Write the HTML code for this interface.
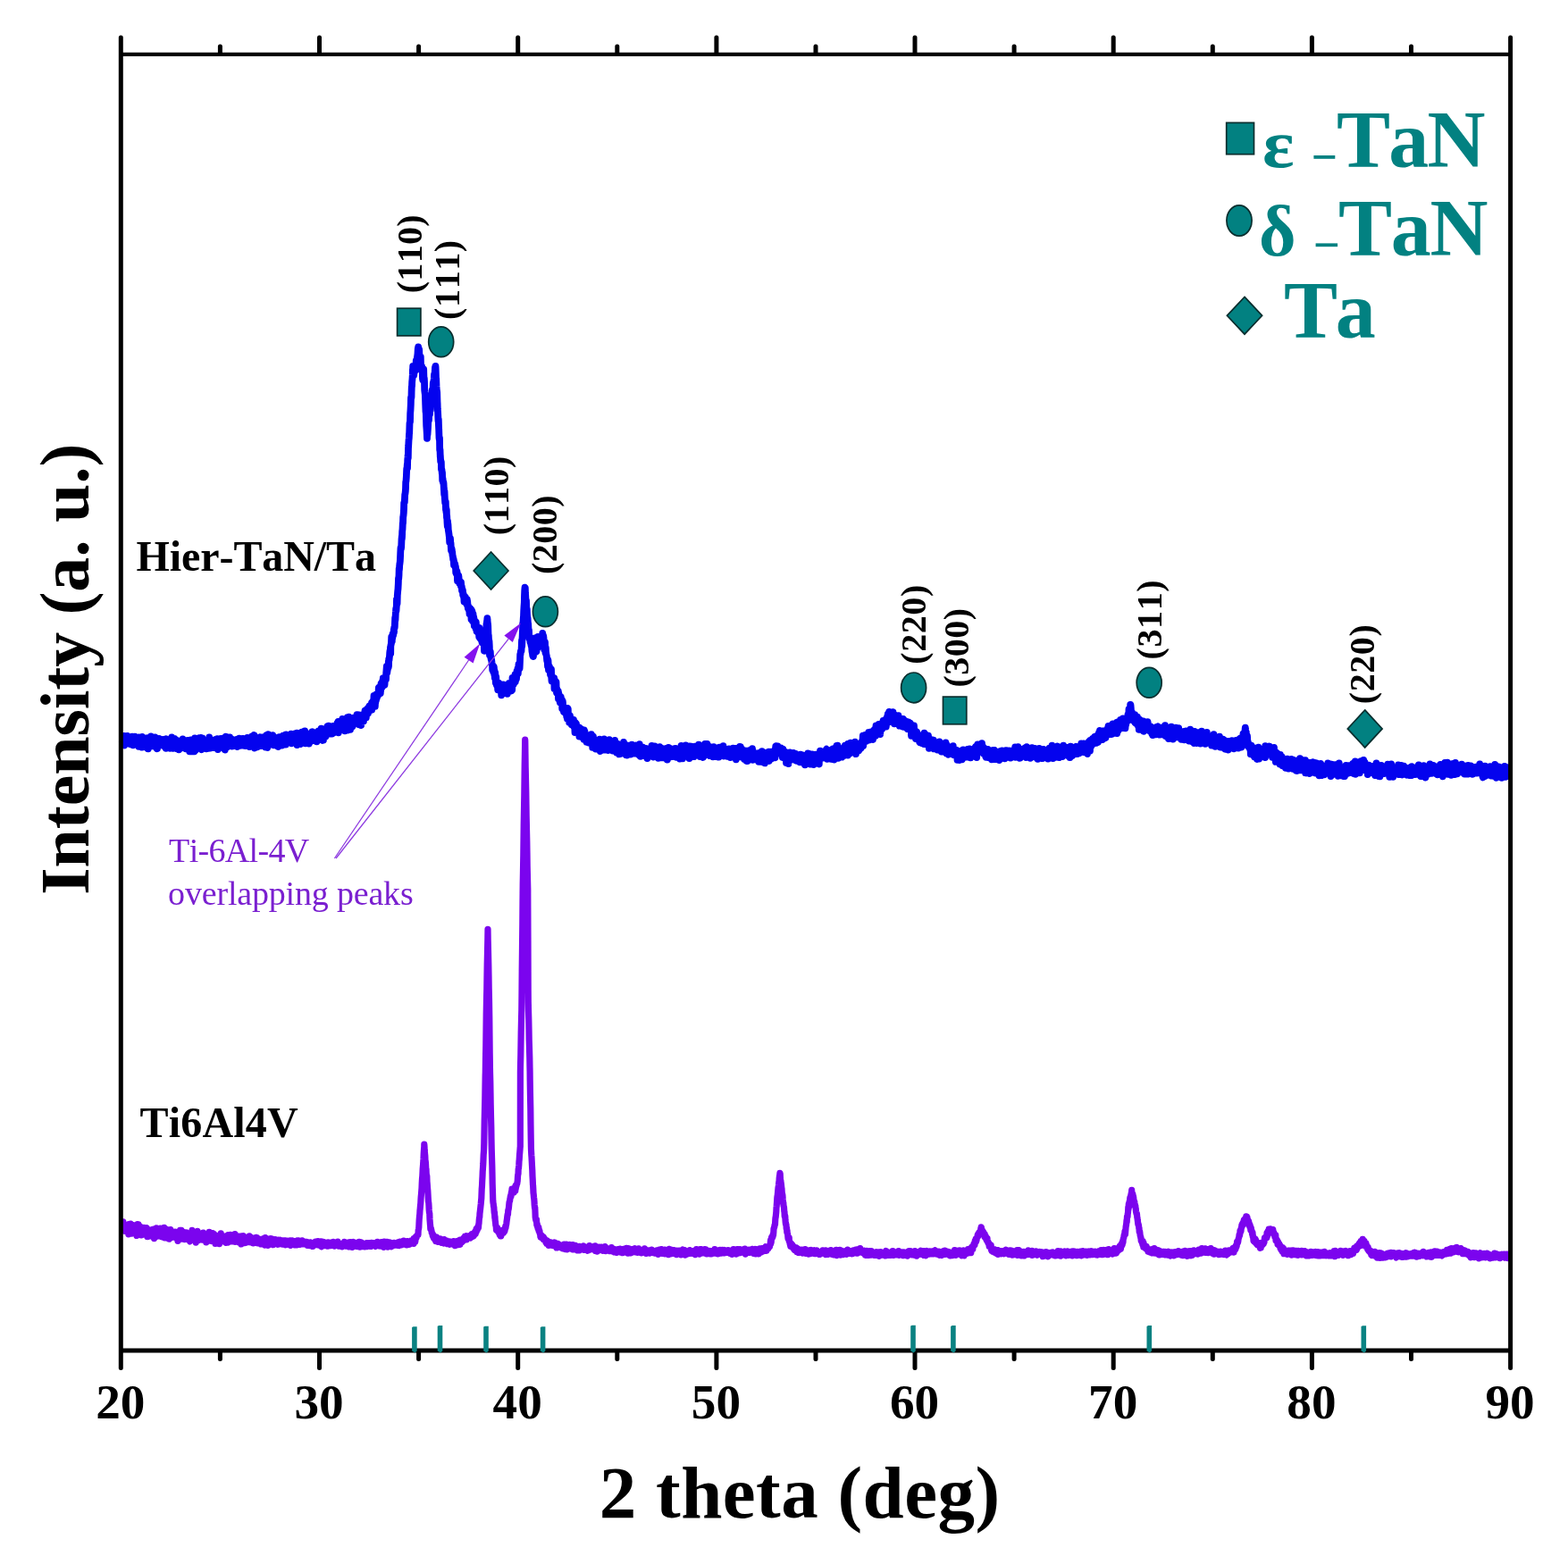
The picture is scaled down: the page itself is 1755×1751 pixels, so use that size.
<!DOCTYPE html>
<html lang="en"><head><meta charset="utf-8"><title>XRD patterns</title>
<style>html,body{margin:0;padding:0;background:#fff;overflow:hidden}svg{display:block}</style>
</head><body>
<svg width="1755" height="1751" viewBox="0 0 1755 1751">
<rect width="1755" height="1751" fill="#fff"/>
<path d="M136.5 1373.5 L136.8 1373.7 L137.0 1373.5 L137.2 1369.8 L137.5 1374.7 L137.8 1367.9 L138.0 1376.4 L138.2 1375.6 L138.5 1376.3 L138.8 1376.3 L139.0 1374.9 L139.2 1372.6 L139.5 1373.3 L139.8 1378.4 L140.0 1372.7 L140.2 1373.7 L140.5 1372.4 L140.8 1373.0 L141.0 1373.6 L141.2 1375.3 L141.5 1373.8 L141.8 1373.7 L142.0 1373.0 L142.2 1375.0 L142.5 1371.1 L142.8 1375.0 L143.0 1378.6 L143.2 1372.9 L143.5 1374.9 L143.8 1381.8 L144.0 1372.4 L144.2 1370.7 L144.5 1374.1 L144.8 1380.4 L145.0 1381.0 L145.2 1372.1 L145.5 1377.1 L145.8 1375.6 L146.0 1374.0 L146.2 1370.2 L146.5 1378.6 L146.8 1373.4 L147.0 1376.7 L147.2 1376.1 L147.5 1381.1 L147.8 1379.3 L148.0 1372.8 L148.2 1375.4 L148.5 1379.0 L148.8 1372.5 L149.0 1375.2 L149.2 1377.0 L149.5 1371.9 L149.8 1373.0 L150.0 1371.7 L150.2 1377.3 L150.5 1375.0 L150.8 1379.2 L151.0 1377.0 L151.2 1378.4 L151.5 1376.6 L151.8 1379.0 L152.0 1376.6 L152.2 1374.3 L152.5 1380.3 L152.8 1379.8 L153.0 1383.5 L153.2 1376.8 L153.5 1375.6 L153.8 1373.3 L154.0 1370.7 L154.2 1373.8 L154.5 1378.8 L154.8 1375.1 L155.0 1370.9 L155.2 1379.3 L155.5 1376.1 L155.8 1376.8 L156.0 1376.6 L156.2 1377.5 L156.5 1379.2 L156.8 1373.2 L157.0 1377.4 L157.2 1376.7 L157.5 1381.3 L157.8 1375.3 L158.0 1382.8 L158.2 1380.0 L158.5 1382.9 L158.8 1376.5 L159.0 1380.7 L159.2 1379.5 L159.5 1374.4 L159.8 1377.9 L160.0 1377.4 L160.2 1376.0 L160.5 1376.6 L160.8 1374.8 L161.0 1377.5 L161.2 1379.8 L161.5 1376.7 L161.8 1374.5 L162.0 1381.8 L162.2 1377.9 L162.5 1379.0 L162.8 1378.3 L163.0 1377.5 L163.2 1380.7 L163.5 1377.6 L163.8 1379.2 L164.0 1375.1 L164.2 1374.6 L164.5 1378.1 L164.8 1384.5 L165.0 1379.7 L165.2 1384.6 L165.5 1380.5 L165.8 1380.5 L166.0 1377.7 L166.2 1379.3 L166.5 1384.3 L166.8 1382.7 L167.0 1377.7 L167.2 1378.1 L167.5 1383.2 L167.8 1378.0 L168.0 1382.1 L168.2 1377.0 L168.5 1381.3 L168.8 1383.8 L169.0 1381.9 L169.2 1380.3 L169.5 1380.0 L169.8 1379.4 L170.0 1379.6 L170.2 1383.0 L170.5 1383.0 L170.8 1380.9 L171.0 1376.3 L171.2 1378.4 L171.5 1380.7 L171.8 1380.0 L172.0 1376.1 L172.2 1381.8 L172.5 1386.6 L172.8 1376.6 L173.0 1380.2 L173.2 1384.5 L173.5 1378.9 L173.8 1378.9 L174.0 1380.6 L174.2 1381.7 L174.5 1379.0 L174.8 1382.9 L175.0 1374.9 L175.2 1382.1 L175.5 1381.3 L175.8 1379.8 L176.0 1381.4 L176.2 1380.5 L176.5 1384.1 L176.8 1379.1 L177.0 1380.3 L177.2 1376.6 L177.5 1377.3 L177.8 1379.8 L178.0 1376.2 L178.2 1378.2 L178.5 1376.9 L178.8 1379.2 L179.0 1380.9 L179.2 1383.3 L179.5 1375.2 L179.8 1380.1 L180.0 1383.1 L180.2 1384.6 L180.5 1384.7 L180.8 1376.8 L181.0 1379.4 L181.2 1382.4 L181.5 1383.5 L181.8 1381.7 L182.0 1381.6 L182.2 1381.6 L182.5 1378.8 L182.8 1381.4 L183.0 1383.3 L183.2 1380.1 L183.5 1384.3 L183.8 1374.4 L184.0 1380.2 L184.2 1385.9 L184.5 1383.6 L184.8 1385.2 L185.0 1381.6 L185.2 1377.9 L185.5 1379.8 L185.8 1385.5 L186.0 1376.2 L186.2 1378.7 L186.5 1376.6 L186.8 1379.9 L187.0 1380.2 L187.2 1383.0 L187.5 1379.2 L187.8 1386.3 L188.0 1383.3 L188.2 1380.2 L188.5 1378.8 L188.8 1377.4 L189.0 1381.9 L189.2 1387.2 L189.5 1381.2 L189.8 1378.8 L190.0 1381.5 L190.2 1380.3 L190.5 1379.2 L190.8 1376.5 L191.0 1381.6 L191.2 1386.0 L191.5 1385.3 L191.8 1384.6 L192.0 1382.5 L192.2 1383.3 L192.5 1384.8 L192.8 1381.8 L193.0 1382.8 L193.2 1380.9 L193.5 1385.2 L193.8 1379.5 L194.0 1384.0 L194.2 1384.5 L194.5 1384.5 L194.8 1384.2 L195.0 1380.9 L195.2 1380.7 L195.5 1381.1 L195.8 1381.2 L196.0 1379.2 L196.2 1381.1 L196.5 1380.6 L196.8 1379.7 L197.0 1383.4 L197.2 1380.3 L197.5 1383.2 L197.8 1386.6 L198.0 1387.2 L198.2 1382.6 L198.5 1385.4 L198.8 1383.3 L199.0 1389.3 L199.2 1387.2 L199.5 1385.8 L199.8 1382.3 L200.0 1382.0 L200.2 1384.3 L200.5 1382.7 L200.8 1382.1 L201.0 1384.8 L201.2 1379.4 L201.5 1377.3 L201.8 1380.0 L202.0 1379.7 L202.2 1382.7 L202.5 1380.5 L202.8 1382.4 L203.0 1377.3 L203.2 1387.1 L203.5 1384.2 L203.8 1380.7 L204.0 1384.0 L204.2 1386.6 L204.5 1385.5 L204.8 1382.9 L205.0 1384.9 L205.2 1385.7 L205.5 1379.9 L205.8 1379.2 L206.0 1381.6 L206.2 1386.1 L206.5 1387.5 L206.8 1383.7 L207.0 1387.6 L207.2 1386.2 L207.5 1383.2 L207.8 1381.4 L208.0 1381.7 L208.2 1383.7 L208.5 1387.5 L208.8 1385.9 L209.0 1379.9 L209.2 1380.2 L209.5 1385.9 L209.8 1384.2 L210.0 1381.0 L210.2 1385.6 L210.5 1387.6 L210.8 1386.0 L211.0 1384.1 L211.2 1387.6 L211.5 1382.8 L211.8 1382.2 L212.0 1381.3 L212.2 1389.2 L212.5 1389.9 L212.8 1383.9 L213.0 1385.7 L213.2 1385.3 L213.5 1386.7 L213.8 1387.4 L214.0 1386.0 L214.2 1383.9 L214.5 1382.7 L214.8 1381.3 L215.0 1377.4 L215.2 1384.0 L215.5 1381.9 L215.8 1384.4 L216.0 1384.0 L216.2 1381.4 L216.5 1382.9 L216.8 1385.5 L217.0 1384.9 L217.2 1381.9 L217.5 1382.3 L217.8 1386.1 L218.0 1385.2 L218.2 1385.4 L218.5 1384.1 L218.8 1386.6 L219.0 1384.8 L219.2 1391.2 L219.5 1383.3 L219.8 1382.7 L220.0 1389.3 L220.2 1384.5 L220.5 1382.5 L220.8 1386.0 L221.0 1378.3 L221.2 1386.0 L221.5 1384.9 L221.8 1385.6 L222.0 1382.6 L222.2 1388.6 L222.5 1385.8 L222.8 1384.9 L223.0 1386.0 L223.2 1382.6 L223.5 1384.6 L223.8 1380.8 L224.0 1382.0 L224.2 1385.9 L224.5 1385.4 L224.8 1387.2 L225.0 1383.3 L225.2 1384.9 L225.5 1383.3 L225.8 1385.9 L226.0 1387.4 L226.2 1388.2 L226.5 1386.9 L226.8 1383.1 L227.0 1385.9 L227.2 1382.4 L227.5 1380.0 L227.8 1385.9 L228.0 1385.6 L228.2 1387.5 L228.5 1387.7 L228.8 1382.0 L229.0 1383.0 L229.2 1385.5 L229.5 1385.7 L229.8 1386.7 L230.0 1381.9 L230.2 1384.9 L230.5 1387.4 L230.8 1390.9 L231.0 1382.1 L231.2 1390.1 L231.5 1384.8 L231.8 1381.6 L232.0 1389.3 L232.2 1382.7 L232.5 1382.5 L232.8 1387.7 L233.0 1388.5 L233.2 1385.9 L233.5 1383.7 L233.8 1381.6 L234.0 1386.0 L234.2 1379.3 L234.5 1381.8 L234.8 1388.6 L235.0 1387.5 L235.2 1389.1 L235.5 1386.9 L235.8 1382.7 L236.0 1387.1 L236.2 1380.9 L236.5 1387.7 L236.8 1389.5 L237.0 1383.1 L237.2 1388.6 L237.5 1386.0 L237.8 1385.4 L238.0 1380.6 L238.2 1385.5 L238.5 1388.2 L238.8 1381.3 L239.0 1384.6 L239.2 1384.1 L239.5 1381.6 L239.8 1388.7 L240.0 1386.0 L240.2 1386.1 L240.5 1388.6 L240.8 1384.0 L241.0 1392.5 L241.2 1384.8 L241.5 1383.0 L241.8 1387.7 L242.0 1387.1 L242.2 1383.6 L242.5 1383.8 L242.8 1388.3 L243.0 1386.9 L243.2 1387.3 L243.5 1388.5 L243.8 1384.7 L244.0 1389.5 L244.2 1386.4 L244.5 1388.2 L244.8 1383.9 L245.0 1388.3 L245.2 1387.1 L245.5 1392.6 L245.8 1386.0 L246.0 1390.3 L246.2 1388.1 L246.5 1390.5 L246.8 1387.1 L247.0 1387.7 L247.2 1380.8 L247.5 1383.3 L247.8 1389.2 L248.0 1387.6 L248.2 1388.5 L248.5 1385.9 L248.8 1388.6 L249.0 1385.7 L249.2 1386.5 L249.5 1389.7 L249.8 1389.4 L250.0 1385.5 L250.2 1386.8 L250.5 1387.3 L250.8 1386.3 L251.0 1386.4 L251.2 1384.4 L251.5 1388.1 L251.8 1384.1 L252.0 1384.3 L252.2 1389.9 L252.5 1391.3 L252.8 1391.4 L253.0 1387.7 L253.2 1385.5 L253.5 1388.6 L253.8 1390.7 L254.0 1387.1 L254.2 1385.9 L254.5 1382.8 L254.8 1382.7 L255.0 1391.1 L255.2 1383.3 L255.5 1385.3 L255.8 1386.2 L256.0 1387.5 L256.2 1383.8 L256.5 1388.3 L256.8 1388.4 L257.0 1387.1 L257.2 1385.5 L257.5 1386.1 L257.8 1382.4 L258.0 1388.5 L258.2 1385.8 L258.5 1383.7 L258.8 1386.9 L259.0 1388.2 L259.2 1387.9 L259.5 1388.5 L259.8 1389.9 L260.0 1385.8 L260.2 1387.5 L260.5 1387.7 L260.8 1383.7 L261.0 1389.7 L261.2 1386.3 L261.5 1387.7 L261.8 1387.8 L262.0 1385.2 L262.2 1389.1 L262.5 1389.5 L262.8 1387.6 L263.0 1381.6 L263.2 1390.4 L263.5 1386.9 L263.8 1385.7 L264.0 1385.9 L264.2 1384.7 L264.5 1386.4 L264.8 1388.7 L265.0 1384.7 L265.2 1387.8 L265.5 1385.9 L265.8 1386.7 L266.0 1386.5 L266.2 1388.1 L266.5 1389.7 L266.8 1387.3 L267.0 1389.4 L267.2 1390.8 L267.5 1384.1 L267.8 1389.2 L268.0 1386.8 L268.2 1387.0 L268.5 1389.7 L268.8 1387.0 L269.0 1386.1 L269.2 1390.4 L269.5 1389.9 L269.8 1388.5 L270.0 1393.0 L270.2 1385.4 L270.5 1384.0 L270.8 1387.2 L271.0 1385.1 L271.2 1388.5 L271.5 1386.4 L271.8 1386.4 L272.0 1387.8 L272.2 1385.9 L272.5 1383.5 L272.8 1386.2 L273.0 1389.4 L273.2 1388.4 L273.5 1389.9 L273.8 1391.6 L274.0 1389.8 L274.2 1387.8 L274.5 1386.3 L274.8 1389.0 L275.0 1391.5 L275.2 1391.1 L275.5 1390.0 L275.8 1386.3 L276.0 1389.3 L276.2 1389.6 L276.5 1390.7 L276.8 1385.4 L277.0 1386.6 L277.2 1388.4 L277.5 1388.4 L277.8 1386.9 L278.0 1389.3 L278.2 1387.6 L278.5 1390.6 L278.8 1387.2 L279.0 1388.7 L279.2 1383.9 L279.5 1388.7 L279.8 1386.9 L280.0 1389.8 L280.2 1388.0 L280.5 1391.0 L280.8 1387.3 L281.0 1385.4 L281.2 1388.9 L281.5 1389.7 L281.8 1386.9 L282.0 1385.8 L282.2 1390.1 L282.5 1390.7 L282.8 1390.1 L283.0 1388.8 L283.2 1388.6 L283.5 1392.0 L283.8 1390.3 L284.0 1386.8 L284.2 1386.5 L284.5 1390.0 L284.8 1390.2 L285.0 1387.5 L285.2 1387.2 L285.5 1390.7 L285.8 1388.2 L286.0 1390.5 L286.2 1386.6 L286.5 1386.9 L286.8 1385.4 L287.0 1388.8 L287.2 1388.1 L287.5 1385.6 L287.8 1389.2 L288.0 1387.9 L288.2 1388.5 L288.5 1391.8 L288.8 1390.9 L289.0 1390.0 L289.2 1388.4 L289.5 1386.7 L289.8 1387.8 L290.0 1388.4 L290.2 1391.6 L290.5 1387.3 L290.8 1388.1 L291.0 1389.2 L291.2 1390.0 L291.5 1391.3 L291.8 1391.8 L292.0 1389.0 L292.2 1393.0 L292.5 1390.6 L292.8 1387.8 L293.0 1387.4 L293.2 1388.5 L293.5 1388.9 L293.8 1390.9 L294.0 1387.8 L294.2 1388.3 L294.5 1387.8 L294.8 1390.0 L295.0 1386.7 L295.2 1390.5 L295.5 1388.0 L295.8 1389.1 L296.0 1390.4 L296.2 1390.1 L296.5 1394.1 L296.8 1387.9 L297.0 1385.7 L297.2 1387.2 L297.5 1391.2 L297.8 1387.7 L298.0 1391.6 L298.2 1389.3 L298.5 1391.1 L298.8 1386.9 L299.0 1391.7 L299.2 1391.9 L299.5 1388.1 L299.8 1392.3 L300.0 1394.3 L300.2 1389.9 L300.5 1388.2 L300.8 1388.8 L301.0 1389.4 L301.2 1391.8 L301.5 1393.3 L301.8 1389.2 L302.0 1389.6 L302.2 1387.5 L302.5 1389.1 L302.8 1390.9 L303.0 1386.5 L303.2 1391.3 L303.5 1391.7 L303.8 1392.3 L304.0 1389.1 L304.2 1387.4 L304.5 1389.7 L304.8 1388.4 L305.0 1387.1 L305.2 1388.9 L305.5 1387.8 L305.8 1393.7 L306.0 1391.6 L306.2 1391.9 L306.5 1388.4 L306.8 1392.8 L307.0 1389.7 L307.2 1391.9 L307.5 1388.6 L307.8 1391.5 L308.0 1387.6 L308.2 1390.2 L308.5 1390.1 L308.8 1388.2 L309.0 1390.6 L309.2 1389.6 L309.5 1389.9 L309.8 1391.8 L310.0 1392.8 L310.2 1390.3 L310.5 1392.8 L310.8 1392.3 L311.0 1391.9 L311.2 1393.3 L311.5 1388.1 L311.8 1392.9 L312.0 1391.3 L312.2 1390.1 L312.5 1390.4 L312.8 1392.4 L313.0 1392.7 L313.2 1392.0 L313.5 1388.9 L313.8 1388.4 L314.0 1390.9 L314.2 1391.9 L314.5 1389.7 L314.8 1392.3 L315.0 1391.9 L315.2 1391.7 L315.5 1389.7 L315.8 1392.9 L316.0 1392.5 L316.2 1393.1 L316.5 1391.6 L316.8 1388.9 L317.0 1391.6 L317.2 1392.4 L317.5 1390.8 L317.8 1389.2 L318.0 1391.9 L318.2 1392.1 L318.5 1389.1 L318.8 1389.9 L319.0 1388.8 L319.2 1391.6 L319.5 1391.4 L319.8 1393.8 L320.0 1389.7 L320.2 1393.2 L320.5 1390.8 L320.8 1391.6 L321.0 1389.2 L321.2 1391.2 L321.5 1390.4 L321.8 1391.0 L322.0 1391.5 L322.2 1392.0 L322.5 1392.5 L322.8 1391.2 L323.0 1389.9 L323.2 1392.8 L323.5 1391.4 L323.8 1390.4 L324.0 1393.4 L324.2 1391.8 L324.5 1392.4 L324.8 1388.8 L325.0 1390.4 L325.2 1394.4 L325.5 1392.1 L325.8 1392.1 L326.0 1390.4 L326.2 1391.2 L326.5 1392.0 L326.8 1391.3 L327.0 1391.3 L327.2 1388.9 L327.5 1390.3 L327.8 1390.8 L328.0 1392.3 L328.2 1392.3 L328.5 1391.5 L328.8 1390.5 L329.0 1390.5 L329.2 1391.9 L329.5 1389.6 L329.8 1391.3 L330.0 1391.1 L330.2 1391.2 L330.5 1394.0 L330.8 1391.4 L331.0 1392.8 L331.2 1393.9 L331.5 1392.4 L331.8 1391.7 L332.0 1389.9 L332.2 1394.0 L332.5 1390.2 L332.8 1388.9 L333.0 1393.2 L333.2 1389.7 L333.5 1390.1 L333.8 1390.8 L334.0 1390.1 L334.2 1388.8 L334.5 1392.0 L334.8 1392.4 L335.0 1392.8 L335.2 1391.8 L335.5 1391.3 L335.8 1391.1 L336.0 1393.5 L336.2 1393.0 L336.5 1391.3 L336.8 1392.3 L337.0 1390.3 L337.2 1392.6 L337.5 1390.5 L337.8 1391.7 L338.0 1391.6 L338.2 1388.8 L338.5 1392.8 L338.8 1391.9 L339.0 1390.9 L339.2 1391.0 L339.5 1391.9 L339.8 1391.8 L340.0 1392.6 L340.2 1392.2 L340.5 1392.8 L340.8 1392.4 L341.0 1390.3 L341.2 1390.3 L341.5 1392.7 L341.8 1392.6 L342.0 1392.1 L342.2 1390.4 L342.5 1391.2 L342.8 1391.1 L343.0 1393.0 L343.2 1391.1 L343.5 1390.4 L343.8 1391.2 L344.0 1392.6 L344.2 1394.3 L344.5 1391.6 L344.8 1393.7 L345.0 1391.7 L345.2 1391.7 L345.5 1391.2 L345.8 1393.3 L346.0 1391.7 L346.2 1393.6 L346.5 1391.8 L346.8 1394.6 L347.0 1392.7 L347.2 1392.5 L347.5 1390.9 L347.8 1394.1 L348.0 1392.9 L348.2 1392.6 L348.5 1392.5 L348.8 1391.9 L349.0 1391.9 L349.2 1393.0 L349.5 1391.5 L349.8 1392.4 L350.0 1395.5 L350.2 1392.4 L350.5 1392.2 L350.8 1393.8 L351.0 1391.4 L351.2 1394.4 L351.5 1392.6 L351.8 1391.1 L352.0 1392.5 L352.2 1391.8 L352.5 1393.6 L352.8 1392.1 L353.0 1393.6 L353.2 1390.2 L353.5 1392.1 L353.8 1393.4 L354.0 1393.3 L354.2 1392.8 L354.5 1393.7 L354.8 1393.7 L355.0 1392.7 L355.2 1393.0 L355.5 1393.9 L355.8 1393.0 L356.0 1389.6 L356.2 1390.7 L356.5 1391.9 L356.8 1393.6 L357.0 1392.9 L357.2 1393.6 L357.5 1394.1 L357.8 1393.5 L358.0 1391.6 L358.2 1393.9 L358.5 1391.1 L358.8 1391.1 L359.0 1392.2 L359.2 1389.9 L359.5 1395.0 L359.8 1395.8 L360.0 1392.6 L360.2 1392.3 L360.5 1390.1 L360.8 1393.5 L361.0 1391.9 L361.2 1391.2 L361.5 1391.0 L361.8 1392.6 L362.0 1392.5 L362.2 1392.6 L362.5 1392.0 L362.8 1390.6 L363.0 1394.7 L363.2 1393.9 L363.5 1392.1 L363.8 1391.1 L364.0 1391.5 L364.2 1393.7 L364.5 1393.5 L364.8 1393.2 L365.0 1394.4 L365.2 1392.2 L365.5 1394.7 L365.8 1393.1 L366.0 1391.9 L366.2 1393.6 L366.5 1393.3 L366.8 1392.0 L367.0 1395.2 L367.2 1390.8 L367.5 1393.3 L367.8 1393.5 L368.0 1392.0 L368.2 1393.0 L368.5 1394.7 L368.8 1391.5 L369.0 1391.6 L369.2 1392.6 L369.5 1393.7 L369.8 1394.5 L370.0 1393.8 L370.2 1391.6 L370.5 1394.5 L370.8 1394.0 L371.0 1394.4 L371.2 1390.9 L371.5 1390.9 L371.8 1392.2 L372.0 1392.5 L372.2 1393.0 L372.5 1391.6 L372.8 1391.7 L373.0 1393.6 L373.2 1390.3 L373.5 1391.5 L373.8 1393.1 L374.0 1394.0 L374.2 1393.4 L374.5 1395.1 L374.8 1393.5 L375.0 1394.0 L375.2 1394.1 L375.5 1393.1 L375.8 1391.4 L376.0 1392.7 L376.2 1392.8 L376.5 1392.0 L376.8 1394.0 L377.0 1392.4 L377.2 1391.2 L377.5 1393.1 L377.8 1391.8 L378.0 1393.8 L378.2 1390.2 L378.5 1390.9 L378.8 1393.1 L379.0 1393.5 L379.2 1393.2 L379.5 1395.1 L379.8 1392.8 L380.0 1392.5 L380.2 1394.2 L380.5 1392.8 L380.8 1393.7 L381.0 1394.8 L381.2 1393.0 L381.5 1393.1 L381.8 1392.4 L382.0 1393.7 L382.2 1394.0 L382.5 1394.6 L382.8 1394.1 L383.0 1395.8 L383.2 1393.5 L383.5 1393.5 L383.8 1392.9 L384.0 1395.0 L384.2 1393.4 L384.5 1393.0 L384.8 1391.7 L385.0 1393.2 L385.2 1394.5 L385.5 1390.4 L385.8 1392.0 L386.0 1392.2 L386.2 1392.4 L386.5 1393.5 L386.8 1392.9 L387.0 1393.6 L387.2 1393.8 L387.5 1395.2 L387.8 1393.1 L388.0 1393.9 L388.2 1393.2 L388.5 1393.7 L388.8 1393.1 L389.0 1392.0 L389.2 1394.0 L389.5 1394.9 L389.8 1392.3 L390.0 1393.5 L390.2 1393.5 L390.5 1390.8 L390.8 1396.0 L391.0 1395.4 L391.2 1395.0 L391.5 1394.8 L391.8 1392.4 L392.0 1390.5 L392.2 1393.4 L392.5 1393.6 L392.8 1393.2 L393.0 1392.9 L393.2 1394.8 L393.5 1394.5 L393.8 1393.5 L394.0 1392.8 L394.2 1396.4 L394.5 1394.5 L394.8 1393.6 L395.0 1391.8 L395.2 1391.5 L395.5 1390.4 L395.8 1393.1 L396.0 1393.8 L396.2 1393.2 L396.5 1393.5 L396.8 1393.8 L397.0 1394.5 L397.2 1391.2 L397.5 1391.9 L397.8 1394.6 L398.0 1393.8 L398.2 1394.1 L398.5 1392.2 L398.8 1395.4 L399.0 1393.6 L399.2 1393.1 L399.5 1392.3 L399.8 1393.7 L400.0 1393.7 L400.2 1393.3 L400.5 1395.5 L400.8 1395.0 L401.0 1393.4 L401.2 1392.7 L401.5 1392.9 L401.8 1393.9 L402.0 1390.4 L402.2 1393.8 L402.5 1393.2 L402.8 1396.2 L403.0 1394.0 L403.2 1393.2 L403.5 1393.5 L403.8 1392.6 L404.0 1392.6 L404.2 1393.4 L404.5 1390.9 L404.8 1393.5 L405.0 1391.3 L405.2 1392.5 L405.5 1392.5 L405.8 1394.3 L406.0 1395.5 L406.2 1395.3 L406.5 1392.8 L406.8 1393.1 L407.0 1393.5 L407.2 1393.6 L407.5 1394.9 L407.8 1394.3 L408.0 1393.4 L408.2 1395.9 L408.5 1394.6 L408.8 1395.8 L409.0 1393.4 L409.2 1394.2 L409.5 1393.9 L409.8 1393.7 L410.0 1392.1 L410.2 1393.8 L410.5 1391.6 L410.8 1393.9 L411.0 1395.7 L411.2 1394.9 L411.5 1393.8 L411.8 1393.1 L412.0 1394.4 L412.2 1392.1 L412.5 1391.9 L412.8 1391.7 L413.0 1393.9 L413.2 1391.7 L413.5 1394.2 L413.8 1394.7 L414.0 1394.3 L414.2 1393.3 L414.5 1393.9 L414.8 1391.8 L415.0 1393.6 L415.2 1395.5 L415.5 1395.3 L415.8 1391.3 L416.0 1393.3 L416.2 1392.9 L416.5 1394.5 L416.8 1393.7 L417.0 1393.2 L417.2 1392.5 L417.5 1393.5 L417.8 1393.2 L418.0 1393.4 L418.2 1393.1 L418.5 1391.7 L418.8 1393.9 L419.0 1393.9 L419.2 1393.6 L419.5 1393.7 L419.8 1394.9 L420.0 1394.7 L420.2 1395.5 L420.5 1394.2 L420.8 1394.4 L421.0 1393.4 L421.2 1392.0 L421.5 1391.8 L421.8 1394.0 L422.0 1393.5 L422.2 1394.0 L422.5 1390.3 L422.8 1393.0 L423.0 1393.4 L423.2 1392.8 L423.5 1392.9 L423.8 1390.9 L424.0 1393.1 L424.2 1394.8 L424.5 1391.7 L424.8 1393.9 L425.0 1392.3 L425.2 1393.4 L425.5 1395.0 L425.8 1393.3 L426.0 1393.7 L426.2 1394.0 L426.5 1393.1 L426.8 1394.8 L427.0 1390.6 L427.2 1392.8 L427.5 1390.7 L427.8 1391.2 L428.0 1393.2 L428.2 1391.6 L428.5 1392.6 L428.8 1394.9 L429.0 1393.9 L429.2 1396.3 L429.5 1393.0 L429.8 1393.2 L430.0 1390.1 L430.2 1393.1 L430.5 1392.5 L430.8 1393.7 L431.0 1393.2 L431.2 1392.3 L431.5 1390.6 L431.8 1394.1 L432.0 1392.1 L432.2 1390.8 L432.5 1393.5 L432.8 1390.4 L433.0 1392.2 L433.2 1390.3 L433.5 1392.6 L433.8 1390.7 L434.0 1396.1 L434.2 1394.4 L434.5 1393.5 L434.8 1393.3 L435.0 1393.7 L435.2 1393.9 L435.5 1393.2 L435.8 1391.4 L436.0 1393.0 L436.2 1390.8 L436.5 1392.3 L436.8 1393.3 L437.0 1391.3 L437.2 1393.3 L437.5 1392.1 L437.8 1395.8 L438.0 1392.2 L438.2 1393.3 L438.5 1393.5 L438.8 1392.9 L439.0 1393.1 L439.2 1392.3 L439.5 1392.8 L439.8 1392.9 L440.0 1393.7 L440.2 1394.3 L440.5 1392.6 L440.8 1394.5 L441.0 1392.6 L441.2 1391.4 L441.5 1392.1 L441.8 1391.8 L442.0 1392.3 L442.2 1392.7 L442.5 1392.9 L442.8 1394.1 L443.0 1393.5 L443.2 1392.0 L443.5 1393.3 L443.8 1392.5 L444.0 1393.5 L444.2 1394.1 L444.5 1392.4 L444.8 1393.5 L445.0 1394.3 L445.2 1393.0 L445.5 1391.0 L445.8 1392.3 L446.0 1391.3 L446.2 1393.7 L446.5 1392.7 L446.8 1392.8 L447.0 1394.7 L447.2 1393.4 L447.5 1392.5 L447.8 1390.0 L448.0 1391.7 L448.2 1391.4 L448.5 1392.1 L448.8 1390.7 L449.0 1393.1 L449.2 1393.9 L449.5 1391.8 L449.8 1390.3 L450.0 1392.4 L450.2 1391.9 L450.5 1393.5 L450.8 1392.1 L451.0 1391.2 L451.2 1390.4 L451.5 1392.2 L451.8 1389.1 L452.0 1390.7 L452.2 1393.1 L452.5 1391.9 L452.8 1392.0 L453.0 1391.8 L453.2 1390.3 L453.5 1391.6 L453.8 1392.6 L454.0 1392.7 L454.2 1390.7 L454.5 1392.1 L454.8 1393.2 L455.0 1392.3 L455.2 1393.9 L455.5 1391.8 L455.8 1389.6 L456.0 1391.6 L456.2 1391.8 L456.5 1392.4 L456.8 1392.1 L457.0 1393.3 L457.2 1392.0 L457.5 1391.4 L457.8 1390.4 L458.0 1390.7 L458.2 1392.6 L458.5 1393.3 L458.8 1391.2 L459.0 1390.9 L459.2 1390.3 L459.5 1390.8 L459.8 1390.5 L460.0 1389.7 L460.2 1391.4 L460.5 1388.8 L460.8 1390.3 L461.0 1390.2 L461.2 1390.8 L461.5 1389.6 L461.8 1388.5 L462.0 1389.5 L462.2 1388.3 L462.5 1389.0 L462.8 1388.4 L463.0 1392.4 L463.2 1386.5 L463.5 1387.6 L463.8 1390.7 L464.0 1388.7 L464.2 1386.8 L464.5 1388.9 L464.8 1390.3 L465.0 1387.3 L465.2 1387.9 L465.5 1384.7 L465.8 1385.2 L466.0 1385.8 L466.2 1385.3 L466.5 1383.8 L466.8 1383.5 L467.0 1383.0 L467.2 1382.3 L467.5 1382.2 L467.8 1381.7 L468.0 1382.5 L468.2 1377.3 L468.5 1376.1 L468.8 1374.2 L469.0 1369.4 L469.2 1365.5 L469.5 1361.8 L469.8 1359.1 L470.0 1355.2 L470.2 1353.5 L470.5 1349.9 L470.8 1347.1 L471.0 1342.9 L471.2 1339.8 L471.5 1336.9 L471.8 1332.7 L472.0 1330.4 L472.2 1325.2 L472.5 1319.6 L472.8 1316.7 L473.0 1312.8 L473.2 1308.2 L473.5 1304.8 L473.8 1300.6 L474.0 1297.4 L474.2 1292.0 L474.5 1287.2 L474.8 1283.7 L474.8 1281.2 L475.0 1283.1 L475.2 1287.6 L475.5 1291.2 L475.8 1294.0 L476.0 1299.0 L476.2 1299.7 L476.5 1302.6 L476.8 1308.9 L477.0 1308.3 L477.2 1313.7 L477.5 1315.9 L477.8 1316.5 L478.0 1323.0 L478.2 1325.2 L478.5 1329.4 L478.8 1332.8 L479.0 1336.4 L479.2 1340.5 L479.5 1345.2 L479.8 1346.8 L480.0 1349.8 L480.2 1354.5 L480.5 1357.7 L480.8 1358.4 L481.0 1364.9 L481.2 1367.6 L481.5 1371.4 L481.6 1371.5 L481.8 1375.9 L482.0 1375.1 L482.2 1374.9 L482.5 1375.9 L482.8 1377.1 L483.0 1378.2 L483.2 1380.2 L483.5 1380.6 L483.8 1380.5 L484.0 1381.7 L484.2 1383.2 L484.5 1381.6 L484.8 1382.8 L485.0 1384.9 L485.2 1384.1 L485.5 1386.3 L485.8 1383.5 L486.0 1384.8 L486.2 1384.8 L486.5 1385.1 L486.8 1387.6 L487.0 1388.4 L487.2 1387.3 L487.5 1387.1 L487.8 1389.6 L488.0 1389.5 L488.2 1384.8 L488.5 1387.5 L488.8 1385.0 L489.0 1385.7 L489.2 1386.9 L489.5 1386.4 L489.8 1388.7 L490.0 1387.5 L490.2 1387.8 L490.5 1388.1 L490.8 1390.5 L491.0 1388.7 L491.2 1389.6 L491.5 1389.2 L491.8 1390.1 L492.0 1388.7 L492.2 1388.6 L492.5 1390.4 L492.8 1389.1 L493.0 1386.9 L493.2 1387.4 L493.5 1388.5 L493.8 1389.8 L494.0 1388.2 L494.2 1391.3 L494.5 1389.9 L494.8 1389.1 L495.0 1388.0 L495.2 1390.5 L495.5 1390.5 L495.8 1388.3 L496.0 1391.6 L496.2 1391.5 L496.5 1391.9 L496.8 1390.0 L497.0 1391.4 L497.2 1387.6 L497.5 1390.8 L497.8 1389.8 L498.0 1390.3 L498.2 1391.1 L498.5 1389.7 L498.8 1390.4 L499.0 1389.5 L499.2 1389.8 L499.4 1389.4 L499.5 1391.3 L499.8 1392.5 L500.0 1389.7 L500.2 1388.9 L500.5 1390.7 L500.8 1391.5 L501.0 1391.4 L501.2 1389.6 L501.5 1391.1 L501.8 1390.1 L502.0 1390.6 L502.2 1391.0 L502.5 1390.7 L502.8 1391.9 L503.0 1390.7 L503.2 1393.3 L503.5 1391.5 L503.8 1390.0 L504.0 1392.7 L504.2 1392.6 L504.5 1391.9 L504.8 1391.6 L505.0 1392.0 L505.2 1392.7 L505.5 1391.5 L505.8 1392.8 L506.0 1391.0 L506.2 1392.4 L506.5 1390.5 L506.8 1392.3 L507.0 1392.6 L507.2 1391.2 L507.5 1392.4 L507.8 1389.6 L508.0 1391.9 L508.2 1391.7 L508.5 1392.9 L508.8 1392.1 L509.0 1393.5 L509.2 1394.6 L509.5 1392.4 L509.8 1393.4 L510.0 1394.5 L510.2 1393.5 L510.5 1393.6 L510.8 1391.9 L511.0 1392.6 L511.2 1390.7 L511.5 1393.1 L511.8 1392.4 L512.0 1392.4 L512.2 1389.4 L512.5 1393.0 L512.8 1393.6 L513.0 1393.4 L513.2 1392.1 L513.5 1393.2 L513.8 1391.5 L514.0 1390.5 L514.2 1391.2 L514.5 1390.3 L514.8 1393.4 L515.0 1388.0 L515.2 1391.2 L515.5 1389.6 L515.8 1389.7 L516.0 1391.1 L516.2 1389.9 L516.5 1391.1 L516.8 1389.3 L517.0 1389.1 L517.2 1389.1 L517.5 1390.3 L517.8 1387.7 L518.0 1387.9 L518.2 1387.4 L518.5 1387.3 L518.8 1386.1 L519.0 1387.0 L519.2 1387.7 L519.5 1388.7 L519.8 1387.2 L520.0 1385.7 L520.2 1388.2 L520.5 1384.1 L520.8 1386.8 L521.0 1384.6 L521.2 1385.8 L521.5 1384.2 L521.8 1383.9 L522.0 1385.1 L522.2 1387.9 L522.5 1386.0 L522.8 1386.6 L523.0 1385.0 L523.2 1385.4 L523.5 1384.3 L523.8 1384.4 L524.0 1384.7 L524.2 1386.2 L524.5 1385.3 L524.8 1383.9 L525.0 1384.5 L525.2 1383.6 L525.5 1385.3 L525.8 1384.8 L526.0 1384.7 L526.2 1385.2 L526.5 1385.0 L526.8 1386.0 L527.0 1383.2 L527.2 1385.0 L527.5 1383.7 L527.8 1385.0 L528.0 1383.2 L528.2 1381.6 L528.5 1383.1 L528.8 1382.8 L529.0 1382.1 L529.2 1382.7 L529.5 1384.3 L529.8 1382.2 L530.0 1383.2 L530.2 1383.8 L530.5 1383.1 L530.8 1382.1 L531.0 1382.4 L531.2 1380.5 L531.5 1379.1 L531.8 1378.6 L532.0 1381.3 L532.2 1381.6 L532.5 1379.2 L532.8 1379.4 L533.0 1376.2 L533.2 1379.3 L533.5 1377.7 L533.8 1375.0 L534.0 1377.3 L534.2 1376.8 L534.5 1376.5 L534.8 1374.7 L535.0 1374.6 L535.2 1372.6 L535.5 1374.6 L535.8 1370.4 L536.0 1369.7 L536.2 1366.6 L536.5 1363.4 L536.8 1362.7 L537.0 1358.3 L537.2 1357.1 L537.5 1354.5 L537.8 1351.9 L538.0 1349.8 L538.2 1348.1 L538.5 1344.6 L538.7 1342.6 L538.8 1341.9 L539.0 1336.7 L539.2 1331.4 L539.5 1327.6 L539.8 1320.8 L540.0 1317.4 L540.2 1312.1 L540.5 1307.8 L540.8 1303.1 L541.0 1298.0 L541.2 1292.9 L541.5 1289.1 L541.7 1283.7 L541.8 1280.6 L542.0 1268.1 L542.2 1255.6 L542.5 1243.1 L542.8 1230.2 L543.0 1216.0 L543.2 1203.4 L543.3 1201.0 L543.5 1186.4 L543.8 1170.8 L544.0 1153.6 L544.2 1136.6 L544.5 1120.4 L544.8 1107.1 L545.0 1092.1 L545.2 1080.1 L545.5 1066.8 L545.8 1052.9 L546.0 1040.3 L546.2 1053.1 L546.5 1066.2 L546.8 1080.0 L547.0 1092.1 L547.2 1106.9 L547.5 1120.3 L547.8 1140.2 L548.0 1160.3 L548.2 1179.8 L548.5 1199.7 L548.8 1211.2 L549.0 1223.6 L549.2 1236.6 L549.5 1250.0 L549.8 1261.8 L550.0 1275.0 L550.2 1284.5 L550.2 1285.3 L550.5 1295.4 L550.8 1304.9 L551.0 1314.4 L551.2 1325.5 L551.5 1335.6 L551.7 1342.1 L551.8 1344.6 L552.0 1346.7 L552.2 1347.4 L552.5 1350.7 L552.8 1351.5 L553.0 1354.9 L553.2 1357.7 L553.5 1357.4 L553.8 1363.2 L554.0 1362.1 L554.2 1366.3 L554.5 1368.0 L554.8 1371.7 L555.0 1372.0 L555.2 1373.0 L555.5 1377.0 L555.8 1376.6 L556.0 1376.1 L556.2 1374.7 L556.5 1376.5 L556.8 1374.5 L557.0 1376.1 L557.2 1378.1 L557.5 1379.0 L557.8 1378.1 L558.0 1380.0 L558.2 1380.3 L558.5 1378.3 L558.8 1380.1 L559.0 1380.0 L559.2 1382.1 L559.5 1379.0 L559.8 1381.4 L560.0 1380.8 L560.2 1383.8 L560.5 1378.7 L560.8 1383.9 L561.0 1381.8 L561.2 1382.5 L561.5 1379.7 L561.8 1379.6 L562.0 1380.7 L562.2 1380.9 L562.5 1377.4 L562.8 1379.4 L563.0 1379.4 L563.2 1379.6 L563.5 1380.4 L563.8 1379.6 L564.0 1378.7 L564.2 1376.8 L564.5 1375.7 L564.8 1377.1 L565.0 1378.1 L565.2 1375.6 L565.5 1376.0 L565.8 1372.9 L566.0 1374.7 L566.2 1372.8 L566.2 1372.8 L566.5 1371.8 L566.8 1370.2 L567.0 1368.0 L567.2 1366.5 L567.5 1364.7 L567.8 1361.9 L568.0 1360.7 L568.2 1359.4 L568.5 1359.5 L568.8 1354.7 L569.0 1354.5 L569.2 1353.8 L569.5 1351.8 L569.8 1348.3 L570.0 1346.3 L570.2 1345.4 L570.5 1344.7 L570.7 1344.0 L570.8 1342.6 L571.0 1341.9 L571.2 1340.2 L571.5 1338.6 L571.8 1339.9 L572.0 1339.4 L572.2 1336.1 L572.5 1334.2 L572.8 1334.9 L573.0 1331.2 L573.2 1331.2 L573.5 1333.0 L573.8 1335.1 L574.0 1332.2 L574.2 1332.7 L574.5 1334.5 L574.8 1330.9 L575.0 1330.4 L575.2 1335.0 L575.5 1333.5 L575.8 1331.6 L576.0 1332.7 L576.2 1332.6 L576.5 1330.5 L576.8 1333.2 L577.0 1327.7 L577.2 1331.1 L577.5 1329.0 L577.8 1328.2 L578.0 1327.7 L578.2 1326.0 L578.5 1326.0 L578.8 1325.0 L579.0 1323.4 L579.2 1322.5 L579.5 1317.4 L579.8 1314.6 L580.0 1314.5 L580.2 1308.9 L580.5 1307.8 L580.8 1304.5 L581.0 1300.2 L581.2 1298.5 L581.5 1293.3 L581.8 1289.9 L582.0 1287.2 L582.2 1284.2 L582.3 1284.1 L582.4 1200.3 L582.5 1194.3 L582.8 1181.6 L583.0 1168.8 L583.2 1156.0 L583.5 1142.6 L583.8 1130.7 L583.9 1121.8 L584.0 1111.4 L584.2 1087.1 L584.5 1061.6 L584.8 1035.6 L585.0 1009.8 L585.1 1000.1 L585.2 990.5 L585.5 974.4 L585.8 957.9 L586.0 940.3 L586.2 924.0 L586.5 907.3 L586.8 890.9 L587.0 874.1 L587.2 857.6 L587.5 841.2 L587.7 828.1 L587.8 829.7 L588.0 844.4 L588.2 859.0 L588.5 872.7 L588.8 886.7 L589.0 900.6 L589.2 914.3 L589.5 928.5 L589.8 941.8 L590.0 954.9 L590.2 970.3 L590.5 983.6 L590.8 996.2 L590.8 1000.4 L591.0 1049.0 L591.2 1109.5 L591.3 1122.1 L591.5 1130.7 L591.8 1141.8 L592.0 1152.0 L592.2 1164.3 L592.5 1173.4 L592.8 1184.1 L593.0 1195.4 L593.1 1200.0 L593.2 1209.4 L593.5 1226.7 L593.8 1241.4 L594.0 1259.5 L594.2 1273.5 L594.4 1284.3 L594.5 1287.6 L594.8 1293.2 L595.0 1295.8 L595.2 1299.6 L595.5 1305.4 L595.8 1310.5 L596.0 1316.6 L596.2 1320.1 L596.5 1326.9 L596.6 1327.1 L596.8 1330.7 L597.0 1335.4 L597.2 1336.9 L597.5 1340.4 L597.8 1342.5 L598.0 1345.0 L598.2 1349.0 L598.5 1352.1 L598.8 1352.0 L599.0 1356.9 L599.2 1362.9 L599.5 1364.5 L599.6 1365.3 L599.8 1365.2 L600.0 1366.0 L600.2 1367.2 L600.5 1365.2 L600.8 1371.2 L601.0 1370.4 L601.2 1369.8 L601.5 1373.3 L601.8 1372.4 L602.0 1375.1 L602.2 1373.5 L602.5 1376.1 L602.8 1374.0 L603.0 1377.9 L603.2 1375.9 L603.5 1378.6 L603.8 1379.9 L604.0 1378.3 L604.2 1381.3 L604.5 1381.5 L604.8 1383.0 L604.8 1384.3 L605.0 1383.3 L605.2 1385.1 L605.5 1382.7 L605.8 1382.8 L606.0 1385.5 L606.2 1383.2 L606.5 1385.2 L606.8 1383.9 L607.0 1385.2 L607.2 1386.0 L607.5 1384.8 L607.8 1385.1 L608.0 1384.4 L608.2 1387.5 L608.5 1385.6 L608.8 1385.7 L609.0 1387.1 L609.2 1387.0 L609.5 1386.6 L609.8 1388.3 L610.0 1388.3 L610.2 1387.5 L610.5 1388.0 L610.8 1390.5 L611.0 1389.2 L611.2 1388.7 L611.5 1389.5 L611.8 1390.5 L612.0 1392.5 L612.2 1388.8 L612.5 1391.1 L612.8 1390.1 L613.0 1391.5 L613.2 1390.6 L613.5 1390.6 L613.7 1390.8 L613.8 1391.1 L614.0 1392.2 L614.2 1394.3 L614.5 1390.7 L614.8 1391.0 L615.0 1391.5 L615.2 1394.1 L615.5 1394.1 L615.8 1394.1 L616.0 1393.0 L616.2 1392.4 L616.5 1390.9 L616.8 1392.6 L617.0 1393.0 L617.2 1392.1 L617.5 1391.9 L617.8 1391.2 L618.0 1393.3 L618.2 1392.7 L618.5 1394.1 L618.8 1392.2 L619.0 1392.3 L619.2 1394.6 L619.5 1393.3 L619.8 1391.2 L620.0 1392.3 L620.2 1392.0 L620.5 1393.1 L620.8 1391.0 L621.0 1394.3 L621.2 1394.4 L621.5 1393.5 L621.8 1393.5 L622.0 1393.6 L622.2 1393.1 L622.5 1395.2 L622.8 1392.6 L623.0 1397.0 L623.2 1392.6 L623.5 1394.4 L623.8 1392.9 L624.0 1393.2 L624.2 1394.0 L624.5 1392.4 L624.8 1395.1 L625.0 1394.7 L625.2 1395.2 L625.5 1395.5 L625.8 1393.6 L626.0 1394.4 L626.2 1394.4 L626.5 1396.2 L626.8 1394.7 L627.0 1393.8 L627.2 1395.4 L627.5 1394.5 L627.8 1396.2 L628.0 1396.9 L628.2 1396.5 L628.5 1394.3 L628.8 1396.5 L629.0 1394.3 L629.2 1395.0 L629.5 1396.7 L629.8 1395.9 L630.0 1398.0 L630.2 1396.7 L630.5 1396.0 L630.8 1397.3 L631.0 1396.0 L631.2 1397.6 L631.5 1393.1 L631.8 1395.9 L632.0 1394.9 L632.2 1395.9 L632.5 1395.5 L632.8 1398.7 L633.0 1397.0 L633.2 1396.2 L633.5 1397.5 L633.8 1393.2 L634.0 1398.1 L634.2 1393.7 L634.5 1396.5 L634.8 1398.9 L635.0 1394.9 L635.2 1395.2 L635.5 1393.5 L635.8 1394.0 L636.0 1396.7 L636.2 1396.6 L636.5 1395.8 L636.8 1396.9 L637.0 1395.8 L637.2 1395.3 L637.5 1395.9 L637.8 1394.9 L638.0 1393.5 L638.2 1396.2 L638.5 1397.0 L638.8 1398.0 L639.0 1397.3 L639.2 1396.2 L639.5 1395.5 L639.8 1396.4 L640.0 1397.0 L640.2 1396.5 L640.5 1395.9 L640.8 1397.1 L641.0 1393.6 L641.2 1397.5 L641.5 1398.9 L641.8 1395.0 L642.0 1397.5 L642.2 1396.2 L642.5 1395.7 L642.8 1397.6 L643.0 1397.5 L643.2 1396.5 L643.5 1399.0 L643.8 1397.4 L644.0 1394.4 L644.2 1398.8 L644.5 1397.0 L644.8 1398.9 L645.0 1395.5 L645.2 1395.7 L645.5 1396.2 L645.8 1397.3 L646.0 1397.8 L646.2 1395.9 L646.5 1400.0 L646.8 1395.7 L647.0 1396.4 L647.2 1399.5 L647.5 1399.4 L647.8 1398.9 L648.0 1397.4 L648.2 1397.1 L648.5 1399.9 L648.8 1395.3 L649.0 1396.2 L649.2 1397.0 L649.5 1397.2 L649.8 1398.4 L650.0 1397.1 L650.2 1397.4 L650.5 1397.6 L650.8 1396.6 L651.0 1397.3 L651.2 1395.5 L651.5 1395.9 L651.8 1397.1 L652.0 1396.6 L652.2 1397.9 L652.5 1397.1 L652.8 1397.4 L653.0 1398.3 L653.2 1394.9 L653.5 1395.7 L653.8 1396.7 L654.0 1399.5 L654.2 1396.6 L654.5 1399.5 L654.8 1398.5 L655.0 1397.3 L655.2 1397.7 L655.5 1398.0 L655.8 1396.7 L656.0 1399.1 L656.2 1397.8 L656.5 1397.3 L656.8 1396.5 L657.0 1398.0 L657.2 1398.0 L657.5 1398.4 L657.8 1400.3 L658.0 1398.2 L658.2 1396.6 L658.5 1396.5 L658.8 1395.8 L659.0 1396.1 L659.2 1395.7 L659.5 1398.6 L659.8 1394.6 L660.0 1399.3 L660.2 1396.6 L660.5 1395.7 L660.8 1396.4 L661.0 1397.4 L661.2 1397.5 L661.5 1396.8 L661.8 1398.8 L662.0 1395.8 L662.2 1396.3 L662.5 1398.4 L662.7 1395.8 L662.8 1396.5 L663.0 1398.2 L663.2 1398.3 L663.5 1398.3 L663.8 1398.5 L664.0 1397.6 L664.2 1397.9 L664.5 1397.9 L664.8 1397.6 L665.0 1398.9 L665.2 1397.8 L665.5 1398.9 L665.8 1397.8 L666.0 1399.0 L666.2 1394.8 L666.5 1400.5 L666.8 1396.8 L667.0 1397.5 L667.2 1397.3 L667.5 1400.4 L667.8 1396.1 L668.0 1397.6 L668.2 1397.7 L668.5 1401.1 L668.8 1399.8 L669.0 1396.9 L669.2 1397.7 L669.5 1398.3 L669.8 1397.1 L670.0 1400.0 L670.2 1398.6 L670.5 1396.0 L670.8 1398.3 L671.0 1398.1 L671.2 1397.6 L671.5 1398.6 L671.8 1399.2 L672.0 1398.0 L672.2 1397.5 L672.5 1398.8 L672.8 1396.1 L673.0 1399.6 L673.2 1396.7 L673.5 1398.6 L673.8 1398.2 L674.0 1399.1 L674.2 1397.7 L674.5 1399.0 L674.8 1396.4 L675.0 1400.3 L675.2 1399.3 L675.5 1399.8 L675.8 1397.9 L676.0 1398.9 L676.2 1398.1 L676.5 1398.6 L676.8 1397.3 L677.0 1398.6 L677.2 1395.6 L677.5 1400.1 L677.8 1397.1 L678.0 1399.9 L678.2 1400.6 L678.5 1399.7 L678.8 1397.3 L679.0 1399.3 L679.2 1399.8 L679.5 1399.9 L679.8 1399.5 L680.0 1399.0 L680.2 1398.5 L680.5 1398.6 L680.8 1399.2 L681.0 1398.9 L681.2 1398.6 L681.5 1398.6 L681.8 1399.1 L682.0 1398.3 L682.2 1400.3 L682.5 1399.2 L682.8 1400.7 L683.0 1398.2 L683.2 1398.0 L683.5 1398.5 L683.8 1399.1 L684.0 1399.2 L684.2 1400.5 L684.5 1396.6 L684.8 1399.6 L685.0 1397.2 L685.2 1398.1 L685.5 1399.1 L685.8 1399.4 L686.0 1401.1 L686.2 1399.1 L686.5 1401.0 L686.8 1400.3 L687.0 1399.2 L687.2 1400.7 L687.5 1399.0 L687.8 1400.3 L688.0 1402.0 L688.2 1400.5 L688.5 1399.6 L688.8 1398.8 L689.0 1399.3 L689.2 1398.9 L689.5 1402.0 L689.8 1400.8 L690.0 1400.0 L690.2 1400.4 L690.5 1402.4 L690.8 1399.6 L691.0 1399.4 L691.2 1401.9 L691.5 1400.9 L691.8 1398.6 L692.0 1400.8 L692.2 1400.0 L692.5 1399.7 L692.8 1399.5 L693.0 1399.4 L693.2 1400.3 L693.5 1401.2 L693.8 1398.9 L694.0 1400.7 L694.2 1398.2 L694.5 1399.8 L694.8 1401.5 L695.0 1400.2 L695.2 1399.8 L695.5 1402.2 L695.8 1401.0 L696.0 1400.7 L696.2 1401.1 L696.5 1398.7 L696.8 1400.0 L697.0 1402.7 L697.2 1401.4 L697.5 1402.6 L697.8 1399.3 L698.0 1400.0 L698.2 1401.6 L698.5 1401.7 L698.8 1398.0 L699.0 1400.7 L699.2 1400.3 L699.5 1399.8 L699.8 1401.1 L700.0 1399.4 L700.2 1401.0 L700.5 1401.3 L700.8 1399.7 L701.0 1400.5 L701.2 1397.4 L701.5 1401.0 L701.8 1400.4 L702.0 1398.2 L702.2 1398.1 L702.5 1400.2 L702.8 1403.1 L703.0 1400.6 L703.2 1398.9 L703.5 1400.0 L703.8 1397.7 L704.0 1399.6 L704.2 1399.3 L704.5 1400.5 L704.8 1401.9 L705.0 1400.0 L705.2 1403.0 L705.5 1400.3 L705.8 1400.8 L706.0 1400.2 L706.2 1399.1 L706.5 1399.6 L706.8 1399.9 L707.0 1402.4 L707.2 1400.3 L707.5 1398.6 L707.8 1400.9 L708.0 1400.9 L708.2 1399.1 L708.5 1401.1 L708.8 1400.8 L709.0 1398.9 L709.2 1401.7 L709.5 1398.8 L709.8 1399.5 L710.0 1401.4 L710.2 1398.6 L710.5 1397.6 L710.8 1399.8 L711.0 1400.8 L711.2 1400.6 L711.5 1400.0 L711.8 1398.9 L712.0 1402.0 L712.2 1401.8 L712.5 1400.9 L712.8 1401.3 L713.0 1398.3 L713.2 1401.6 L713.5 1402.4 L713.8 1401.8 L714.0 1401.9 L714.2 1401.0 L714.5 1401.0 L714.8 1397.9 L715.0 1400.1 L715.2 1401.0 L715.5 1399.5 L715.8 1398.8 L716.0 1400.3 L716.2 1399.6 L716.5 1402.4 L716.8 1400.3 L717.0 1400.6 L717.2 1402.6 L717.5 1399.5 L717.8 1401.2 L718.0 1402.9 L718.2 1399.7 L718.5 1400.3 L718.8 1402.2 L719.0 1402.0 L719.2 1400.2 L719.5 1400.2 L719.8 1400.2 L720.0 1399.9 L720.2 1401.8 L720.5 1400.5 L720.8 1400.0 L721.0 1400.0 L721.2 1402.1 L721.5 1397.8 L721.8 1400.4 L722.0 1401.3 L722.2 1400.1 L722.5 1399.7 L722.8 1401.6 L723.0 1401.3 L723.2 1403.5 L723.5 1400.2 L723.8 1401.6 L724.0 1399.7 L724.2 1402.6 L724.5 1402.3 L724.8 1401.9 L725.0 1402.4 L725.2 1402.0 L725.5 1401.7 L725.8 1401.1 L726.0 1402.3 L726.2 1401.8 L726.5 1400.7 L726.8 1401.1 L727.0 1401.4 L727.2 1403.1 L727.5 1401.2 L727.8 1401.0 L728.0 1399.6 L728.2 1402.2 L728.5 1401.5 L728.8 1401.4 L729.0 1401.4 L729.2 1401.9 L729.5 1399.1 L729.8 1400.1 L730.0 1400.9 L730.2 1402.2 L730.5 1401.8 L730.8 1402.4 L731.0 1401.7 L731.2 1402.0 L731.5 1400.4 L731.8 1400.6 L732.0 1401.0 L732.2 1400.9 L732.5 1402.1 L732.8 1401.3 L733.0 1401.3 L733.2 1401.2 L733.5 1403.1 L733.8 1400.7 L734.0 1402.1 L734.2 1400.6 L734.5 1401.7 L734.8 1401.8 L735.0 1401.1 L735.2 1400.0 L735.5 1401.8 L735.8 1401.6 L736.0 1401.0 L736.2 1401.2 L736.5 1401.0 L736.8 1404.3 L737.0 1400.8 L737.2 1399.4 L737.5 1399.3 L737.8 1402.3 L738.0 1399.1 L738.2 1402.1 L738.5 1400.7 L738.8 1401.6 L739.0 1401.4 L739.2 1402.5 L739.5 1400.8 L739.8 1401.2 L740.0 1400.2 L740.2 1398.6 L740.5 1402.9 L740.8 1399.6 L741.0 1402.0 L741.2 1402.6 L741.5 1401.9 L741.8 1400.2 L742.0 1403.5 L742.2 1399.9 L742.5 1402.7 L742.8 1403.0 L743.0 1399.8 L743.2 1402.3 L743.5 1400.4 L743.8 1402.2 L744.0 1399.0 L744.2 1403.9 L744.5 1402.5 L744.8 1401.7 L745.0 1401.2 L745.2 1403.5 L745.5 1402.3 L745.8 1402.2 L746.0 1401.2 L746.2 1401.3 L746.5 1401.6 L746.8 1400.7 L747.0 1402.0 L747.2 1404.0 L747.5 1402.5 L747.8 1402.9 L748.0 1402.4 L748.2 1404.7 L748.5 1401.2 L748.8 1399.5 L749.0 1398.4 L749.2 1401.2 L749.5 1402.3 L749.8 1403.3 L750.0 1400.0 L750.2 1401.2 L750.5 1403.9 L750.8 1399.9 L751.0 1400.7 L751.2 1401.5 L751.5 1400.6 L751.8 1401.9 L752.0 1399.4 L752.2 1401.0 L752.5 1401.1 L752.8 1403.1 L753.0 1402.5 L753.2 1402.6 L753.5 1400.4 L753.8 1403.5 L754.0 1401.6 L754.2 1403.5 L754.5 1399.7 L754.8 1400.3 L755.0 1400.9 L755.2 1403.6 L755.5 1400.4 L755.8 1401.7 L756.0 1401.2 L756.2 1403.0 L756.5 1401.6 L756.8 1403.9 L757.0 1400.6 L757.2 1404.6 L757.5 1401.8 L757.8 1400.2 L758.0 1402.8 L758.2 1401.7 L758.5 1400.7 L758.8 1403.6 L759.0 1401.2 L759.2 1400.3 L759.5 1402.3 L759.8 1402.9 L760.0 1402.8 L760.2 1400.0 L760.5 1404.0 L760.8 1402.2 L761.0 1402.7 L761.2 1400.4 L761.5 1400.8 L761.8 1401.1 L762.0 1401.9 L762.2 1404.8 L762.5 1402.2 L762.8 1402.1 L763.0 1403.7 L763.2 1404.0 L763.5 1403.1 L763.8 1401.4 L764.0 1399.8 L764.2 1399.0 L764.5 1401.5 L764.8 1401.0 L765.0 1403.0 L765.2 1404.5 L765.5 1401.4 L765.8 1401.7 L766.0 1402.0 L766.2 1399.5 L766.5 1402.1 L766.8 1403.3 L767.0 1405.1 L767.2 1400.3 L767.5 1403.3 L767.8 1404.3 L768.0 1400.7 L768.2 1402.0 L768.5 1404.1 L768.8 1401.4 L769.0 1401.9 L769.2 1402.7 L769.5 1404.0 L769.8 1402.9 L770.0 1401.7 L770.2 1403.2 L770.5 1401.1 L770.8 1400.6 L771.0 1401.9 L771.2 1402.0 L771.5 1402.5 L771.8 1402.6 L772.0 1401.6 L772.2 1399.7 L772.5 1399.9 L772.8 1401.7 L773.0 1403.3 L773.2 1401.0 L773.5 1401.4 L773.8 1403.0 L774.0 1400.5 L774.2 1403.1 L774.5 1401.5 L774.8 1401.5 L775.0 1403.0 L775.2 1401.3 L775.5 1403.4 L775.8 1400.7 L776.0 1401.0 L776.2 1401.5 L776.5 1403.1 L776.8 1400.8 L777.0 1402.5 L777.2 1402.6 L777.5 1403.6 L777.8 1401.3 L778.0 1402.6 L778.2 1403.3 L778.5 1404.7 L778.8 1402.1 L779.0 1402.7 L779.2 1402.3 L779.5 1398.7 L779.8 1402.1 L780.0 1401.8 L780.2 1400.4 L780.5 1400.8 L780.8 1401.7 L781.0 1402.0 L781.2 1401.8 L781.5 1401.2 L781.8 1401.9 L782.0 1403.1 L782.2 1401.7 L782.5 1403.6 L782.8 1404.0 L783.0 1403.3 L783.2 1401.3 L783.5 1401.6 L783.8 1398.7 L784.0 1401.5 L784.2 1401.3 L784.5 1400.6 L784.8 1398.6 L785.0 1402.8 L785.2 1403.1 L785.5 1401.4 L785.8 1402.8 L786.0 1401.2 L786.2 1399.0 L786.5 1401.5 L786.8 1401.0 L787.0 1401.3 L787.2 1401.5 L787.5 1400.1 L787.8 1399.4 L788.0 1403.0 L788.2 1401.8 L788.5 1402.2 L788.8 1400.1 L789.0 1398.6 L789.2 1399.6 L789.5 1403.3 L789.8 1402.3 L790.0 1398.8 L790.2 1400.6 L790.5 1399.9 L790.8 1401.6 L791.0 1404.0 L791.2 1400.8 L791.5 1402.2 L791.8 1401.4 L792.0 1401.0 L792.2 1400.3 L792.5 1400.7 L792.8 1402.4 L793.0 1402.2 L793.2 1402.6 L793.5 1400.6 L793.8 1400.7 L794.0 1401.8 L794.2 1401.4 L794.5 1400.4 L794.8 1400.9 L795.0 1403.8 L795.2 1401.4 L795.5 1402.4 L795.8 1402.9 L796.0 1401.5 L796.2 1404.0 L796.5 1402.0 L796.8 1402.7 L797.0 1401.1 L797.2 1402.6 L797.5 1401.6 L797.8 1402.5 L798.0 1400.9 L798.2 1400.9 L798.5 1401.5 L798.8 1402.6 L799.0 1399.9 L799.2 1401.7 L799.5 1401.5 L799.8 1403.1 L800.0 1398.6 L800.2 1399.7 L800.5 1402.7 L800.8 1402.1 L801.0 1402.3 L801.2 1401.7 L801.5 1402.1 L801.8 1402.2 L802.0 1402.8 L802.2 1399.9 L802.5 1400.5 L802.8 1403.1 L803.0 1403.1 L803.2 1400.3 L803.5 1403.9 L803.8 1402.3 L804.0 1402.8 L804.2 1401.3 L804.5 1400.5 L804.8 1401.6 L805.0 1401.5 L805.2 1400.1 L805.5 1401.7 L805.8 1401.6 L806.0 1399.3 L806.2 1400.4 L806.5 1401.3 L806.8 1400.4 L807.0 1402.4 L807.2 1403.0 L807.5 1400.1 L807.8 1401.7 L808.0 1402.0 L808.2 1402.6 L808.5 1399.4 L808.8 1400.1 L809.0 1401.9 L809.2 1402.9 L809.5 1401.8 L809.8 1400.3 L810.0 1402.0 L810.2 1400.4 L810.5 1399.5 L810.8 1401.6 L811.0 1402.6 L811.2 1402.7 L811.5 1401.7 L811.8 1400.4 L812.0 1399.8 L812.2 1402.2 L812.5 1400.1 L812.8 1401.7 L813.0 1401.8 L813.2 1400.4 L813.5 1401.1 L813.8 1401.2 L814.0 1402.3 L814.2 1400.5 L814.5 1401.2 L814.8 1401.6 L815.0 1399.7 L815.2 1400.7 L815.5 1400.6 L815.8 1401.5 L816.0 1399.8 L816.2 1401.2 L816.5 1401.7 L816.8 1403.1 L817.0 1401.3 L817.2 1403.3 L817.5 1401.9 L817.8 1402.2 L818.0 1400.4 L818.2 1400.5 L818.5 1401.9 L818.8 1400.5 L819.0 1403.3 L819.2 1401.5 L819.5 1404.3 L819.8 1400.5 L820.0 1402.1 L820.2 1401.9 L820.5 1401.5 L820.8 1401.8 L821.0 1398.5 L821.2 1401.3 L821.5 1402.6 L821.8 1401.1 L822.0 1399.5 L822.2 1400.7 L822.5 1401.2 L822.8 1402.3 L823.0 1400.3 L823.2 1402.6 L823.5 1400.2 L823.8 1402.4 L824.0 1401.5 L824.2 1404.1 L824.5 1402.0 L824.8 1402.7 L825.0 1400.7 L825.2 1398.6 L825.5 1401.2 L825.8 1401.2 L826.0 1400.2 L826.2 1401.1 L826.5 1398.7 L826.8 1400.7 L827.0 1400.3 L827.2 1402.9 L827.5 1401.1 L827.8 1401.1 L828.0 1401.0 L828.2 1398.5 L828.5 1399.7 L828.8 1402.6 L829.0 1401.7 L829.2 1399.2 L829.5 1401.3 L829.8 1400.4 L830.0 1401.5 L830.2 1401.0 L830.5 1400.8 L830.8 1399.2 L831.0 1400.5 L831.2 1399.8 L831.5 1400.5 L831.8 1402.0 L832.0 1401.3 L832.2 1401.6 L832.5 1401.8 L832.8 1399.3 L833.0 1400.5 L833.2 1402.1 L833.5 1402.4 L833.8 1398.0 L834.0 1399.5 L834.2 1401.3 L834.5 1404.1 L834.8 1399.9 L835.0 1400.6 L835.2 1401.1 L835.5 1401.9 L835.8 1399.0 L836.0 1399.9 L836.2 1400.1 L836.5 1399.9 L836.8 1400.0 L837.0 1401.4 L837.2 1402.4 L837.5 1401.5 L837.8 1401.1 L838.0 1400.7 L838.2 1399.9 L838.5 1399.1 L838.8 1399.2 L839.0 1402.2 L839.2 1402.3 L839.5 1401.4 L839.8 1401.1 L840.0 1400.8 L840.2 1401.3 L840.5 1400.2 L840.8 1399.5 L841.0 1398.9 L841.2 1400.9 L841.5 1399.5 L841.8 1398.3 L842.0 1400.2 L842.2 1399.6 L842.5 1401.7 L842.8 1402.6 L843.0 1401.5 L843.2 1401.9 L843.5 1403.3 L843.8 1399.1 L844.0 1399.2 L844.2 1400.8 L844.5 1400.3 L844.8 1401.1 L845.0 1402.3 L845.2 1400.7 L845.5 1398.5 L845.8 1403.9 L846.0 1399.4 L846.2 1399.1 L846.5 1402.2 L846.8 1398.5 L847.0 1399.2 L847.2 1400.8 L847.5 1399.7 L847.8 1400.9 L848.0 1402.2 L848.2 1400.8 L848.5 1400.2 L848.8 1401.4 L849.0 1401.1 L849.2 1403.8 L849.5 1399.5 L849.8 1402.4 L850.0 1400.4 L850.2 1401.2 L850.5 1397.9 L850.8 1399.0 L851.0 1398.7 L851.2 1398.0 L851.5 1399.3 L851.8 1402.1 L852.0 1397.8 L852.2 1401.7 L852.5 1399.6 L852.8 1399.7 L853.0 1397.7 L853.2 1399.8 L853.5 1401.3 L853.8 1398.6 L854.0 1399.3 L854.2 1399.1 L854.5 1398.5 L854.8 1397.7 L855.0 1400.4 L855.2 1399.9 L855.5 1397.8 L855.8 1400.2 L856.0 1397.4 L856.2 1398.6 L856.5 1396.3 L856.8 1395.8 L857.0 1397.6 L857.2 1400.4 L857.5 1398.2 L857.8 1399.4 L858.0 1400.2 L858.2 1398.2 L858.5 1396.4 L858.8 1397.4 L859.0 1396.4 L859.2 1397.5 L859.5 1395.8 L859.8 1398.1 L860.0 1397.5 L860.2 1396.2 L860.5 1395.8 L860.8 1396.0 L861.0 1395.1 L861.2 1395.2 L861.5 1395.9 L861.8 1393.0 L862.0 1392.5 L862.2 1391.9 L862.5 1388.6 L862.8 1392.2 L863.0 1389.3 L863.2 1390.7 L863.5 1385.5 L863.8 1384.6 L864.0 1385.9 L864.2 1385.6 L864.5 1385.9 L864.8 1384.8 L865.0 1384.7 L865.2 1381.8 L865.5 1383.2 L865.8 1380.0 L866.0 1375.6 L866.2 1375.4 L866.5 1374.0 L866.8 1373.6 L867.0 1371.5 L867.2 1371.3 L867.5 1371.1 L867.8 1365.1 L868.0 1363.1 L868.2 1362.7 L868.5 1359.7 L868.8 1356.9 L869.0 1352.2 L869.2 1350.3 L869.5 1346.4 L869.8 1341.2 L870.0 1339.3 L870.2 1338.5 L870.5 1335.5 L870.8 1332.1 L871.0 1329.7 L871.2 1329.0 L871.5 1326.6 L871.8 1323.4 L872.0 1323.5 L872.2 1318.9 L872.5 1316.6 L872.8 1314.9 L872.9 1313.4 L873.0 1314.2 L873.2 1314.2 L873.5 1321.3 L873.8 1321.4 L874.0 1323.3 L874.2 1324.4 L874.5 1327.0 L874.8 1329.8 L875.0 1330.7 L875.2 1334.5 L875.5 1336.5 L875.8 1337.5 L876.0 1339.2 L876.2 1343.0 L876.5 1346.9 L876.8 1346.6 L877.0 1349.6 L877.2 1350.5 L877.5 1351.8 L877.8 1356.2 L878.0 1356.6 L878.2 1361.6 L878.5 1360.5 L878.8 1361.6 L879.0 1365.8 L879.2 1368.5 L879.5 1370.7 L879.8 1371.3 L880.0 1371.1 L880.2 1375.3 L880.5 1374.2 L880.8 1379.5 L881.0 1377.6 L881.2 1379.5 L881.5 1380.8 L881.8 1384.2 L882.0 1386.4 L882.2 1385.5 L882.5 1386.4 L882.8 1385.4 L883.0 1388.7 L883.2 1385.5 L883.5 1390.6 L883.8 1390.7 L884.0 1389.9 L884.2 1392.9 L884.5 1393.7 L884.8 1395.5 L885.0 1395.5 L885.2 1393.8 L885.5 1394.5 L885.8 1392.6 L886.0 1395.5 L886.2 1393.2 L886.5 1394.3 L886.8 1393.5 L887.0 1394.9 L887.2 1396.6 L887.5 1395.1 L887.8 1396.6 L888.0 1395.2 L888.2 1397.7 L888.5 1398.6 L888.8 1397.8 L889.0 1397.9 L889.2 1396.9 L889.5 1399.1 L889.8 1399.9 L890.0 1398.1 L890.2 1398.5 L890.5 1398.0 L890.8 1397.1 L891.0 1398.7 L891.2 1396.9 L891.5 1400.6 L891.8 1401.5 L892.0 1400.5 L892.2 1399.8 L892.5 1399.3 L892.8 1399.7 L893.0 1398.1 L893.2 1400.1 L893.5 1400.0 L893.8 1400.9 L894.0 1402.5 L894.2 1400.7 L894.5 1402.5 L894.8 1401.6 L895.0 1399.7 L895.2 1401.7 L895.4 1400.9 L895.5 1401.6 L895.8 1401.6 L896.0 1401.5 L896.2 1400.8 L896.5 1401.8 L896.8 1400.7 L897.0 1400.1 L897.2 1401.1 L897.5 1399.1 L897.8 1401.9 L898.0 1402.2 L898.2 1401.0 L898.5 1403.0 L898.8 1402.3 L899.0 1401.5 L899.2 1402.0 L899.5 1402.4 L899.8 1400.6 L900.0 1401.9 L900.2 1402.2 L900.5 1402.0 L900.8 1400.8 L901.0 1403.0 L901.2 1398.5 L901.5 1400.8 L901.8 1401.3 L902.0 1403.4 L902.2 1399.3 L902.5 1399.8 L902.8 1399.8 L903.0 1401.0 L903.2 1400.3 L903.5 1399.9 L903.8 1402.4 L904.0 1402.0 L904.2 1401.2 L904.5 1400.4 L904.8 1400.9 L905.0 1401.1 L905.2 1404.1 L905.5 1399.9 L905.8 1400.7 L906.0 1400.7 L906.2 1401.2 L906.5 1402.4 L906.8 1399.6 L907.0 1400.1 L907.2 1402.9 L907.5 1401.8 L907.8 1403.5 L908.0 1400.6 L908.2 1399.5 L908.5 1400.7 L908.8 1400.6 L909.0 1402.4 L909.2 1400.5 L909.5 1401.7 L909.8 1402.6 L910.0 1401.8 L910.2 1401.2 L910.5 1401.3 L910.8 1402.0 L911.0 1402.6 L911.2 1400.4 L911.5 1399.9 L911.8 1403.7 L912.0 1399.8 L912.2 1401.3 L912.5 1400.6 L912.8 1403.4 L913.0 1402.1 L913.2 1403.6 L913.5 1403.5 L913.8 1401.0 L914.0 1402.1 L914.2 1399.8 L914.5 1401.2 L914.8 1402.9 L915.0 1402.5 L915.2 1402.5 L915.5 1402.0 L915.8 1401.4 L916.0 1402.9 L916.2 1402.3 L916.5 1402.0 L916.8 1403.4 L917.0 1401.5 L917.2 1404.5 L917.5 1401.9 L917.8 1404.3 L918.0 1402.4 L918.2 1401.6 L918.5 1401.9 L918.8 1403.1 L919.0 1402.9 L919.2 1403.1 L919.5 1402.6 L919.8 1402.0 L920.0 1401.5 L920.2 1401.3 L920.5 1402.0 L920.8 1399.8 L921.0 1402.6 L921.2 1402.4 L921.5 1402.2 L921.8 1401.2 L922.0 1402.3 L922.2 1403.2 L922.5 1401.0 L922.8 1401.0 L923.0 1402.0 L923.2 1402.7 L923.5 1400.9 L923.8 1403.3 L924.0 1399.9 L924.2 1404.6 L924.5 1400.6 L924.8 1401.1 L925.0 1401.7 L925.2 1400.7 L925.5 1402.2 L925.8 1401.6 L926.0 1404.5 L926.2 1402.6 L926.5 1403.7 L926.8 1402.7 L927.0 1404.1 L927.2 1403.2 L927.5 1400.8 L927.8 1402.2 L928.0 1403.2 L928.2 1403.3 L928.5 1400.0 L928.8 1401.5 L929.0 1400.6 L929.2 1400.7 L929.5 1402.8 L929.8 1402.8 L930.0 1399.7 L930.2 1401.0 L930.5 1404.0 L930.8 1404.2 L931.0 1403.7 L931.2 1401.1 L931.5 1402.8 L931.8 1404.0 L932.0 1402.5 L932.2 1402.0 L932.5 1401.7 L932.8 1403.0 L933.0 1403.8 L933.2 1404.9 L933.5 1402.4 L933.8 1402.7 L934.0 1400.6 L934.2 1404.0 L934.5 1401.7 L934.8 1404.4 L935.0 1401.5 L935.2 1402.4 L935.5 1403.4 L935.8 1402.8 L936.0 1399.4 L936.2 1402.2 L936.5 1402.7 L936.8 1405.6 L937.0 1404.3 L937.2 1404.6 L937.5 1403.4 L937.8 1404.5 L938.0 1402.7 L938.2 1400.8 L938.5 1401.6 L938.8 1403.1 L939.0 1401.7 L939.2 1402.4 L939.5 1402.2 L939.8 1404.3 L940.0 1399.3 L940.2 1400.7 L940.5 1402.6 L940.8 1402.1 L941.0 1405.1 L941.2 1403.6 L941.5 1402.7 L941.8 1401.6 L942.0 1402.6 L942.2 1402.2 L942.5 1400.4 L942.8 1401.2 L943.0 1403.1 L943.2 1402.8 L943.5 1402.4 L943.8 1404.6 L944.0 1401.1 L944.2 1401.9 L944.5 1403.4 L944.8 1403.9 L945.0 1401.4 L945.2 1402.7 L945.5 1401.9 L945.8 1401.0 L946.0 1402.4 L946.2 1401.4 L946.5 1403.5 L946.8 1402.8 L947.0 1402.0 L947.2 1403.8 L947.5 1404.1 L947.8 1401.4 L948.0 1400.1 L948.2 1401.3 L948.5 1402.4 L948.8 1399.1 L949.0 1399.4 L949.2 1403.7 L949.5 1402.1 L949.8 1402.8 L950.0 1402.2 L950.2 1401.4 L950.5 1402.5 L950.8 1401.8 L951.0 1403.5 L951.2 1402.1 L951.5 1402.4 L951.8 1401.8 L952.0 1400.6 L952.2 1401.2 L952.5 1402.9 L952.8 1400.9 L953.0 1402.1 L953.2 1401.3 L953.5 1401.6 L953.8 1403.8 L954.0 1400.4 L954.2 1400.7 L954.5 1400.8 L954.8 1403.6 L955.0 1402.6 L955.2 1399.9 L955.5 1400.7 L955.8 1401.4 L956.0 1401.3 L956.2 1400.8 L956.5 1402.8 L956.8 1400.4 L957.0 1402.1 L957.2 1401.5 L957.5 1401.3 L957.8 1399.0 L958.0 1400.1 L958.2 1403.0 L958.5 1401.9 L958.8 1399.3 L959.0 1401.5 L959.2 1398.9 L959.5 1402.1 L959.8 1400.1 L960.0 1403.2 L960.2 1402.6 L960.5 1401.9 L960.8 1399.4 L961.0 1400.9 L961.2 1399.5 L961.5 1400.1 L961.8 1399.6 L962.0 1400.4 L962.2 1401.4 L962.5 1401.5 L962.8 1397.7 L963.0 1399.1 L963.2 1399.0 L963.5 1401.9 L963.8 1399.3 L964.0 1401.5 L964.2 1401.0 L964.5 1401.9 L964.8 1400.5 L965.0 1400.4 L965.2 1402.2 L965.5 1402.6 L965.8 1401.1 L966.0 1400.8 L966.2 1400.7 L966.5 1401.1 L966.8 1402.8 L967.0 1400.6 L967.2 1403.3 L967.5 1400.0 L967.8 1402.0 L968.0 1400.8 L968.2 1402.4 L968.5 1405.1 L968.8 1401.2 L969.0 1403.7 L969.2 1400.5 L969.5 1402.9 L969.8 1405.5 L970.0 1402.9 L970.2 1400.4 L970.5 1402.0 L970.8 1402.9 L971.0 1401.4 L971.2 1404.9 L971.5 1403.9 L971.8 1402.0 L972.0 1404.0 L972.2 1403.5 L972.5 1400.8 L972.8 1405.3 L973.0 1404.5 L973.2 1400.5 L973.5 1404.8 L973.8 1403.0 L974.0 1404.1 L974.2 1403.0 L974.5 1401.5 L974.8 1403.2 L975.0 1405.1 L975.2 1400.7 L975.5 1403.0 L975.8 1402.2 L976.0 1403.9 L976.2 1401.4 L976.5 1403.8 L976.8 1402.7 L977.0 1404.0 L977.2 1403.1 L977.5 1401.9 L977.8 1403.1 L978.0 1403.7 L978.2 1403.5 L978.5 1405.3 L978.8 1402.9 L979.0 1403.8 L979.2 1404.5 L979.5 1405.4 L979.8 1402.7 L980.0 1402.9 L980.2 1403.1 L980.5 1402.2 L980.8 1401.9 L981.0 1404.6 L981.2 1404.2 L981.5 1405.0 L981.8 1405.3 L982.0 1402.6 L982.2 1403.2 L982.5 1402.5 L982.8 1403.2 L983.0 1405.3 L983.2 1401.8 L983.5 1405.2 L983.8 1402.6 L984.0 1404.3 L984.2 1406.3 L984.5 1405.2 L984.8 1401.9 L985.0 1403.8 L985.2 1405.3 L985.5 1401.9 L985.8 1401.9 L986.0 1403.8 L986.2 1401.9 L986.5 1401.9 L986.8 1403.5 L987.0 1405.1 L987.2 1404.0 L987.5 1405.1 L987.8 1404.1 L988.0 1404.1 L988.2 1404.8 L988.5 1403.0 L988.8 1403.5 L989.0 1403.5 L989.2 1403.3 L989.5 1402.4 L989.8 1403.3 L990.0 1403.2 L990.2 1405.0 L990.5 1402.7 L990.8 1404.7 L991.0 1402.9 L991.2 1406.0 L991.5 1402.4 L991.8 1400.5 L992.0 1404.5 L992.2 1404.3 L992.5 1404.2 L992.8 1405.6 L993.0 1405.1 L993.2 1403.0 L993.5 1402.5 L993.8 1403.8 L994.0 1402.7 L994.2 1402.9 L994.5 1402.9 L994.8 1404.9 L995.0 1405.1 L995.2 1403.8 L995.5 1404.9 L995.8 1402.7 L996.0 1403.5 L996.2 1404.6 L996.5 1402.8 L996.8 1405.4 L997.0 1403.4 L997.2 1403.7 L997.5 1404.7 L997.8 1401.7 L998.0 1404.1 L998.2 1403.1 L998.5 1401.3 L998.8 1403.1 L999.0 1404.4 L999.2 1400.7 L999.5 1403.9 L999.8 1400.8 L1000.0 1402.6 L1000.2 1403.2 L1000.5 1405.5 L1000.8 1403.7 L1001.0 1403.7 L1001.2 1404.2 L1001.5 1404.5 L1001.8 1403.4 L1002.0 1403.7 L1002.2 1404.0 L1002.5 1402.9 L1002.8 1404.8 L1003.0 1404.1 L1003.2 1404.6 L1003.5 1404.7 L1003.8 1402.5 L1004.0 1403.0 L1004.2 1403.8 L1004.5 1402.9 L1004.8 1403.0 L1005.0 1403.1 L1005.2 1403.2 L1005.5 1404.5 L1005.8 1400.6 L1006.0 1404.2 L1006.2 1402.0 L1006.5 1405.5 L1006.8 1403.8 L1007.0 1404.6 L1007.2 1404.2 L1007.5 1403.6 L1007.8 1402.6 L1008.0 1403.5 L1008.2 1404.8 L1008.5 1402.6 L1008.8 1402.9 L1009.0 1402.8 L1009.2 1403.6 L1009.5 1403.0 L1009.8 1404.5 L1010.0 1401.8 L1010.2 1402.0 L1010.5 1404.2 L1010.8 1404.5 L1011.0 1404.1 L1011.2 1405.7 L1011.5 1404.7 L1011.8 1402.4 L1012.0 1401.9 L1012.2 1402.8 L1012.5 1402.7 L1012.8 1403.7 L1013.0 1402.7 L1013.2 1402.7 L1013.5 1402.9 L1013.8 1403.5 L1014.0 1404.1 L1014.2 1403.7 L1014.5 1404.8 L1014.8 1403.9 L1015.0 1403.7 L1015.2 1404.9 L1015.5 1406.2 L1015.8 1403.2 L1016.0 1402.1 L1016.2 1401.7 L1016.5 1404.5 L1016.8 1401.1 L1017.0 1403.6 L1017.2 1404.9 L1017.5 1400.6 L1017.8 1403.6 L1018.0 1404.2 L1018.2 1403.7 L1018.5 1403.6 L1018.8 1400.6 L1019.0 1403.2 L1019.2 1401.3 L1019.5 1402.3 L1019.8 1403.3 L1020.0 1404.2 L1020.2 1403.7 L1020.5 1404.8 L1020.8 1401.9 L1021.0 1404.1 L1021.2 1403.3 L1021.5 1402.5 L1021.8 1402.8 L1022.0 1404.2 L1022.2 1404.7 L1022.5 1401.5 L1022.8 1405.2 L1023.0 1402.1 L1023.2 1403.3 L1023.5 1403.6 L1023.8 1402.8 L1024.0 1400.5 L1024.2 1402.7 L1024.5 1403.9 L1024.8 1402.7 L1025.0 1403.9 L1025.2 1403.3 L1025.5 1403.9 L1025.8 1404.3 L1026.0 1406.1 L1026.2 1404.0 L1026.5 1404.9 L1026.8 1403.0 L1027.0 1404.1 L1027.2 1401.7 L1027.5 1404.2 L1027.8 1404.4 L1028.0 1401.8 L1028.2 1404.1 L1028.5 1403.7 L1028.8 1404.4 L1029.0 1403.6 L1029.2 1403.0 L1029.5 1401.8 L1029.8 1403.0 L1030.0 1403.6 L1030.2 1401.7 L1030.5 1402.1 L1030.8 1400.2 L1031.0 1402.9 L1031.2 1403.8 L1031.5 1404.2 L1031.8 1400.7 L1032.0 1403.2 L1032.2 1401.5 L1032.5 1404.7 L1032.8 1401.6 L1033.0 1401.1 L1033.2 1404.3 L1033.5 1401.8 L1033.8 1402.7 L1034.0 1400.7 L1034.2 1405.5 L1034.5 1401.0 L1034.8 1401.7 L1035.0 1401.6 L1035.2 1402.8 L1035.5 1401.1 L1035.8 1402.6 L1036.0 1403.4 L1036.2 1405.8 L1036.5 1405.4 L1036.8 1402.1 L1037.0 1403.3 L1037.2 1402.4 L1037.5 1400.5 L1037.8 1401.6 L1038.0 1402.6 L1038.2 1402.2 L1038.5 1402.7 L1038.8 1404.1 L1039.0 1403.7 L1039.2 1403.2 L1039.5 1401.9 L1039.8 1402.6 L1040.0 1404.1 L1040.2 1403.5 L1040.5 1400.8 L1040.8 1403.4 L1041.0 1402.6 L1041.2 1402.2 L1041.5 1403.9 L1041.8 1402.7 L1042.0 1402.1 L1042.2 1403.1 L1042.5 1401.8 L1042.8 1402.9 L1043.0 1401.2 L1043.2 1403.8 L1043.5 1400.9 L1043.8 1403.0 L1044.0 1401.2 L1044.2 1403.9 L1044.5 1403.5 L1044.8 1401.9 L1045.0 1403.0 L1045.2 1403.8 L1045.5 1401.6 L1045.8 1402.1 L1046.0 1403.5 L1046.2 1400.2 L1046.5 1399.9 L1046.8 1402.9 L1047.0 1402.1 L1047.2 1400.3 L1047.5 1401.6 L1047.8 1403.4 L1048.0 1403.0 L1048.2 1400.9 L1048.5 1404.1 L1048.8 1403.2 L1049.0 1402.2 L1049.2 1403.9 L1049.5 1403.8 L1049.8 1402.4 L1050.0 1401.5 L1050.2 1404.0 L1050.5 1404.5 L1050.8 1403.1 L1051.0 1401.1 L1051.2 1401.8 L1051.5 1405.3 L1051.8 1401.6 L1052.0 1402.4 L1052.2 1402.8 L1052.5 1402.0 L1052.8 1403.6 L1053.0 1403.5 L1053.2 1402.0 L1053.5 1403.4 L1053.8 1403.5 L1054.0 1405.0 L1054.2 1405.5 L1054.5 1401.4 L1054.8 1402.5 L1055.0 1403.3 L1055.2 1404.1 L1055.5 1401.7 L1055.8 1400.6 L1056.0 1404.0 L1056.2 1402.0 L1056.5 1402.2 L1056.8 1402.4 L1057.0 1402.2 L1057.2 1404.2 L1057.5 1400.1 L1057.8 1404.1 L1058.0 1404.3 L1058.2 1403.0 L1058.5 1403.4 L1058.8 1401.3 L1059.0 1403.2 L1059.2 1402.7 L1059.5 1401.3 L1059.8 1402.4 L1060.0 1402.6 L1060.2 1403.3 L1060.5 1402.3 L1060.8 1401.5 L1061.0 1402.4 L1061.2 1401.4 L1061.5 1403.6 L1061.8 1403.3 L1062.0 1403.6 L1062.2 1405.0 L1062.5 1404.2 L1062.8 1402.8 L1063.0 1401.8 L1063.2 1403.0 L1063.5 1405.8 L1063.8 1402.8 L1064.0 1403.3 L1064.2 1402.3 L1064.5 1404.1 L1064.8 1403.2 L1065.0 1404.2 L1065.2 1403.0 L1065.5 1402.3 L1065.8 1405.6 L1066.0 1403.4 L1066.2 1403.3 L1066.5 1403.1 L1066.8 1401.9 L1067.0 1401.6 L1067.2 1403.5 L1067.5 1401.6 L1067.8 1401.3 L1068.0 1401.5 L1068.2 1402.5 L1068.5 1399.6 L1068.8 1402.9 L1069.0 1402.1 L1069.2 1405.0 L1069.5 1403.3 L1069.8 1400.5 L1070.0 1405.3 L1070.2 1402.8 L1070.5 1401.3 L1070.8 1403.6 L1071.0 1401.4 L1071.2 1404.5 L1071.5 1400.4 L1071.8 1401.2 L1072.0 1402.2 L1072.2 1403.2 L1072.5 1403.9 L1072.8 1401.7 L1073.0 1401.0 L1073.2 1401.3 L1073.5 1403.1 L1073.8 1403.8 L1074.0 1399.8 L1074.2 1402.9 L1074.5 1404.1 L1074.8 1402.7 L1075.0 1402.0 L1075.2 1403.4 L1075.5 1403.9 L1075.8 1402.8 L1076.0 1401.2 L1076.2 1403.6 L1076.5 1405.8 L1076.8 1404.0 L1077.0 1403.7 L1077.2 1401.2 L1077.5 1401.9 L1077.8 1403.3 L1078.0 1403.1 L1078.2 1402.4 L1078.5 1399.8 L1078.8 1402.1 L1079.0 1403.4 L1079.2 1405.8 L1079.5 1403.1 L1079.8 1402.9 L1080.0 1404.5 L1080.2 1402.3 L1080.5 1402.4 L1080.8 1403.2 L1081.0 1403.2 L1081.2 1403.4 L1081.5 1403.5 L1081.8 1402.8 L1082.0 1401.6 L1082.2 1401.9 L1082.5 1402.8 L1082.8 1401.5 L1083.0 1400.8 L1083.2 1402.2 L1083.5 1398.6 L1083.8 1402.8 L1084.0 1401.7 L1084.2 1400.7 L1084.5 1400.7 L1084.8 1400.7 L1085.0 1402.3 L1085.2 1400.3 L1085.5 1402.0 L1085.8 1401.3 L1086.0 1400.9 L1086.2 1401.4 L1086.5 1399.3 L1086.8 1402.7 L1087.0 1399.9 L1087.2 1398.5 L1087.5 1396.4 L1087.8 1397.4 L1088.0 1396.6 L1088.2 1396.2 L1088.5 1396.2 L1088.8 1398.6 L1089.0 1396.7 L1089.2 1396.7 L1089.5 1395.2 L1089.8 1393.1 L1090.0 1393.7 L1090.2 1392.3 L1090.5 1393.0 L1090.8 1392.5 L1091.0 1393.8 L1091.2 1389.4 L1091.5 1391.4 L1091.8 1389.2 L1092.0 1389.4 L1092.2 1387.1 L1092.5 1390.0 L1092.8 1387.3 L1092.8 1387.8 L1093.0 1388.9 L1093.2 1386.1 L1093.5 1385.4 L1093.8 1385.6 L1094.0 1384.0 L1094.2 1382.7 L1094.5 1384.7 L1094.8 1383.7 L1095.0 1381.3 L1095.2 1383.3 L1095.5 1380.8 L1095.8 1379.8 L1096.0 1380.6 L1096.2 1380.6 L1096.5 1379.6 L1096.8 1379.2 L1097.0 1380.3 L1097.2 1379.9 L1097.5 1378.3 L1097.8 1375.3 L1098.0 1376.7 L1098.2 1373.8 L1098.4 1374.2 L1098.5 1376.4 L1098.8 1377.9 L1099.0 1379.2 L1099.2 1378.5 L1099.5 1380.3 L1099.8 1380.8 L1100.0 1378.2 L1100.2 1379.3 L1100.5 1380.6 L1100.8 1379.4 L1101.0 1381.3 L1101.2 1380.8 L1101.5 1380.9 L1101.8 1382.5 L1102.0 1384.7 L1102.2 1381.6 L1102.5 1383.3 L1102.8 1384.2 L1103.0 1385.9 L1103.2 1385.4 L1103.5 1384.3 L1103.8 1387.5 L1104.0 1387.7 L1104.2 1388.5 L1104.5 1389.2 L1104.8 1389.2 L1105.0 1386.3 L1105.2 1388.0 L1105.5 1389.8 L1105.8 1390.9 L1105.8 1391.3 L1106.0 1391.9 L1106.2 1390.4 L1106.5 1392.3 L1106.8 1392.1 L1107.0 1393.4 L1107.2 1395.5 L1107.5 1392.7 L1107.8 1395.0 L1108.0 1393.9 L1108.2 1394.8 L1108.5 1394.6 L1108.8 1395.9 L1109.0 1396.9 L1109.2 1394.2 L1109.5 1399.4 L1109.8 1399.3 L1110.0 1400.5 L1110.2 1399.1 L1110.5 1399.7 L1110.8 1398.3 L1111.0 1399.7 L1111.2 1398.4 L1111.5 1401.5 L1111.8 1399.6 L1112.0 1401.2 L1112.2 1400.4 L1112.5 1401.9 L1112.8 1401.4 L1113.0 1399.2 L1113.2 1398.6 L1113.5 1400.7 L1113.8 1401.3 L1114.0 1400.1 L1114.2 1402.9 L1114.5 1403.0 L1114.8 1402.7 L1115.0 1402.6 L1115.2 1402.2 L1115.5 1400.8 L1115.8 1402.5 L1116.0 1399.5 L1116.2 1402.0 L1116.5 1402.9 L1116.8 1399.5 L1117.0 1404.4 L1117.2 1400.6 L1117.5 1403.3 L1117.8 1401.4 L1118.0 1402.0 L1118.2 1400.9 L1118.5 1401.9 L1118.8 1401.8 L1119.0 1401.1 L1119.2 1403.3 L1119.5 1402.7 L1119.8 1402.3 L1120.0 1400.5 L1120.2 1402.7 L1120.5 1403.7 L1120.8 1403.4 L1121.0 1403.5 L1121.2 1402.7 L1121.5 1402.8 L1121.8 1400.8 L1122.0 1402.9 L1122.2 1401.6 L1122.5 1400.7 L1122.8 1402.5 L1123.0 1402.5 L1123.2 1402.8 L1123.5 1400.9 L1123.8 1402.4 L1124.0 1403.8 L1124.2 1402.9 L1124.5 1402.6 L1124.8 1402.6 L1125.0 1401.6 L1125.2 1403.0 L1125.5 1399.6 L1125.8 1400.8 L1126.0 1400.3 L1126.2 1399.2 L1126.5 1402.9 L1126.8 1401.6 L1127.0 1402.1 L1127.2 1402.2 L1127.5 1401.4 L1127.8 1403.0 L1128.0 1401.3 L1128.2 1402.6 L1128.5 1401.8 L1128.8 1400.9 L1129.0 1402.7 L1129.2 1404.3 L1129.5 1403.7 L1129.8 1404.2 L1130.0 1401.4 L1130.2 1404.4 L1130.5 1399.9 L1130.8 1402.7 L1131.0 1402.9 L1131.2 1403.2 L1131.5 1403.0 L1131.8 1402.1 L1132.0 1401.7 L1132.2 1402.8 L1132.5 1402.0 L1132.8 1400.2 L1133.0 1405.2 L1133.2 1401.9 L1133.5 1404.0 L1133.8 1402.5 L1134.0 1401.8 L1134.2 1402.3 L1134.5 1402.1 L1134.8 1401.7 L1135.0 1402.1 L1135.2 1401.5 L1135.5 1402.9 L1135.8 1402.7 L1136.0 1402.8 L1136.2 1400.6 L1136.5 1402.9 L1136.8 1404.7 L1137.0 1401.1 L1137.2 1402.7 L1137.5 1404.2 L1137.8 1402.5 L1138.0 1404.2 L1138.2 1402.1 L1138.5 1399.6 L1138.8 1405.4 L1139.0 1403.7 L1139.2 1400.8 L1139.5 1402.5 L1139.8 1402.6 L1140.0 1401.2 L1140.2 1399.6 L1140.5 1403.0 L1140.8 1403.1 L1141.0 1400.8 L1141.2 1400.3 L1141.5 1404.1 L1141.8 1403.0 L1142.0 1402.1 L1142.2 1403.8 L1142.5 1402.7 L1142.8 1401.0 L1143.0 1402.8 L1143.2 1405.8 L1143.5 1401.8 L1143.8 1403.8 L1144.0 1402.6 L1144.2 1403.4 L1144.5 1403.3 L1144.8 1404.0 L1145.0 1404.3 L1145.2 1402.6 L1145.5 1404.8 L1145.8 1403.4 L1146.0 1401.3 L1146.2 1406.0 L1146.5 1403.3 L1146.8 1401.9 L1147.0 1403.8 L1147.2 1403.6 L1147.5 1405.1 L1147.8 1405.0 L1148.0 1403.8 L1148.2 1403.7 L1148.5 1404.2 L1148.8 1404.2 L1149.0 1404.1 L1149.2 1404.1 L1149.5 1402.2 L1149.8 1404.5 L1150.0 1404.6 L1150.2 1404.4 L1150.5 1402.3 L1150.8 1403.1 L1151.0 1399.9 L1151.2 1400.2 L1151.5 1403.2 L1151.8 1403.8 L1152.0 1403.0 L1152.2 1403.5 L1152.5 1404.1 L1152.8 1402.2 L1153.0 1404.1 L1153.2 1404.4 L1153.5 1402.3 L1153.8 1404.4 L1154.0 1402.5 L1154.2 1403.4 L1154.5 1403.3 L1154.8 1403.1 L1155.0 1400.3 L1155.2 1405.4 L1155.5 1401.5 L1155.8 1403.6 L1156.0 1403.0 L1156.2 1403.3 L1156.5 1402.1 L1156.8 1403.1 L1157.0 1403.4 L1157.2 1404.1 L1157.5 1404.8 L1157.8 1403.6 L1158.0 1402.7 L1158.2 1403.9 L1158.5 1403.8 L1158.8 1404.4 L1159.0 1402.4 L1159.2 1404.1 L1159.5 1400.8 L1159.8 1404.5 L1160.0 1403.3 L1160.2 1404.9 L1160.5 1403.7 L1160.8 1404.7 L1161.0 1405.2 L1161.2 1401.9 L1161.5 1401.7 L1161.8 1404.5 L1162.0 1404.0 L1162.2 1402.3 L1162.5 1402.6 L1162.8 1402.6 L1163.0 1404.2 L1163.2 1401.9 L1163.5 1401.6 L1163.8 1402.9 L1164.0 1402.3 L1164.2 1404.2 L1164.5 1404.0 L1164.8 1402.1 L1165.0 1404.3 L1165.2 1404.5 L1165.5 1403.2 L1165.8 1402.5 L1166.0 1401.7 L1166.2 1403.9 L1166.5 1405.3 L1166.8 1405.0 L1167.0 1404.1 L1167.2 1406.7 L1167.5 1402.0 L1167.8 1404.6 L1168.0 1402.7 L1168.2 1404.2 L1168.5 1402.8 L1168.8 1403.2 L1169.0 1404.6 L1169.2 1402.0 L1169.5 1402.9 L1169.8 1402.3 L1170.0 1404.0 L1170.2 1404.3 L1170.5 1404.5 L1170.8 1401.6 L1171.0 1401.8 L1171.2 1404.0 L1171.5 1403.9 L1171.8 1402.4 L1172.0 1403.9 L1172.2 1404.0 L1172.5 1403.1 L1172.8 1406.8 L1173.0 1402.6 L1173.2 1405.1 L1173.5 1403.7 L1173.8 1403.8 L1174.0 1402.5 L1174.2 1403.1 L1174.5 1403.3 L1174.8 1403.0 L1175.0 1404.3 L1175.2 1404.6 L1175.5 1403.8 L1175.8 1404.5 L1176.0 1403.3 L1176.2 1402.6 L1176.5 1402.7 L1176.8 1402.4 L1177.0 1403.0 L1177.2 1403.1 L1177.5 1404.1 L1177.8 1403.1 L1178.0 1405.0 L1178.2 1404.7 L1178.5 1403.4 L1178.8 1402.0 L1179.0 1403.6 L1179.2 1403.9 L1179.5 1404.5 L1179.8 1404.6 L1180.0 1404.3 L1180.2 1404.2 L1180.5 1404.6 L1180.8 1405.9 L1181.0 1403.7 L1181.2 1403.1 L1181.5 1406.0 L1181.8 1404.5 L1182.0 1402.5 L1182.2 1403.6 L1182.5 1403.0 L1182.8 1405.4 L1183.0 1402.5 L1183.2 1402.8 L1183.5 1402.3 L1183.8 1401.5 L1184.0 1404.6 L1184.2 1400.6 L1184.5 1404.3 L1184.8 1403.0 L1185.0 1405.0 L1185.2 1403.3 L1185.5 1405.3 L1185.8 1405.5 L1186.0 1405.7 L1186.2 1404.4 L1186.5 1404.4 L1186.8 1404.5 L1187.0 1400.9 L1187.2 1406.2 L1187.5 1403.4 L1187.8 1403.3 L1188.0 1404.0 L1188.2 1404.4 L1188.5 1403.6 L1188.8 1402.5 L1189.0 1402.9 L1189.2 1405.2 L1189.5 1403.7 L1189.8 1403.0 L1190.0 1402.4 L1190.2 1402.2 L1190.5 1402.9 L1190.8 1403.9 L1191.0 1403.5 L1191.2 1401.6 L1191.5 1402.2 L1191.8 1400.9 L1192.0 1403.4 L1192.2 1404.3 L1192.5 1404.0 L1192.8 1405.6 L1193.0 1402.9 L1193.2 1405.8 L1193.5 1402.0 L1193.8 1403.7 L1194.0 1402.9 L1194.2 1403.6 L1194.5 1404.2 L1194.8 1402.4 L1195.0 1400.9 L1195.2 1402.2 L1195.5 1402.7 L1195.8 1402.3 L1196.0 1405.5 L1196.2 1402.8 L1196.5 1402.4 L1196.8 1404.3 L1197.0 1403.8 L1197.2 1402.9 L1197.5 1402.7 L1197.8 1404.0 L1198.0 1403.8 L1198.2 1404.3 L1198.5 1404.0 L1198.8 1401.9 L1199.0 1404.4 L1199.2 1401.1 L1199.5 1401.3 L1199.8 1401.1 L1200.0 1402.7 L1200.2 1405.9 L1200.5 1403.2 L1200.8 1403.4 L1201.0 1402.9 L1201.2 1405.0 L1201.5 1400.8 L1201.8 1403.8 L1202.0 1404.2 L1202.2 1405.3 L1202.5 1403.4 L1202.8 1403.0 L1203.0 1402.8 L1203.2 1401.1 L1203.5 1402.9 L1203.8 1403.4 L1204.0 1403.9 L1204.2 1404.3 L1204.5 1401.5 L1204.8 1401.9 L1205.0 1403.8 L1205.2 1401.6 L1205.5 1405.7 L1205.8 1401.3 L1206.0 1403.1 L1206.2 1402.2 L1206.5 1404.2 L1206.8 1402.3 L1207.0 1403.6 L1207.2 1402.9 L1207.5 1402.7 L1207.8 1403.6 L1208.0 1404.8 L1208.2 1403.9 L1208.5 1403.0 L1208.8 1401.5 L1209.0 1402.2 L1209.2 1401.1 L1209.5 1404.6 L1209.8 1401.9 L1210.0 1404.0 L1210.2 1404.8 L1210.5 1405.9 L1210.8 1404.7 L1211.0 1402.2 L1211.2 1403.4 L1211.5 1402.9 L1211.8 1401.6 L1212.0 1400.6 L1212.2 1404.7 L1212.5 1402.8 L1212.8 1404.0 L1213.0 1403.8 L1213.2 1402.8 L1213.5 1403.0 L1213.8 1404.7 L1214.0 1404.9 L1214.2 1404.8 L1214.5 1403.5 L1214.8 1404.0 L1215.0 1403.0 L1215.2 1401.1 L1215.5 1404.6 L1215.8 1401.7 L1216.0 1402.6 L1216.2 1401.7 L1216.5 1403.6 L1216.8 1405.4 L1217.0 1405.0 L1217.2 1402.7 L1217.5 1404.9 L1217.8 1401.1 L1218.0 1402.9 L1218.2 1401.9 L1218.5 1402.6 L1218.8 1403.8 L1219.0 1401.1 L1219.2 1405.0 L1219.5 1404.6 L1219.8 1404.1 L1220.0 1403.3 L1220.2 1404.3 L1220.5 1404.7 L1220.8 1402.9 L1221.0 1401.0 L1221.2 1402.5 L1221.5 1403.1 L1221.8 1400.7 L1222.0 1403.8 L1222.2 1402.6 L1222.5 1402.7 L1222.8 1404.7 L1223.0 1402.3 L1223.2 1401.9 L1223.5 1403.7 L1223.8 1402.0 L1224.0 1404.3 L1224.2 1402.2 L1224.5 1402.7 L1224.8 1404.1 L1225.0 1402.5 L1225.2 1401.9 L1225.5 1404.4 L1225.8 1401.0 L1226.0 1401.9 L1226.2 1404.0 L1226.5 1403.0 L1226.8 1404.2 L1227.0 1402.1 L1227.2 1403.6 L1227.5 1402.6 L1227.8 1405.0 L1228.0 1404.6 L1228.2 1405.0 L1228.5 1404.3 L1228.8 1403.5 L1229.0 1403.4 L1229.2 1402.6 L1229.5 1403.5 L1229.8 1402.1 L1230.0 1402.8 L1230.2 1400.7 L1230.5 1403.6 L1230.8 1403.0 L1231.0 1402.6 L1231.2 1402.3 L1231.5 1402.9 L1231.8 1401.7 L1232.0 1401.7 L1232.2 1404.4 L1232.5 1399.6 L1232.8 1403.5 L1233.0 1401.3 L1233.2 1403.0 L1233.5 1400.9 L1233.8 1401.9 L1234.0 1404.7 L1234.2 1401.0 L1234.5 1401.4 L1234.8 1402.7 L1235.0 1402.0 L1235.2 1401.3 L1235.5 1399.5 L1235.8 1401.2 L1236.0 1401.2 L1236.2 1402.8 L1236.5 1402.4 L1236.8 1399.7 L1237.0 1402.2 L1237.2 1403.1 L1237.5 1403.1 L1237.8 1402.3 L1238.0 1404.2 L1238.2 1399.9 L1238.5 1399.6 L1238.8 1404.0 L1239.0 1401.6 L1239.2 1402.3 L1239.5 1401.2 L1239.8 1401.5 L1240.0 1404.7 L1240.2 1403.8 L1240.5 1403.4 L1240.8 1401.3 L1241.0 1401.6 L1241.2 1398.7 L1241.5 1399.6 L1241.8 1401.3 L1242.0 1401.6 L1242.2 1401.1 L1242.5 1401.9 L1242.8 1403.2 L1243.0 1401.8 L1243.2 1400.0 L1243.5 1401.7 L1243.8 1401.1 L1244.0 1402.3 L1244.2 1401.5 L1244.5 1400.2 L1244.8 1401.3 L1245.0 1403.3 L1245.2 1404.1 L1245.5 1402.9 L1245.8 1400.2 L1246.0 1401.0 L1246.2 1401.3 L1246.5 1399.7 L1246.8 1400.9 L1247.0 1399.5 L1247.2 1397.7 L1247.5 1400.5 L1247.8 1399.9 L1248.0 1403.1 L1248.2 1401.5 L1248.5 1399.6 L1248.8 1399.3 L1249.0 1399.3 L1249.2 1403.2 L1249.5 1401.7 L1249.8 1399.7 L1250.0 1398.3 L1250.2 1401.7 L1250.5 1399.3 L1250.8 1398.0 L1251.0 1400.4 L1251.2 1400.0 L1251.4 1400.1 L1251.5 1399.9 L1251.8 1399.1 L1252.0 1399.1 L1252.2 1397.8 L1252.5 1399.6 L1252.8 1396.1 L1253.0 1398.7 L1253.2 1397.1 L1253.5 1395.0 L1253.8 1397.5 L1254.0 1396.0 L1254.2 1396.9 L1254.5 1398.2 L1254.8 1394.6 L1255.0 1393.9 L1255.2 1392.5 L1255.5 1391.9 L1255.8 1392.2 L1256.0 1394.2 L1256.2 1393.4 L1256.5 1389.8 L1256.8 1391.6 L1257.0 1390.5 L1257.2 1387.4 L1257.5 1386.3 L1257.8 1385.9 L1258.0 1384.0 L1258.2 1382.5 L1258.5 1383.4 L1258.8 1381.7 L1259.0 1378.5 L1259.2 1378.9 L1259.4 1379.2 L1259.5 1381.6 L1259.8 1377.8 L1260.0 1375.3 L1260.2 1372.9 L1260.5 1371.9 L1260.8 1368.9 L1261.0 1366.4 L1261.2 1368.1 L1261.5 1361.8 L1261.8 1361.6 L1262.0 1362.5 L1262.2 1359.1 L1262.5 1357.8 L1262.8 1351.6 L1263.0 1354.1 L1263.2 1351.2 L1263.3 1348.1 L1263.5 1351.7 L1263.8 1349.9 L1264.0 1345.5 L1264.2 1345.1 L1264.5 1344.5 L1264.8 1341.1 L1265.0 1341.1 L1265.2 1341.6 L1265.5 1339.3 L1265.8 1337.9 L1266.0 1337.1 L1266.2 1336.0 L1266.5 1334.9 L1266.7 1332.3 L1266.8 1336.5 L1267.0 1335.5 L1267.2 1336.2 L1267.5 1336.1 L1267.8 1336.6 L1268.0 1339.7 L1268.2 1338.4 L1268.5 1339.5 L1268.8 1341.4 L1269.0 1344.7 L1269.2 1343.8 L1269.5 1345.9 L1269.8 1345.3 L1270.0 1347.0 L1270.2 1347.9 L1270.5 1350.4 L1270.8 1349.9 L1271.0 1352.5 L1271.2 1352.6 L1271.5 1356.4 L1271.8 1357.8 L1272.0 1358.8 L1272.2 1358.3 L1272.3 1358.4 L1272.5 1359.5 L1272.8 1363.2 L1273.0 1363.4 L1273.2 1365.5 L1273.5 1367.8 L1273.8 1370.6 L1274.0 1369.8 L1274.2 1371.0 L1274.5 1371.8 L1274.8 1375.3 L1275.0 1374.5 L1275.2 1379.1 L1275.5 1377.9 L1275.8 1379.4 L1276.0 1381.5 L1276.2 1383.5 L1276.5 1384.0 L1276.8 1385.9 L1277.0 1385.4 L1277.2 1389.1 L1277.3 1387.9 L1277.5 1388.9 L1277.8 1389.1 L1278.0 1390.6 L1278.2 1391.1 L1278.5 1390.5 L1278.8 1393.1 L1279.0 1390.3 L1279.2 1389.5 L1279.5 1393.3 L1279.8 1396.2 L1280.0 1391.4 L1280.2 1393.8 L1280.5 1394.9 L1280.8 1395.1 L1281.0 1395.9 L1281.2 1396.2 L1281.5 1396.5 L1281.8 1396.2 L1282.0 1397.5 L1282.2 1396.1 L1282.5 1396.1 L1282.8 1395.7 L1283.0 1396.4 L1283.2 1395.2 L1283.5 1397.9 L1283.8 1398.2 L1284.0 1399.3 L1284.2 1397.7 L1284.5 1399.7 L1284.8 1398.9 L1285.0 1401.1 L1285.2 1400.0 L1285.3 1400.0 L1285.5 1398.8 L1285.8 1400.9 L1286.0 1399.2 L1286.2 1401.7 L1286.5 1400.9 L1286.8 1398.8 L1287.0 1399.9 L1287.2 1400.5 L1287.5 1402.0 L1287.8 1400.6 L1288.0 1400.3 L1288.2 1401.8 L1288.5 1399.2 L1288.8 1398.9 L1289.0 1398.8 L1289.2 1400.8 L1289.5 1398.6 L1289.8 1402.9 L1290.0 1400.7 L1290.2 1401.5 L1290.5 1401.0 L1290.8 1399.6 L1291.0 1399.8 L1291.2 1399.7 L1291.5 1401.7 L1291.8 1400.6 L1292.0 1397.7 L1292.2 1401.2 L1292.5 1402.4 L1292.8 1401.8 L1293.0 1401.2 L1293.2 1403.1 L1293.5 1401.3 L1293.8 1402.2 L1294.0 1401.3 L1294.2 1401.8 L1294.5 1401.5 L1294.8 1399.3 L1295.0 1401.5 L1295.2 1401.9 L1295.5 1401.6 L1295.8 1402.6 L1296.0 1402.7 L1296.2 1399.7 L1296.5 1402.5 L1296.8 1404.5 L1297.0 1402.1 L1297.2 1402.2 L1297.5 1400.0 L1297.8 1402.4 L1298.0 1403.1 L1298.2 1405.0 L1298.5 1403.8 L1298.8 1403.6 L1299.0 1401.9 L1299.2 1401.7 L1299.5 1402.6 L1299.8 1401.3 L1300.0 1403.0 L1300.2 1403.9 L1300.5 1401.9 L1300.8 1404.5 L1301.0 1402.3 L1301.2 1403.2 L1301.5 1401.8 L1301.8 1401.5 L1302.0 1403.3 L1302.2 1401.9 L1302.5 1403.4 L1302.8 1403.3 L1303.0 1401.3 L1303.2 1402.7 L1303.5 1403.8 L1303.8 1404.9 L1304.0 1403.8 L1304.2 1403.1 L1304.5 1402.2 L1304.8 1401.5 L1305.0 1403.5 L1305.2 1403.8 L1305.5 1403.9 L1305.8 1403.9 L1306.0 1404.8 L1306.2 1403.1 L1306.5 1403.7 L1306.8 1405.0 L1307.0 1402.3 L1307.2 1403.7 L1307.5 1403.8 L1307.8 1401.8 L1308.0 1401.3 L1308.2 1401.7 L1308.5 1404.5 L1308.8 1403.4 L1309.0 1402.3 L1309.2 1402.3 L1309.5 1403.3 L1309.8 1405.4 L1310.0 1406.1 L1310.2 1404.1 L1310.5 1403.3 L1310.8 1404.1 L1311.0 1403.1 L1311.2 1402.8 L1311.5 1401.9 L1311.8 1402.1 L1312.0 1403.8 L1312.2 1403.1 L1312.5 1403.5 L1312.8 1405.2 L1313.0 1402.2 L1313.2 1404.4 L1313.5 1402.6 L1313.8 1401.9 L1314.0 1405.9 L1314.2 1402.4 L1314.5 1403.0 L1314.8 1403.4 L1315.0 1404.7 L1315.2 1403.4 L1315.5 1404.9 L1315.8 1401.6 L1316.0 1403.7 L1316.2 1402.3 L1316.5 1403.6 L1316.8 1403.5 L1317.0 1402.2 L1317.2 1404.2 L1317.5 1403.4 L1317.8 1404.6 L1318.0 1403.2 L1318.2 1402.7 L1318.5 1402.0 L1318.8 1401.8 L1319.0 1400.6 L1319.2 1403.5 L1319.5 1403.3 L1319.8 1402.2 L1320.0 1403.8 L1320.2 1403.3 L1320.5 1402.0 L1320.8 1404.1 L1321.0 1404.0 L1321.2 1404.1 L1321.5 1403.8 L1321.8 1405.0 L1322.0 1403.4 L1322.2 1405.2 L1322.5 1405.2 L1322.8 1404.6 L1323.0 1404.0 L1323.2 1401.4 L1323.5 1404.2 L1323.8 1403.2 L1324.0 1405.7 L1324.2 1404.0 L1324.5 1403.0 L1324.8 1401.0 L1325.0 1401.5 L1325.2 1402.3 L1325.5 1402.8 L1325.8 1404.0 L1326.0 1404.0 L1326.2 1402.4 L1326.5 1400.3 L1326.8 1402.1 L1327.0 1404.2 L1327.2 1403.8 L1327.5 1404.2 L1327.8 1402.8 L1328.0 1403.5 L1328.2 1405.1 L1328.5 1406.2 L1328.8 1402.1 L1329.0 1403.2 L1329.2 1406.1 L1329.5 1402.4 L1329.8 1404.8 L1330.0 1403.5 L1330.2 1400.9 L1330.5 1401.6 L1330.8 1403.5 L1331.0 1403.8 L1331.2 1403.6 L1331.5 1402.8 L1331.8 1402.9 L1332.0 1402.6 L1332.2 1400.7 L1332.5 1405.6 L1332.8 1405.8 L1333.0 1405.3 L1333.2 1401.4 L1333.5 1403.4 L1333.8 1400.9 L1334.0 1402.0 L1334.2 1405.5 L1334.5 1401.3 L1334.8 1401.3 L1335.0 1403.9 L1335.2 1404.3 L1335.5 1402.3 L1335.8 1402.6 L1336.0 1402.3 L1336.2 1399.8 L1336.5 1402.8 L1336.8 1402.0 L1337.0 1403.5 L1337.2 1403.2 L1337.5 1400.3 L1337.8 1402.3 L1338.0 1402.0 L1338.2 1403.6 L1338.5 1403.3 L1338.8 1402.9 L1339.0 1402.5 L1339.2 1403.0 L1339.5 1403.1 L1339.8 1401.5 L1340.0 1401.8 L1340.2 1400.6 L1340.5 1400.9 L1340.8 1404.1 L1341.0 1402.4 L1341.2 1402.5 L1341.5 1402.0 L1341.8 1399.0 L1342.0 1401.1 L1342.2 1403.3 L1342.5 1402.4 L1342.8 1400.9 L1343.0 1402.5 L1343.2 1400.6 L1343.5 1403.1 L1343.8 1400.8 L1344.0 1403.2 L1344.2 1400.2 L1344.5 1399.4 L1344.8 1400.8 L1345.0 1401.1 L1345.2 1397.7 L1345.5 1399.9 L1345.8 1399.6 L1346.0 1399.4 L1346.2 1400.0 L1346.5 1399.1 L1346.8 1399.5 L1347.0 1400.4 L1347.2 1399.3 L1347.5 1402.1 L1347.8 1398.3 L1348.0 1398.3 L1348.2 1398.5 L1348.5 1400.2 L1348.8 1397.8 L1349.0 1402.4 L1349.2 1400.7 L1349.5 1399.4 L1349.8 1398.3 L1350.0 1399.5 L1350.2 1398.3 L1350.5 1398.8 L1350.8 1401.1 L1351.0 1399.0 L1351.2 1400.0 L1351.5 1399.8 L1351.8 1401.0 L1352.0 1398.6 L1352.2 1401.4 L1352.5 1402.5 L1352.8 1398.7 L1353.0 1400.7 L1353.2 1399.4 L1353.5 1400.1 L1353.8 1399.2 L1354.0 1399.2 L1354.2 1399.9 L1354.5 1399.4 L1354.8 1399.9 L1355.0 1399.1 L1355.2 1397.6 L1355.5 1402.3 L1355.8 1400.3 L1356.0 1399.6 L1356.2 1398.6 L1356.5 1402.0 L1356.8 1399.6 L1357.0 1401.9 L1357.2 1400.4 L1357.5 1403.5 L1357.8 1400.5 L1358.0 1402.1 L1358.2 1400.2 L1358.5 1401.2 L1358.8 1404.2 L1359.0 1400.9 L1359.2 1401.8 L1359.5 1399.7 L1359.8 1400.0 L1360.0 1401.8 L1360.2 1402.6 L1360.5 1402.4 L1360.8 1401.2 L1361.0 1401.8 L1361.2 1403.3 L1361.5 1401.4 L1361.8 1402.3 L1362.0 1402.4 L1362.2 1401.4 L1362.5 1401.2 L1362.8 1402.9 L1363.0 1403.4 L1363.2 1404.1 L1363.5 1402.1 L1363.8 1403.2 L1364.0 1404.6 L1364.2 1404.6 L1364.5 1401.4 L1364.8 1402.5 L1365.0 1402.2 L1365.2 1404.1 L1365.5 1402.1 L1365.8 1404.5 L1366.0 1403.7 L1366.2 1401.2 L1366.5 1401.7 L1366.8 1403.9 L1367.0 1403.1 L1367.2 1403.1 L1367.5 1402.0 L1367.8 1402.4 L1368.0 1402.6 L1368.2 1403.2 L1368.5 1404.1 L1368.8 1401.5 L1369.0 1404.3 L1369.2 1403.2 L1369.5 1401.5 L1369.8 1404.3 L1370.0 1402.1 L1370.2 1404.6 L1370.5 1403.0 L1370.8 1403.6 L1371.0 1403.1 L1371.2 1403.4 L1371.5 1400.2 L1371.8 1402.9 L1372.0 1403.2 L1372.2 1402.6 L1372.5 1401.0 L1372.8 1404.9 L1373.0 1405.0 L1373.2 1401.4 L1373.5 1401.4 L1373.8 1400.9 L1374.0 1403.9 L1374.2 1401.3 L1374.5 1400.9 L1374.8 1400.3 L1375.0 1402.0 L1375.2 1401.6 L1375.5 1399.8 L1375.8 1401.5 L1376.0 1402.5 L1376.2 1400.5 L1376.5 1401.4 L1376.8 1402.3 L1377.0 1402.3 L1377.2 1402.1 L1377.5 1399.9 L1377.8 1401.8 L1378.0 1400.3 L1378.2 1400.7 L1378.5 1401.5 L1378.8 1400.8 L1379.0 1400.6 L1379.2 1400.8 L1379.5 1399.2 L1379.8 1397.7 L1380.0 1401.3 L1380.2 1398.8 L1380.5 1399.8 L1380.8 1397.1 L1381.0 1402.1 L1381.2 1399.4 L1381.5 1398.5 L1381.8 1399.9 L1382.0 1399.1 L1382.2 1397.5 L1382.5 1397.4 L1382.8 1398.9 L1383.0 1398.1 L1383.2 1394.8 L1383.5 1396.6 L1383.8 1396.2 L1384.0 1393.5 L1384.2 1395.0 L1384.5 1390.4 L1384.8 1391.8 L1385.0 1391.1 L1385.2 1390.2 L1385.5 1391.1 L1385.8 1389.8 L1386.0 1388.1 L1386.2 1386.8 L1386.5 1385.9 L1386.8 1385.2 L1387.0 1382.7 L1387.2 1383.2 L1387.5 1383.3 L1387.8 1381.7 L1388.0 1377.8 L1388.2 1377.3 L1388.5 1377.7 L1388.8 1377.6 L1389.0 1378.6 L1389.2 1374.8 L1389.5 1375.0 L1389.8 1371.8 L1390.0 1372.8 L1390.2 1370.8 L1390.5 1371.3 L1390.8 1372.1 L1391.0 1369.3 L1391.2 1371.5 L1391.5 1369.0 L1391.8 1368.3 L1392.0 1368.8 L1392.2 1366.1 L1392.5 1367.8 L1392.8 1365.3 L1393.0 1366.1 L1393.2 1366.2 L1393.5 1364.6 L1393.8 1366.5 L1394.0 1364.9 L1394.2 1366.2 L1394.5 1365.1 L1394.8 1361.9 L1395.0 1363.4 L1395.2 1363.2 L1395.5 1361.9 L1395.8 1364.9 L1396.0 1363.2 L1396.2 1366.2 L1396.5 1367.0 L1396.8 1366.2 L1397.0 1366.4 L1397.2 1366.9 L1397.5 1366.8 L1397.8 1369.2 L1398.0 1368.4 L1398.2 1372.0 L1398.5 1371.4 L1398.8 1373.5 L1399.0 1371.1 L1399.2 1372.2 L1399.5 1374.4 L1399.8 1377.1 L1400.0 1375.7 L1400.2 1374.3 L1400.5 1376.8 L1400.8 1377.5 L1401.0 1377.6 L1401.2 1378.8 L1401.5 1381.6 L1401.8 1382.4 L1402.0 1380.1 L1402.2 1384.4 L1402.5 1383.3 L1402.8 1386.0 L1403.0 1389.1 L1403.2 1385.4 L1403.5 1386.9 L1403.8 1389.9 L1404.0 1388.6 L1404.2 1389.4 L1404.5 1388.4 L1404.8 1390.7 L1405.0 1387.2 L1405.2 1390.4 L1405.5 1388.0 L1405.8 1391.2 L1406.0 1391.4 L1406.2 1392.3 L1406.5 1391.3 L1406.8 1393.1 L1407.0 1393.4 L1407.2 1393.7 L1407.5 1392.3 L1407.8 1392.4 L1408.0 1392.9 L1408.2 1392.5 L1408.5 1394.1 L1408.8 1393.5 L1409.0 1394.4 L1409.2 1394.9 L1409.5 1393.9 L1409.8 1395.3 L1410.0 1394.7 L1410.2 1391.5 L1410.5 1397.4 L1410.8 1395.9 L1411.0 1393.6 L1411.2 1397.1 L1411.5 1392.8 L1411.8 1393.8 L1412.0 1394.4 L1412.2 1393.1 L1412.5 1392.6 L1412.8 1393.7 L1413.0 1393.0 L1413.2 1393.8 L1413.5 1392.3 L1413.8 1390.8 L1414.0 1391.4 L1414.2 1392.8 L1414.5 1390.1 L1414.8 1391.4 L1415.0 1390.6 L1415.2 1388.3 L1415.5 1385.8 L1415.8 1386.5 L1416.0 1385.5 L1416.2 1386.6 L1416.5 1385.3 L1416.8 1384.9 L1417.0 1385.7 L1417.2 1385.9 L1417.5 1383.8 L1417.8 1385.8 L1418.0 1380.3 L1418.2 1382.4 L1418.5 1384.3 L1418.8 1380.7 L1419.0 1379.4 L1419.2 1378.5 L1419.5 1379.3 L1419.8 1379.1 L1420.0 1379.5 L1420.2 1376.2 L1420.5 1376.8 L1420.8 1377.3 L1421.0 1377.6 L1421.2 1376.6 L1421.5 1378.8 L1421.8 1377.3 L1422.0 1375.8 L1422.2 1376.5 L1422.5 1377.7 L1422.8 1377.6 L1423.0 1377.6 L1423.2 1377.2 L1423.5 1378.0 L1423.8 1376.5 L1424.0 1378.2 L1424.2 1378.5 L1424.5 1380.4 L1424.8 1376.7 L1425.0 1379.4 L1425.2 1380.8 L1425.5 1379.5 L1425.8 1379.8 L1426.0 1382.3 L1426.2 1382.9 L1426.5 1381.8 L1426.8 1384.6 L1427.0 1384.6 L1427.2 1384.6 L1427.5 1385.0 L1427.8 1382.8 L1428.0 1389.0 L1428.2 1388.1 L1428.5 1388.2 L1428.8 1387.8 L1429.0 1389.6 L1429.2 1387.9 L1429.5 1388.3 L1429.8 1389.8 L1430.0 1392.9 L1430.2 1390.6 L1430.5 1391.9 L1430.8 1390.6 L1431.0 1393.9 L1431.2 1391.8 L1431.5 1392.7 L1431.8 1393.7 L1432.0 1392.5 L1432.2 1393.7 L1432.5 1395.4 L1432.8 1395.4 L1433.0 1397.5 L1433.2 1394.8 L1433.5 1396.3 L1433.8 1398.4 L1434.0 1399.5 L1434.2 1399.7 L1434.5 1399.1 L1434.8 1399.2 L1435.0 1400.0 L1435.2 1401.2 L1435.5 1396.7 L1435.8 1399.6 L1436.0 1397.7 L1436.2 1398.0 L1436.5 1397.3 L1436.8 1399.9 L1437.0 1403.7 L1437.2 1400.9 L1437.5 1400.8 L1437.8 1400.2 L1438.0 1401.6 L1438.2 1403.3 L1438.5 1399.9 L1438.8 1401.6 L1439.0 1402.4 L1439.2 1402.6 L1439.5 1400.5 L1439.8 1401.0 L1440.0 1402.0 L1440.2 1400.6 L1440.5 1402.7 L1440.8 1402.3 L1441.0 1404.4 L1441.2 1401.2 L1441.5 1403.1 L1441.8 1400.2 L1442.0 1401.5 L1442.2 1400.1 L1442.5 1402.1 L1442.8 1403.2 L1443.0 1403.9 L1443.2 1401.8 L1443.5 1402.3 L1443.8 1400.0 L1444.0 1401.7 L1444.2 1402.9 L1444.5 1401.9 L1444.8 1402.9 L1445.0 1400.8 L1445.2 1400.1 L1445.5 1402.0 L1445.8 1405.1 L1446.0 1402.3 L1446.2 1403.3 L1446.5 1401.4 L1446.8 1401.2 L1447.0 1399.8 L1447.2 1402.1 L1447.5 1403.6 L1447.8 1401.5 L1448.0 1402.3 L1448.2 1404.3 L1448.5 1404.1 L1448.8 1402.9 L1449.0 1403.4 L1449.2 1404.7 L1449.5 1402.0 L1449.8 1400.5 L1450.0 1402.6 L1450.2 1403.1 L1450.5 1403.7 L1450.8 1400.4 L1451.0 1401.8 L1451.2 1402.1 L1451.5 1402.6 L1451.8 1405.2 L1452.0 1403.0 L1452.2 1402.5 L1452.5 1401.8 L1452.8 1405.3 L1453.0 1402.4 L1453.2 1400.4 L1453.5 1401.4 L1453.8 1403.0 L1454.0 1401.9 L1454.2 1403.1 L1454.5 1402.7 L1454.8 1403.4 L1455.0 1402.8 L1455.2 1402.5 L1455.5 1404.6 L1455.8 1402.1 L1456.0 1401.8 L1456.2 1404.4 L1456.5 1404.7 L1456.8 1400.4 L1457.0 1404.0 L1457.2 1404.7 L1457.5 1402.9 L1457.8 1402.6 L1458.0 1403.0 L1458.2 1404.0 L1458.5 1402.9 L1458.8 1403.0 L1459.0 1403.2 L1459.2 1403.7 L1459.5 1403.7 L1459.8 1404.9 L1460.0 1403.6 L1460.2 1402.4 L1460.5 1400.6 L1460.8 1401.2 L1461.0 1404.4 L1461.2 1402.2 L1461.5 1403.2 L1461.8 1403.6 L1462.0 1404.9 L1462.2 1401.6 L1462.5 1405.9 L1462.8 1402.3 L1463.0 1402.0 L1463.2 1405.7 L1463.5 1403.6 L1463.8 1404.8 L1464.0 1403.0 L1464.2 1404.9 L1464.5 1403.1 L1464.8 1404.5 L1465.0 1404.4 L1465.2 1403.2 L1465.5 1405.9 L1465.8 1404.5 L1466.0 1404.6 L1466.2 1405.0 L1466.5 1403.1 L1466.8 1403.9 L1467.0 1405.2 L1467.2 1401.4 L1467.5 1405.2 L1467.8 1405.2 L1468.0 1404.1 L1468.2 1404.1 L1468.5 1402.6 L1468.8 1405.3 L1469.0 1402.2 L1469.2 1405.1 L1469.5 1402.2 L1469.8 1404.1 L1470.0 1401.9 L1470.2 1405.2 L1470.5 1404.1 L1470.8 1403.8 L1471.0 1403.3 L1471.2 1402.4 L1471.5 1402.7 L1471.8 1404.0 L1472.0 1404.6 L1472.2 1405.4 L1472.5 1403.6 L1472.8 1401.5 L1473.0 1403.7 L1473.2 1402.1 L1473.5 1405.7 L1473.8 1403.8 L1474.0 1403.3 L1474.2 1403.2 L1474.5 1404.8 L1474.8 1404.9 L1475.0 1401.6 L1475.2 1405.8 L1475.5 1402.9 L1475.8 1403.1 L1476.0 1404.3 L1476.2 1403.9 L1476.5 1405.7 L1476.8 1405.2 L1477.0 1405.0 L1477.2 1403.4 L1477.5 1406.0 L1477.8 1402.1 L1478.0 1403.2 L1478.2 1402.4 L1478.5 1405.2 L1478.8 1403.8 L1479.0 1404.6 L1479.2 1402.1 L1479.5 1405.7 L1479.8 1403.2 L1480.0 1405.3 L1480.2 1405.1 L1480.5 1403.3 L1480.8 1403.4 L1481.0 1403.8 L1481.2 1405.1 L1481.5 1402.8 L1481.8 1401.7 L1482.0 1405.7 L1482.2 1405.2 L1482.5 1401.4 L1482.8 1403.5 L1483.0 1403.8 L1483.2 1404.2 L1483.5 1403.2 L1483.8 1404.6 L1484.0 1404.6 L1484.2 1404.5 L1484.5 1405.8 L1484.8 1405.0 L1485.0 1404.4 L1485.2 1403.3 L1485.5 1403.3 L1485.8 1403.9 L1486.0 1404.1 L1486.2 1405.6 L1486.5 1405.6 L1486.8 1403.4 L1487.0 1403.7 L1487.2 1404.9 L1487.5 1404.6 L1487.8 1402.8 L1488.0 1406.0 L1488.2 1404.4 L1488.5 1403.5 L1488.8 1402.6 L1489.0 1404.6 L1489.2 1403.9 L1489.5 1403.8 L1489.8 1405.6 L1490.0 1404.4 L1490.2 1405.0 L1490.5 1405.8 L1490.8 1403.1 L1491.0 1403.5 L1491.2 1404.1 L1491.5 1403.9 L1491.8 1403.8 L1492.0 1405.2 L1492.2 1402.4 L1492.5 1403.0 L1492.8 1403.4 L1493.0 1403.3 L1493.2 1400.5 L1493.5 1402.6 L1493.8 1406.2 L1494.0 1403.1 L1494.2 1406.7 L1494.5 1400.4 L1494.8 1403.8 L1495.0 1402.9 L1495.2 1404.3 L1495.5 1405.1 L1495.8 1405.6 L1496.0 1403.8 L1496.2 1402.8 L1496.5 1404.6 L1496.8 1403.0 L1497.0 1403.9 L1497.2 1402.7 L1497.5 1401.9 L1497.8 1401.9 L1498.0 1405.4 L1498.2 1403.8 L1498.5 1404.2 L1498.8 1403.4 L1499.0 1403.9 L1499.2 1404.1 L1499.5 1403.8 L1499.8 1402.5 L1500.0 1403.0 L1500.2 1404.3 L1500.5 1400.3 L1500.8 1402.2 L1501.0 1404.1 L1501.2 1403.1 L1501.5 1401.9 L1501.8 1403.2 L1502.0 1402.2 L1502.2 1403.1 L1502.5 1403.7 L1502.8 1401.5 L1503.0 1404.4 L1503.2 1405.4 L1503.5 1402.3 L1503.8 1401.2 L1504.0 1403.3 L1504.2 1402.8 L1504.5 1402.8 L1504.8 1402.9 L1505.0 1403.7 L1505.2 1400.6 L1505.5 1404.0 L1505.8 1404.5 L1506.0 1403.1 L1506.2 1402.2 L1506.5 1400.5 L1506.8 1403.7 L1507.0 1402.8 L1507.2 1404.2 L1507.5 1404.4 L1507.8 1403.7 L1508.0 1401.8 L1508.2 1403.7 L1508.5 1403.7 L1508.8 1404.3 L1509.0 1405.6 L1509.2 1404.2 L1509.5 1405.7 L1509.8 1402.7 L1510.0 1402.7 L1510.2 1402.9 L1510.5 1403.5 L1510.8 1402.8 L1511.0 1400.6 L1511.2 1400.7 L1511.5 1402.0 L1511.8 1401.3 L1512.0 1402.9 L1512.2 1404.6 L1512.5 1401.9 L1512.8 1400.3 L1513.0 1401.4 L1513.2 1403.2 L1513.5 1401.2 L1513.8 1402.2 L1514.0 1402.9 L1514.2 1401.0 L1514.5 1403.3 L1514.8 1400.0 L1515.0 1399.8 L1515.2 1400.8 L1515.5 1401.2 L1515.8 1397.4 L1516.0 1399.8 L1516.2 1399.6 L1516.5 1400.2 L1516.8 1398.3 L1517.0 1399.5 L1517.2 1396.7 L1517.5 1396.9 L1517.8 1397.5 L1518.0 1397.7 L1518.2 1399.5 L1518.5 1396.6 L1518.6 1398.5 L1518.8 1395.2 L1519.0 1395.3 L1519.2 1395.2 L1519.5 1396.3 L1519.8 1395.4 L1520.0 1396.1 L1520.2 1394.0 L1520.5 1394.1 L1520.8 1393.0 L1521.0 1392.5 L1521.2 1392.2 L1521.5 1394.6 L1521.8 1391.5 L1522.0 1392.2 L1522.2 1391.6 L1522.5 1391.5 L1522.8 1392.6 L1523.0 1394.6 L1523.2 1389.6 L1523.5 1390.7 L1523.8 1389.9 L1524.0 1392.0 L1524.2 1391.2 L1524.5 1391.6 L1524.8 1390.9 L1525.0 1390.1 L1525.2 1387.4 L1525.2 1390.3 L1525.5 1389.5 L1525.8 1391.6 L1526.0 1392.6 L1526.2 1389.7 L1526.5 1392.1 L1526.8 1390.6 L1527.0 1389.4 L1527.2 1392.3 L1527.5 1394.2 L1527.8 1394.1 L1528.0 1393.4 L1528.2 1392.0 L1528.5 1395.3 L1528.8 1393.1 L1529.0 1391.9 L1529.2 1393.9 L1529.5 1395.4 L1529.8 1394.4 L1530.0 1396.1 L1530.2 1396.0 L1530.5 1398.2 L1530.8 1397.3 L1531.0 1397.7 L1531.2 1396.3 L1531.5 1400.0 L1531.8 1400.5 L1532.0 1400.2 L1532.2 1400.5 L1532.5 1400.1 L1532.8 1400.2 L1533.0 1401.6 L1533.2 1401.4 L1533.5 1400.5 L1533.8 1400.1 L1534.0 1400.9 L1534.2 1402.9 L1534.5 1401.0 L1534.8 1404.8 L1535.0 1402.2 L1535.2 1400.9 L1535.5 1402.8 L1535.8 1405.7 L1536.0 1404.6 L1536.2 1402.7 L1536.5 1401.7 L1536.8 1404.8 L1537.0 1402.2 L1537.2 1403.8 L1537.5 1404.4 L1537.8 1402.6 L1538.0 1403.6 L1538.2 1403.0 L1538.5 1403.0 L1538.8 1401.4 L1539.0 1406.1 L1539.2 1404.1 L1539.5 1402.7 L1539.8 1404.8 L1540.0 1404.7 L1540.2 1405.2 L1540.5 1404.1 L1540.8 1406.2 L1541.0 1402.6 L1541.2 1405.4 L1541.5 1408.1 L1541.8 1405.9 L1542.0 1403.8 L1542.2 1404.7 L1542.5 1405.8 L1542.8 1404.1 L1543.0 1403.0 L1543.2 1404.8 L1543.5 1403.6 L1543.8 1405.9 L1544.0 1402.6 L1544.2 1404.6 L1544.5 1408.4 L1544.8 1405.7 L1545.0 1407.2 L1545.2 1406.2 L1545.5 1402.9 L1545.8 1405.0 L1546.0 1404.6 L1546.2 1406.4 L1546.5 1403.4 L1546.8 1406.1 L1547.0 1404.0 L1547.2 1406.9 L1547.5 1406.2 L1547.8 1406.4 L1548.0 1408.1 L1548.2 1405.3 L1548.5 1405.8 L1548.8 1404.2 L1549.0 1405.1 L1549.2 1404.3 L1549.5 1406.0 L1549.8 1404.4 L1550.0 1405.6 L1550.2 1407.9 L1550.5 1404.9 L1550.8 1405.6 L1551.0 1404.2 L1551.2 1406.9 L1551.5 1406.9 L1551.8 1406.4 L1552.0 1406.5 L1552.2 1407.2 L1552.5 1405.6 L1552.8 1404.5 L1553.0 1405.8 L1553.2 1403.0 L1553.5 1404.1 L1553.8 1403.9 L1554.0 1404.4 L1554.2 1406.3 L1554.5 1402.8 L1554.8 1406.7 L1555.0 1403.4 L1555.2 1406.4 L1555.5 1403.6 L1555.8 1405.4 L1556.0 1403.7 L1556.2 1406.3 L1556.5 1405.3 L1556.8 1402.4 L1557.0 1406.8 L1557.2 1404.8 L1557.5 1405.1 L1557.8 1403.3 L1558.0 1406.2 L1558.2 1405.0 L1558.5 1403.4 L1558.8 1405.4 L1559.0 1405.0 L1559.2 1404.2 L1559.5 1405.6 L1559.8 1402.7 L1560.0 1405.3 L1560.2 1405.0 L1560.5 1405.8 L1560.8 1404.4 L1561.0 1404.7 L1561.2 1405.8 L1561.5 1406.1 L1561.8 1406.4 L1562.0 1405.4 L1562.2 1406.6 L1562.5 1403.6 L1562.8 1407.0 L1563.0 1408.0 L1563.2 1404.3 L1563.5 1403.7 L1563.8 1404.1 L1564.0 1406.8 L1564.2 1405.7 L1564.5 1402.8 L1564.8 1403.1 L1565.0 1406.0 L1565.2 1404.6 L1565.5 1403.8 L1565.8 1404.0 L1566.0 1404.2 L1566.2 1402.5 L1566.5 1403.7 L1566.8 1404.8 L1567.0 1405.9 L1567.2 1406.0 L1567.5 1403.2 L1567.8 1406.0 L1568.0 1403.5 L1568.2 1407.1 L1568.5 1406.0 L1568.8 1407.3 L1569.0 1405.3 L1569.2 1403.6 L1569.5 1406.1 L1569.8 1405.1 L1570.0 1404.9 L1570.2 1403.6 L1570.5 1407.3 L1570.8 1405.5 L1571.0 1406.4 L1571.2 1406.4 L1571.5 1404.6 L1571.8 1406.8 L1572.0 1405.3 L1572.2 1405.9 L1572.5 1404.2 L1572.8 1406.1 L1573.0 1404.1 L1573.2 1407.2 L1573.5 1404.8 L1573.8 1402.7 L1574.0 1407.1 L1574.2 1403.6 L1574.5 1404.6 L1574.8 1405.1 L1575.0 1405.3 L1575.2 1405.3 L1575.5 1405.6 L1575.8 1406.7 L1576.0 1403.6 L1576.2 1405.2 L1576.5 1405.7 L1576.8 1405.2 L1577.0 1404.1 L1577.2 1406.3 L1577.5 1404.1 L1577.8 1405.2 L1578.0 1405.2 L1578.2 1406.0 L1578.5 1404.2 L1578.8 1404.7 L1579.0 1405.7 L1579.2 1404.2 L1579.5 1406.1 L1579.8 1405.4 L1580.0 1404.6 L1580.2 1403.5 L1580.5 1404.9 L1580.8 1405.4 L1581.0 1403.9 L1581.2 1405.9 L1581.5 1404.8 L1581.8 1406.2 L1582.0 1404.7 L1582.2 1402.7 L1582.5 1404.7 L1582.8 1403.1 L1583.0 1405.3 L1583.2 1405.2 L1583.5 1402.0 L1583.8 1404.0 L1584.0 1406.1 L1584.2 1405.7 L1584.5 1405.6 L1584.8 1405.3 L1585.0 1403.0 L1585.2 1402.9 L1585.5 1407.1 L1585.8 1403.2 L1586.0 1405.9 L1586.2 1405.8 L1586.5 1403.8 L1586.8 1404.7 L1587.0 1404.8 L1587.2 1405.1 L1587.5 1403.7 L1587.8 1404.2 L1588.0 1403.3 L1588.2 1405.0 L1588.5 1405.5 L1588.8 1404.5 L1589.0 1406.3 L1589.2 1405.5 L1589.5 1403.7 L1589.8 1403.2 L1590.0 1404.4 L1590.2 1405.0 L1590.5 1403.9 L1590.8 1404.8 L1591.0 1405.2 L1591.2 1403.5 L1591.5 1404.2 L1591.8 1405.7 L1592.0 1403.4 L1592.2 1404.4 L1592.5 1405.2 L1592.8 1405.6 L1593.0 1403.7 L1593.2 1401.4 L1593.5 1401.5 L1593.8 1404.6 L1594.0 1404.9 L1594.2 1402.6 L1594.5 1405.1 L1594.8 1404.4 L1595.0 1402.8 L1595.2 1403.3 L1595.5 1405.9 L1595.8 1404.5 L1596.0 1405.5 L1596.2 1404.0 L1596.5 1404.8 L1596.8 1405.1 L1597.0 1407.0 L1597.2 1406.2 L1597.5 1403.3 L1597.8 1405.1 L1598.0 1403.8 L1598.2 1404.4 L1598.5 1404.1 L1598.8 1405.0 L1599.0 1404.5 L1599.2 1402.3 L1599.5 1404.2 L1599.8 1405.5 L1600.0 1403.4 L1600.2 1404.0 L1600.5 1404.7 L1600.8 1403.6 L1601.0 1407.1 L1601.2 1403.8 L1601.5 1403.2 L1601.8 1401.8 L1602.0 1406.2 L1602.2 1405.8 L1602.5 1407.3 L1602.8 1403.3 L1603.0 1404.0 L1603.2 1404.0 L1603.5 1405.9 L1603.8 1402.1 L1604.0 1403.9 L1604.2 1402.1 L1604.5 1402.7 L1604.8 1401.9 L1605.0 1404.6 L1605.2 1402.8 L1605.5 1403.7 L1605.8 1400.9 L1606.0 1405.5 L1606.2 1403.7 L1606.5 1404.5 L1606.8 1404.0 L1607.0 1403.4 L1607.2 1403.9 L1607.5 1405.4 L1607.8 1404.3 L1608.0 1402.6 L1608.2 1405.0 L1608.5 1401.0 L1608.8 1405.0 L1609.0 1401.7 L1609.2 1404.7 L1609.5 1404.9 L1609.8 1402.0 L1610.0 1401.8 L1610.2 1405.3 L1610.5 1402.6 L1610.8 1402.5 L1611.0 1403.3 L1611.2 1402.8 L1611.5 1403.0 L1611.8 1402.9 L1612.0 1402.1 L1612.2 1404.0 L1612.5 1403.8 L1612.8 1404.2 L1613.0 1405.0 L1613.2 1404.5 L1613.5 1404.8 L1613.8 1403.8 L1614.0 1404.8 L1614.2 1406.0 L1614.5 1403.0 L1614.8 1403.8 L1615.0 1403.8 L1615.2 1404.1 L1615.5 1404.9 L1615.8 1401.5 L1616.0 1404.4 L1616.2 1402.6 L1616.5 1403.2 L1616.8 1402.9 L1617.0 1401.7 L1617.2 1402.4 L1617.5 1403.4 L1617.8 1402.3 L1618.0 1403.0 L1618.2 1402.4 L1618.5 1403.4 L1618.8 1402.9 L1619.0 1403.9 L1619.2 1401.7 L1619.5 1399.3 L1619.8 1400.6 L1620.0 1401.4 L1620.2 1402.2 L1620.5 1401.2 L1620.8 1403.4 L1621.0 1400.9 L1621.2 1401.0 L1621.5 1401.1 L1621.8 1401.1 L1622.0 1401.6 L1622.2 1399.2 L1622.5 1398.6 L1622.8 1400.5 L1623.0 1400.1 L1623.2 1400.3 L1623.5 1398.0 L1623.8 1401.7 L1624.0 1403.1 L1624.2 1400.4 L1624.5 1397.6 L1624.8 1402.0 L1625.0 1400.6 L1625.2 1400.1 L1625.5 1400.3 L1625.8 1400.1 L1626.0 1400.2 L1626.2 1399.5 L1626.5 1401.7 L1626.8 1399.2 L1627.0 1398.6 L1627.2 1400.3 L1627.5 1401.8 L1627.8 1400.2 L1628.0 1397.5 L1628.2 1400.5 L1628.5 1397.4 L1628.8 1397.7 L1629.0 1398.3 L1629.2 1399.2 L1629.5 1397.9 L1629.8 1400.2 L1630.0 1396.6 L1630.2 1397.9 L1630.5 1398.3 L1630.8 1397.0 L1631.0 1396.6 L1631.2 1398.8 L1631.5 1397.9 L1631.8 1401.7 L1632.0 1399.0 L1632.2 1397.6 L1632.5 1399.6 L1632.8 1401.8 L1633.0 1399.2 L1633.2 1399.2 L1633.5 1400.1 L1633.8 1400.8 L1634.0 1399.9 L1634.2 1400.6 L1634.5 1401.4 L1634.8 1399.7 L1635.0 1397.6 L1635.2 1401.8 L1635.5 1400.0 L1635.8 1401.2 L1636.0 1400.5 L1636.2 1401.1 L1636.5 1402.2 L1636.8 1399.3 L1637.0 1403.6 L1637.2 1401.6 L1637.5 1399.5 L1637.8 1401.0 L1638.0 1401.4 L1638.2 1403.1 L1638.5 1400.5 L1638.8 1402.4 L1639.0 1402.7 L1639.2 1402.0 L1639.5 1399.8 L1639.8 1402.4 L1640.0 1403.5 L1640.2 1401.8 L1640.5 1402.6 L1640.8 1402.6 L1641.0 1401.8 L1641.2 1401.9 L1641.5 1403.9 L1641.8 1404.1 L1642.0 1404.1 L1642.2 1402.8 L1642.5 1403.5 L1642.8 1404.4 L1643.0 1401.3 L1643.2 1403.3 L1643.5 1403.7 L1643.8 1402.6 L1644.0 1403.7 L1644.2 1403.0 L1644.5 1405.6 L1644.8 1402.8 L1645.0 1404.6 L1645.2 1405.1 L1645.5 1406.7 L1645.8 1406.2 L1646.0 1404.0 L1646.2 1407.9 L1646.5 1406.8 L1646.8 1406.5 L1647.0 1403.0 L1647.2 1405.2 L1647.5 1404.5 L1647.8 1406.9 L1648.0 1405.6 L1648.2 1406.3 L1648.5 1405.9 L1648.8 1405.0 L1649.0 1402.6 L1649.2 1407.0 L1649.5 1404.7 L1649.8 1405.8 L1650.0 1407.6 L1650.2 1405.5 L1650.5 1406.0 L1650.8 1403.9 L1651.0 1406.0 L1651.2 1406.3 L1651.5 1406.6 L1651.8 1402.9 L1652.0 1405.6 L1652.2 1405.3 L1652.5 1403.4 L1652.8 1404.9 L1653.0 1404.6 L1653.2 1406.5 L1653.5 1405.6 L1653.8 1406.1 L1654.0 1407.1 L1654.2 1406.1 L1654.5 1406.5 L1654.8 1407.1 L1655.0 1405.6 L1655.2 1408.9 L1655.5 1405.7 L1655.8 1405.8 L1656.0 1407.3 L1656.2 1405.0 L1656.5 1405.9 L1656.8 1403.7 L1657.0 1402.7 L1657.2 1406.0 L1657.5 1405.5 L1657.8 1406.1 L1658.0 1403.9 L1658.2 1407.0 L1658.5 1407.8 L1658.8 1407.1 L1659.0 1404.6 L1659.2 1407.2 L1659.5 1404.7 L1659.8 1407.7 L1660.0 1405.0 L1660.2 1407.1 L1660.5 1406.6 L1660.8 1406.4 L1661.0 1406.2 L1661.2 1404.8 L1661.5 1403.5 L1661.8 1406.0 L1662.0 1406.6 L1662.2 1405.3 L1662.5 1406.2 L1662.8 1407.9 L1663.0 1405.5 L1663.2 1406.9 L1663.5 1405.7 L1663.8 1405.9 L1664.0 1404.2 L1664.2 1406.4 L1664.5 1403.1 L1664.8 1404.3 L1665.0 1406.8 L1665.2 1404.5 L1665.5 1404.2 L1665.8 1406.1 L1666.0 1406.8 L1666.2 1404.7 L1666.5 1407.2 L1666.8 1405.9 L1667.0 1404.4 L1667.2 1404.9 L1667.5 1408.8 L1667.8 1406.2 L1668.0 1407.1 L1668.2 1406.8 L1668.5 1406.1 L1668.8 1406.4 L1669.0 1407.2 L1669.2 1405.5 L1669.5 1408.3 L1669.8 1407.3 L1670.0 1406.2 L1670.2 1405.7 L1670.5 1406.5 L1670.8 1405.5 L1671.0 1407.8 L1671.2 1407.9 L1671.5 1405.0 L1671.8 1404.4 L1672.0 1406.8 L1672.2 1405.5 L1672.5 1406.6 L1672.8 1403.1 L1673.0 1406.4 L1673.2 1405.0 L1673.5 1408.0 L1673.8 1405.6 L1674.0 1405.0 L1674.2 1405.7 L1674.5 1407.1 L1674.8 1406.8 L1675.0 1406.8 L1675.2 1406.2 L1675.5 1403.9 L1675.8 1406.1 L1676.0 1405.5 L1676.2 1406.7 L1676.5 1405.3 L1676.8 1406.2 L1677.0 1405.1 L1677.2 1404.8 L1677.5 1406.7 L1677.8 1407.9 L1678.0 1404.5 L1678.2 1405.2 L1678.5 1405.5 L1678.8 1408.7 L1679.0 1405.8 L1679.2 1406.9 L1679.5 1406.2 L1679.8 1407.1 L1680.0 1406.2 L1680.2 1407.8 L1680.5 1406.6 L1680.8 1406.9 L1681.0 1404.6 L1681.2 1404.2 L1681.5 1406.7 L1681.8 1404.3 L1682.0 1405.0 L1682.2 1406.3 L1682.5 1407.4 L1682.8 1404.7 L1683.0 1406.0 L1683.2 1406.8 L1683.5 1404.2 L1683.8 1407.5 L1684.0 1408.0 L1684.2 1406.6 L1684.5 1406.0 L1684.8 1408.2 L1685.0 1405.3 L1685.2 1406.1 L1685.5 1405.6 L1685.8 1406.9 L1686.0 1406.4 L1686.2 1406.1 L1686.5 1406.1 L1686.8 1404.1 L1687.0 1407.4 L1687.2 1404.6 L1687.5 1405.0 L1687.8 1408.6 L1688.0 1407.6 L1688.2 1406.3 L1688.5 1405.3 L1688.8 1406.2 L1689.0 1406.9 L1689.2 1406.6 L1689.5 1406.2" fill="none" stroke="#7b04ee" stroke-width="7.2" stroke-linejoin="round" stroke-linecap="butt"/>
<path d="M136.5 829.5 L136.8 830.4 L137.0 831.0 L137.2 828.6 L137.5 828.8 L137.8 827.9 L138.0 831.3 L138.2 829.4 L138.5 831.9 L138.8 823.9 L139.0 834.5 L139.2 829.3 L139.5 831.7 L139.8 829.2 L140.0 828.5 L140.2 831.1 L140.5 832.2 L140.8 829.1 L141.0 829.2 L141.2 831.8 L141.5 827.0 L141.8 825.0 L142.0 831.0 L142.2 827.7 L142.5 823.8 L142.8 827.2 L143.0 828.3 L143.2 826.1 L143.5 825.2 L143.8 829.9 L144.0 832.6 L144.2 829.1 L144.5 827.5 L144.8 831.0 L145.0 832.1 L145.2 828.9 L145.5 831.6 L145.8 833.1 L146.0 829.3 L146.2 827.4 L146.5 831.0 L146.8 830.7 L147.0 833.4 L147.2 826.0 L147.5 827.9 L147.8 827.4 L148.0 824.6 L148.2 830.4 L148.5 831.6 L148.8 827.7 L149.0 834.3 L149.2 832.6 L149.5 832.0 L149.8 831.3 L150.0 833.0 L150.2 826.0 L150.5 832.0 L150.8 832.0 L151.0 824.6 L151.2 831.2 L151.5 829.4 L151.8 832.6 L152.0 828.8 L152.2 830.1 L152.5 831.2 L152.8 827.5 L153.0 832.1 L153.2 829.9 L153.5 831.7 L153.8 828.6 L154.0 833.6 L154.2 832.1 L154.5 829.7 L154.8 832.2 L155.0 834.2 L155.2 835.8 L155.5 825.4 L155.8 833.1 L156.0 831.8 L156.2 830.0 L156.5 827.2 L156.8 834.3 L157.0 826.5 L157.2 832.1 L157.5 834.4 L157.8 825.4 L158.0 829.5 L158.2 826.4 L158.5 831.2 L158.8 835.1 L159.0 836.7 L159.2 825.0 L159.5 828.7 L159.8 832.7 L160.0 835.4 L160.2 831.8 L160.5 828.2 L160.8 831.5 L161.0 830.5 L161.2 830.0 L161.5 828.3 L161.8 831.8 L162.0 831.6 L162.2 830.4 L162.5 830.0 L162.8 826.7 L163.0 829.2 L163.2 834.5 L163.5 830.1 L163.8 826.3 L164.0 834.9 L164.2 832.4 L164.5 837.3 L164.8 831.0 L165.0 829.4 L165.2 826.4 L165.5 835.0 L165.8 838.3 L166.0 828.4 L166.2 828.9 L166.5 832.8 L166.8 828.4 L167.0 830.1 L167.2 829.9 L167.5 831.6 L167.8 834.4 L168.0 831.1 L168.2 833.9 L168.5 829.8 L168.8 832.1 L169.0 824.5 L169.2 826.6 L169.5 833.6 L169.8 829.3 L170.0 833.0 L170.2 832.9 L170.5 835.3 L170.8 833.7 L171.0 834.4 L171.2 830.9 L171.5 829.1 L171.8 829.0 L172.0 829.8 L172.2 827.8 L172.5 829.6 L172.8 831.1 L173.0 832.1 L173.2 830.3 L173.5 825.4 L173.8 831.2 L174.0 832.1 L174.2 834.8 L174.5 833.3 L174.8 829.5 L175.0 829.3 L175.2 837.7 L175.5 833.9 L175.8 837.2 L176.0 838.2 L176.2 829.1 L176.5 832.8 L176.8 833.0 L177.0 833.4 L177.2 833.3 L177.5 832.3 L177.8 832.2 L178.0 827.0 L178.2 831.2 L178.5 829.4 L178.8 832.1 L179.0 830.3 L179.2 833.7 L179.5 834.3 L179.8 832.8 L180.0 832.8 L180.2 832.1 L180.5 830.5 L180.8 831.4 L181.0 830.4 L181.2 833.1 L181.5 832.0 L181.8 833.7 L182.0 827.9 L182.2 834.7 L182.5 829.6 L182.8 829.7 L183.0 831.4 L183.2 830.3 L183.5 833.0 L183.8 830.3 L184.0 828.8 L184.2 829.5 L184.5 836.2 L184.8 832.3 L185.0 828.6 L185.2 832.2 L185.5 827.4 L185.8 837.8 L186.0 827.5 L186.2 833.7 L186.5 833.9 L186.8 827.8 L187.0 833.2 L187.2 835.4 L187.5 833.8 L187.8 833.2 L188.0 835.3 L188.2 832.9 L188.5 833.4 L188.8 832.0 L189.0 834.4 L189.2 829.5 L189.5 834.9 L189.8 830.9 L190.0 829.1 L190.2 833.6 L190.5 837.8 L190.8 835.5 L191.0 831.0 L191.2 834.7 L191.5 831.2 L191.8 832.2 L192.0 832.9 L192.2 825.5 L192.5 833.2 L192.8 829.5 L193.0 830.5 L193.2 828.1 L193.5 828.0 L193.8 829.8 L194.0 835.3 L194.2 837.9 L194.5 832.7 L194.8 836.2 L195.0 832.0 L195.2 826.9 L195.5 833.3 L195.8 834.2 L196.0 831.5 L196.2 833.8 L196.5 834.7 L196.8 830.2 L197.0 828.3 L197.2 832.2 L197.5 832.3 L197.8 831.9 L198.0 836.0 L198.2 838.3 L198.5 831.7 L198.8 835.2 L199.0 836.0 L199.2 835.3 L199.5 836.3 L199.8 831.9 L200.0 835.4 L200.2 839.4 L200.5 835.6 L200.8 831.2 L201.0 835.0 L201.2 837.1 L201.5 834.3 L201.8 831.5 L202.0 838.0 L202.2 829.4 L202.5 834.8 L202.8 833.2 L203.0 829.6 L203.2 837.1 L203.5 834.4 L203.8 829.7 L204.0 835.2 L204.2 832.0 L204.5 827.5 L204.8 831.3 L205.0 834.2 L205.2 835.4 L205.5 833.9 L205.8 833.6 L206.0 834.9 L206.2 832.8 L206.5 837.1 L206.8 834.0 L207.0 834.4 L207.2 835.2 L207.5 830.3 L207.8 831.4 L208.0 838.3 L208.2 834.6 L208.5 832.7 L208.8 834.7 L209.0 832.1 L209.2 834.5 L209.5 831.6 L209.8 834.5 L210.0 828.8 L210.2 837.8 L210.5 832.1 L210.8 828.8 L211.0 833.1 L211.2 832.6 L211.5 834.3 L211.8 830.3 L212.0 835.1 L212.2 841.3 L212.5 829.9 L212.8 834.9 L213.0 832.9 L213.2 834.5 L213.5 828.3 L213.8 830.4 L214.0 835.4 L214.2 833.8 L214.5 839.0 L214.8 831.8 L215.0 834.5 L215.2 841.4 L215.5 831.6 L215.8 831.2 L216.0 833.8 L216.2 833.8 L216.5 836.5 L216.8 834.3 L217.0 831.5 L217.2 834.5 L217.5 841.3 L217.8 837.8 L218.0 826.4 L218.2 833.4 L218.5 831.1 L218.8 835.7 L219.0 833.2 L219.2 839.7 L219.5 836.6 L219.8 836.5 L220.0 834.3 L220.2 833.6 L220.5 834.7 L220.8 837.7 L221.0 835.3 L221.2 832.5 L221.5 837.6 L221.8 834.2 L222.0 833.3 L222.2 831.1 L222.5 831.8 L222.8 831.6 L223.0 826.1 L223.2 836.7 L223.5 835.2 L223.8 832.8 L224.0 836.7 L224.2 834.8 L224.5 834.6 L224.8 826.0 L225.0 832.7 L225.2 835.0 L225.5 838.4 L225.8 839.1 L226.0 837.8 L226.2 829.7 L226.5 826.5 L226.8 835.1 L227.0 833.4 L227.2 836.2 L227.5 832.9 L227.8 833.9 L228.0 828.6 L228.2 834.6 L228.5 831.8 L228.8 834.3 L229.0 834.6 L229.2 832.8 L229.5 834.1 L229.8 833.1 L230.0 835.5 L230.2 834.6 L230.5 831.4 L230.8 831.2 L231.0 838.4 L231.2 832.7 L231.5 836.1 L231.8 834.2 L232.0 831.2 L232.2 830.6 L232.5 833.3 L232.8 833.7 L233.0 834.8 L233.2 829.0 L233.5 831.0 L233.8 832.6 L234.0 837.8 L234.2 825.5 L234.5 834.2 L234.8 831.1 L235.0 834.1 L235.2 831.3 L235.5 833.9 L235.8 837.6 L236.0 833.8 L236.2 834.1 L236.5 833.9 L236.8 830.4 L237.0 834.4 L237.2 832.0 L237.5 830.1 L237.8 832.5 L238.0 831.9 L238.2 834.9 L238.5 832.5 L238.8 830.9 L239.0 837.1 L239.2 835.6 L239.5 836.5 L239.8 834.4 L240.0 832.2 L240.2 831.2 L240.5 831.6 L240.8 835.4 L241.0 832.8 L241.2 827.9 L241.5 832.3 L241.8 828.0 L242.0 832.9 L242.2 828.7 L242.5 828.5 L242.8 832.8 L243.0 832.1 L243.2 827.2 L243.5 834.7 L243.8 839.1 L244.0 827.8 L244.2 838.0 L244.5 830.2 L244.8 830.8 L245.0 831.8 L245.2 827.8 L245.5 836.3 L245.8 833.8 L246.0 829.9 L246.2 831.4 L246.5 827.6 L246.8 831.2 L247.0 835.1 L247.2 826.9 L247.5 830.9 L247.8 832.7 L248.0 835.5 L248.2 836.4 L248.5 830.8 L248.8 829.9 L249.0 833.6 L249.2 831.0 L249.5 831.2 L249.8 835.5 L250.0 837.4 L250.2 832.9 L250.5 831.5 L250.8 833.9 L251.0 826.2 L251.2 832.0 L251.5 828.8 L251.8 839.5 L252.0 834.3 L252.2 832.5 L252.5 831.4 L252.8 824.6 L253.0 834.2 L253.2 837.1 L253.5 829.7 L253.8 834.1 L254.0 834.2 L254.2 827.2 L254.5 834.9 L254.8 836.2 L255.0 832.7 L255.2 831.7 L255.5 834.4 L255.8 827.1 L256.0 832.2 L256.2 835.2 L256.5 828.0 L256.8 835.0 L257.0 830.6 L257.2 825.4 L257.5 831.5 L257.8 828.8 L258.0 832.8 L258.2 828.2 L258.5 835.1 L258.8 829.5 L259.0 832.9 L259.2 829.9 L259.5 830.8 L259.8 835.5 L260.0 832.4 L260.2 830.5 L260.5 827.9 L260.8 835.3 L261.0 834.0 L261.2 830.7 L261.5 832.5 L261.8 828.5 L262.0 828.5 L262.2 829.1 L262.5 832.8 L262.8 832.6 L263.0 829.3 L263.2 833.9 L263.5 834.1 L263.8 832.2 L264.0 834.8 L264.2 830.7 L264.5 831.2 L264.8 833.0 L265.0 831.5 L265.2 834.0 L265.5 827.7 L265.8 836.0 L266.0 829.1 L266.2 831.0 L266.5 827.3 L266.8 833.4 L267.0 835.4 L267.2 834.8 L267.5 834.1 L267.8 826.6 L268.0 829.0 L268.2 830.0 L268.5 828.5 L268.8 834.9 L269.0 831.9 L269.2 831.3 L269.5 832.9 L269.8 828.4 L270.0 828.5 L270.2 828.6 L270.5 832.8 L270.8 832.3 L271.0 833.0 L271.2 834.6 L271.5 827.0 L271.8 829.5 L272.0 831.7 L272.2 827.0 L272.5 829.5 L272.8 834.3 L273.0 834.6 L273.2 834.5 L273.5 831.2 L273.8 830.4 L274.0 834.4 L274.2 829.9 L274.5 832.1 L274.8 835.1 L275.0 829.9 L275.2 829.1 L275.5 831.0 L275.8 832.8 L276.0 832.4 L276.2 831.4 L276.5 832.6 L276.8 826.0 L277.0 828.2 L277.2 831.4 L277.5 828.0 L277.8 826.7 L278.0 827.1 L278.2 828.0 L278.5 830.3 L278.8 827.6 L279.0 831.5 L279.2 836.0 L279.5 830.3 L279.8 834.7 L280.0 831.6 L280.2 827.2 L280.5 829.9 L280.8 827.6 L281.0 833.0 L281.2 827.1 L281.5 834.7 L281.8 832.4 L282.0 824.3 L282.2 833.0 L282.5 835.4 L282.8 828.1 L283.0 833.6 L283.2 824.9 L283.5 831.3 L283.8 825.3 L284.0 832.0 L284.2 824.9 L284.5 823.0 L284.8 831.7 L285.0 837.5 L285.2 828.5 L285.5 832.9 L285.8 830.7 L286.0 829.3 L286.2 832.2 L286.5 835.4 L286.8 826.5 L287.0 832.0 L287.2 831.3 L287.5 825.8 L287.8 835.2 L288.0 836.3 L288.2 827.3 L288.5 835.6 L288.8 830.4 L289.0 829.7 L289.2 834.8 L289.5 830.8 L289.8 831.1 L290.0 834.8 L290.2 834.1 L290.5 832.8 L290.8 825.7 L291.0 825.2 L291.2 833.5 L291.5 827.1 L291.8 830.5 L292.0 826.7 L292.2 829.4 L292.5 826.0 L292.8 835.0 L293.0 826.8 L293.2 829.5 L293.5 829.3 L293.8 833.6 L294.0 825.5 L294.2 829.7 L294.5 829.2 L294.8 831.5 L295.0 831.3 L295.2 828.4 L295.5 830.5 L295.8 828.6 L296.0 831.2 L296.2 829.4 L296.5 827.7 L296.8 829.6 L297.0 830.8 L297.2 836.7 L297.5 828.1 L297.8 830.6 L298.0 834.2 L298.2 823.2 L298.5 824.2 L298.8 825.9 L299.0 829.2 L299.2 837.0 L299.5 830.7 L299.8 833.3 L300.0 828.8 L300.2 822.1 L300.5 822.3 L300.8 832.6 L301.0 830.0 L301.2 825.4 L301.5 832.8 L301.8 824.6 L302.0 832.8 L302.2 833.8 L302.5 826.9 L302.8 825.8 L303.0 831.9 L303.2 825.8 L303.5 831.9 L303.8 825.5 L304.0 831.7 L304.2 829.4 L304.5 827.8 L304.8 826.3 L305.0 829.8 L305.2 823.2 L305.5 828.2 L305.8 827.8 L306.0 831.1 L306.2 825.1 L306.5 834.3 L306.8 828.0 L307.0 825.4 L307.2 833.2 L307.5 834.0 L307.8 828.3 L308.0 826.1 L308.2 828.9 L308.5 826.7 L308.8 827.8 L309.0 833.6 L309.2 829.9 L309.5 829.2 L309.8 829.8 L310.0 828.5 L310.2 831.3 L310.5 831.3 L310.8 827.5 L311.0 828.9 L311.2 836.0 L311.5 829.8 L311.8 827.9 L312.0 834.8 L312.2 828.5 L312.5 825.1 L312.8 830.5 L313.0 825.6 L313.2 826.9 L313.5 829.4 L313.8 828.0 L314.0 826.0 L314.2 826.6 L314.5 826.5 L314.8 831.9 L315.0 826.0 L315.2 826.5 L315.5 834.5 L315.8 826.5 L316.0 832.8 L316.2 832.2 L316.5 827.7 L316.8 823.7 L317.0 829.5 L317.2 830.1 L317.5 831.0 L317.8 828.2 L318.0 831.7 L318.2 832.3 L318.5 824.7 L318.8 832.4 L319.0 828.5 L319.2 826.1 L319.5 826.9 L319.8 833.7 L320.0 830.9 L320.2 822.3 L320.5 828.0 L320.8 827.3 L321.0 827.2 L321.2 826.1 L321.5 823.2 L321.8 830.4 L322.0 824.8 L322.2 826.5 L322.5 825.8 L322.8 825.4 L323.0 829.9 L323.2 828.8 L323.5 825.5 L323.8 824.6 L324.0 826.0 L324.2 830.5 L324.5 827.8 L324.8 828.2 L325.0 826.4 L325.2 826.6 L325.5 828.0 L325.8 821.6 L326.0 832.3 L326.2 824.9 L326.5 825.5 L326.8 831.4 L327.0 827.9 L327.2 827.4 L327.5 825.4 L327.8 822.4 L328.0 827.7 L328.2 830.8 L328.5 824.3 L328.8 831.3 L329.0 823.6 L329.2 824.8 L329.5 828.6 L329.8 827.0 L330.0 829.1 L330.2 824.7 L330.5 823.8 L330.8 821.1 L331.0 823.2 L331.2 823.5 L331.5 822.4 L331.8 827.8 L332.0 824.7 L332.2 820.6 L332.5 834.1 L332.8 824.1 L333.0 822.8 L333.2 830.5 L333.5 830.2 L333.8 823.0 L334.0 822.0 L334.2 823.4 L334.5 830.0 L334.8 825.5 L335.0 823.9 L335.2 826.3 L335.5 830.1 L335.8 822.0 L336.0 825.1 L336.2 822.0 L336.5 833.0 L336.8 831.9 L337.0 829.1 L337.2 825.8 L337.5 828.2 L337.8 819.6 L338.0 826.9 L338.2 821.9 L338.5 821.9 L338.8 823.8 L339.0 824.9 L339.2 827.7 L339.5 828.1 L339.8 826.7 L340.0 822.9 L340.2 827.9 L340.5 825.4 L340.8 829.4 L341.0 822.9 L341.2 818.3 L341.5 824.2 L341.8 832.3 L342.0 827.1 L342.2 825.0 L342.5 828.3 L342.8 827.1 L343.0 826.9 L343.2 823.9 L343.5 825.7 L343.8 826.1 L344.0 823.4 L344.2 821.9 L344.5 825.8 L344.8 828.3 L345.0 827.3 L345.2 826.8 L345.5 826.8 L345.8 832.6 L346.0 826.0 L346.2 828.4 L346.5 831.2 L346.8 825.3 L347.0 825.9 L347.2 828.3 L347.5 830.2 L347.8 826.0 L348.0 826.1 L348.2 825.2 L348.5 821.2 L348.8 828.3 L349.0 824.1 L349.2 819.5 L349.5 824.3 L349.8 819.4 L350.0 821.6 L350.2 824.8 L350.5 821.8 L350.8 828.0 L351.0 820.1 L351.2 825.4 L351.5 826.3 L351.8 829.1 L352.0 827.4 L352.2 825.2 L352.5 824.6 L352.8 824.1 L353.0 827.7 L353.2 822.1 L353.5 825.7 L353.8 823.7 L354.0 824.6 L354.2 823.0 L354.5 830.3 L354.8 821.6 L355.0 824.3 L355.2 824.3 L355.5 825.3 L355.8 824.7 L356.0 824.6 L356.2 826.2 L356.5 818.5 L356.8 823.0 L357.0 819.1 L357.2 823.6 L357.5 819.1 L357.8 819.7 L358.0 822.4 L358.2 826.8 L358.5 824.2 L358.8 823.3 L359.0 826.6 L359.2 819.3 L359.5 815.7 L359.8 820.7 L360.0 821.1 L360.2 825.7 L360.5 828.4 L360.8 817.6 L361.0 829.0 L361.2 826.4 L361.5 824.1 L361.8 822.5 L362.0 828.7 L362.2 821.5 L362.5 819.7 L362.8 821.5 L363.0 816.8 L363.2 822.4 L363.5 820.5 L363.8 821.8 L364.0 821.8 L364.2 817.3 L364.5 824.6 L364.8 817.3 L365.0 823.1 L365.2 815.4 L365.5 821.3 L365.8 817.6 L366.0 820.2 L366.2 817.9 L366.5 813.1 L366.8 816.2 L367.0 819.8 L367.2 821.3 L367.5 814.8 L367.8 812.6 L368.0 816.4 L368.2 818.3 L368.5 816.9 L368.8 816.2 L369.0 821.2 L369.2 821.4 L369.5 820.6 L369.8 815.3 L370.0 818.3 L370.2 817.3 L370.5 813.4 L370.8 820.4 L371.0 817.8 L371.2 815.9 L371.5 821.6 L371.8 819.5 L372.0 819.7 L372.2 820.6 L372.5 819.0 L372.8 812.8 L373.0 815.4 L373.2 819.5 L373.5 813.9 L373.8 816.3 L374.0 817.3 L374.2 820.3 L374.5 819.8 L374.8 818.4 L375.0 815.0 L375.2 818.2 L375.5 816.9 L375.8 814.7 L376.0 819.2 L376.2 816.4 L376.5 812.5 L376.8 818.6 L377.0 813.8 L377.2 816.2 L377.5 809.6 L377.8 814.1 L378.0 811.1 L378.2 811.0 L378.5 808.0 L378.8 820.4 L379.0 813.3 L379.2 814.4 L379.5 817.0 L379.8 813.1 L380.0 815.0 L380.2 809.1 L380.5 813.8 L380.8 811.9 L381.0 814.6 L381.2 813.5 L381.5 808.6 L381.8 807.1 L382.0 809.6 L382.2 814.9 L382.5 813.9 L382.8 813.7 L383.0 806.2 L383.2 804.9 L383.5 810.3 L383.8 811.1 L384.0 810.2 L384.2 813.1 L384.5 811.4 L384.8 808.2 L385.0 809.1 L385.2 812.1 L385.5 811.8 L385.8 811.3 L386.0 818.4 L386.2 810.6 L386.5 811.6 L386.8 808.1 L387.0 810.0 L387.2 812.6 L387.5 812.7 L387.8 810.4 L388.0 812.0 L388.2 810.9 L388.5 804.8 L388.8 803.2 L389.0 817.6 L389.2 812.9 L389.5 810.1 L389.8 804.9 L390.0 806.2 L390.2 814.2 L390.5 802.6 L390.8 808.9 L391.0 812.5 L391.2 810.2 L391.5 812.0 L391.8 809.2 L392.0 816.9 L392.2 806.2 L392.5 805.1 L392.8 810.1 L393.0 813.5 L393.2 808.9 L393.5 812.2 L393.8 807.2 L394.0 805.1 L394.2 813.0 L394.5 813.4 L394.8 813.2 L395.0 807.0 L395.2 804.7 L395.5 804.6 L395.8 807.4 L396.0 809.8 L396.2 809.5 L396.5 803.4 L396.8 808.3 L397.0 807.7 L397.2 807.8 L397.5 807.4 L397.8 806.7 L398.0 809.1 L398.2 807.5 L398.5 807.8 L398.8 804.8 L399.0 808.1 L399.2 806.4 L399.5 800.2 L399.8 808.1 L400.0 805.7 L400.2 809.3 L400.5 805.8 L400.8 805.9 L401.0 806.8 L401.2 806.0 L401.5 804.6 L401.8 800.3 L402.0 811.4 L402.2 800.8 L402.5 804.5 L402.8 807.5 L403.0 806.5 L403.2 807.0 L403.5 807.6 L403.8 809.0 L404.0 805.9 L404.2 812.0 L404.5 801.3 L404.8 804.8 L405.0 802.7 L405.2 801.9 L405.5 804.1 L405.8 807.4 L406.0 800.5 L406.2 800.2 L406.5 804.3 L406.8 803.4 L407.0 807.4 L407.2 804.3 L407.5 801.6 L407.8 799.6 L408.0 801.0 L408.2 799.5 L408.5 795.6 L408.8 799.5 L409.0 798.6 L409.2 798.2 L409.5 797.3 L409.8 803.4 L410.0 800.1 L410.2 800.5 L410.5 795.6 L410.8 794.0 L411.0 796.0 L411.2 797.3 L411.5 795.2 L411.8 795.4 L412.0 798.6 L412.2 796.3 L412.5 792.1 L412.8 793.5 L413.0 792.5 L413.2 794.8 L413.5 790.4 L413.8 793.1 L414.0 795.4 L414.2 793.1 L414.5 790.0 L414.8 790.6 L415.0 792.5 L415.2 793.3 L415.5 794.1 L415.8 790.9 L416.0 787.0 L416.2 794.8 L416.5 790.9 L416.8 790.8 L417.0 790.0 L417.2 785.5 L417.5 787.2 L417.8 788.4 L418.0 790.2 L418.2 786.8 L418.5 779.0 L418.8 785.0 L419.0 786.3 L419.2 788.6 L419.5 786.4 L419.8 790.9 L420.0 787.5 L420.2 786.8 L420.5 785.1 L420.8 777.7 L421.0 783.9 L421.2 782.7 L421.5 778.8 L421.8 781.7 L422.0 780.7 L422.2 777.6 L422.5 778.1 L422.8 777.2 L423.0 778.2 L423.2 775.7 L423.5 778.0 L423.8 770.2 L424.0 774.5 L424.2 769.7 L424.5 772.8 L424.8 775.2 L425.0 773.2 L425.2 772.2 L425.5 772.2 L425.8 776.1 L426.0 767.6 L426.2 773.0 L426.5 765.3 L426.8 767.9 L427.0 769.2 L427.2 765.6 L427.5 768.2 L427.8 769.2 L428.0 763.0 L428.2 765.7 L428.5 764.3 L428.8 759.1 L429.0 763.7 L429.2 761.4 L429.5 767.2 L429.8 760.1 L430.0 767.1 L430.2 760.0 L430.5 766.7 L430.8 761.7 L431.0 760.5 L431.2 760.6 L431.5 760.0 L431.8 760.6 L432.0 760.6 L432.2 753.7 L432.5 750.2 L432.8 746.0 L433.0 750.9 L433.2 753.4 L433.5 751.4 L433.8 749.7 L434.0 747.5 L434.2 745.7 L434.5 745.9 L434.8 746.9 L434.8 740.6 L435.0 745.9 L435.2 738.0 L435.5 739.4 L435.8 736.1 L436.0 734.7 L436.2 730.9 L436.5 728.5 L436.8 728.9 L437.0 724.6 L437.2 731.8 L437.3 723.9 L437.5 722.1 L437.8 721.1 L438.0 718.3 L438.2 713.2 L438.5 717.9 L438.8 718.2 L439.0 711.8 L439.2 714.7 L439.5 710.0 L439.8 711.9 L440.0 711.7 L440.2 710.7 L440.5 709.3 L440.8 704.8 L441.0 707.9 L441.2 702.8 L441.5 703.7 L441.8 701.9 L442.0 696.7 L442.2 691.6 L442.5 693.8 L442.8 686.7 L443.0 684.6 L443.2 681.4 L443.5 683.8 L443.8 678.6 L444.0 670.6 L444.2 675.6 L444.5 676.3 L444.6 674.5 L444.8 666.5 L445.0 664.4 L445.2 661.9 L445.5 659.3 L445.8 653.6 L446.0 647.3 L446.2 648.2 L446.5 644.3 L446.7 636.7 L446.8 638.4 L447.0 636.8 L447.2 632.9 L447.5 630.9 L447.8 628.4 L448.0 624.5 L448.2 619.7 L448.5 613.4 L448.8 615.0 L449.0 613.7 L449.2 611.9 L449.5 603.8 L449.8 600.5 L449.8 603.5 L450.0 600.9 L450.2 594.9 L450.5 592.6 L450.8 585.7 L451.0 585.7 L451.2 579.0 L451.5 577.4 L451.8 574.1 L452.0 570.0 L452.2 562.7 L452.5 562.6 L452.8 562.2 L453.0 557.9 L453.2 553.8 L453.5 552.6 L453.8 550.0 L454.0 547.1 L454.2 539.7 L454.5 538.5 L454.8 534.4 L455.0 529.7 L455.2 525.0 L455.5 525.1 L455.8 519.9 L456.0 524.1 L456.2 515.3 L456.5 511.7 L456.6 510.0 L456.8 512.6 L457.0 501.7 L457.2 499.1 L457.5 493.2 L457.8 490.3 L458.0 486.0 L458.2 484.2 L458.5 474.0 L458.8 472.8 L459.0 472.1 L459.2 462.8 L459.5 459.1 L459.8 453.0 L460.0 445.2 L460.2 445.9 L460.5 444.4 L460.6 438.9 L460.8 432.9 L461.0 432.7 L461.2 427.4 L461.5 424.5 L461.8 419.4 L461.9 413.7 L462.0 415.8 L462.2 409.8 L462.5 419.0 L462.8 416.8 L463.0 419.9 L463.2 420.4 L463.5 416.9 L463.6 417.5 L463.8 414.9 L464.0 410.5 L464.2 415.1 L464.5 415.0 L464.8 410.5 L465.0 414.8 L465.2 412.2 L465.2 412.9 L465.5 407.9 L465.8 403.6 L466.0 409.0 L466.2 407.0 L466.5 403.4 L466.8 400.9 L467.0 399.7 L467.2 398.5 L467.5 395.9 L467.8 390.2 L468.0 396.3 L468.2 388.4 L468.5 389.9 L468.8 391.8 L469.0 395.0 L469.2 391.5 L469.5 400.9 L469.8 401.1 L470.0 403.1 L470.2 406.1 L470.5 402.1 L470.8 399.4 L471.0 408.5 L471.2 412.9 L471.5 414.1 L471.8 411.2 L471.8 412.7 L472.0 414.9 L472.2 410.5 L472.5 415.1 L472.8 416.6 L473.0 424.2 L473.2 419.1 L473.2 425.2 L473.5 419.7 L473.8 413.7 L474.0 423.7 L474.2 413.5 L474.3 417.9 L474.5 423.7 L474.8 423.5 L475.0 426.8 L475.2 436.7 L475.5 439.3 L475.8 441.3 L476.0 446.4 L476.2 452.8 L476.5 460.7 L476.8 462.7 L477.0 469.6 L477.2 476.7 L477.5 480.7 L477.8 485.9 L478.0 490.9 L478.2 481.1 L478.5 486.5 L478.8 482.0 L479.0 478.7 L479.2 474.0 L479.5 470.6 L479.8 469.7 L480.0 470.5 L480.2 465.3 L480.5 464.1 L480.8 462.5 L481.0 463.8 L481.2 459.2 L481.5 457.4 L481.8 459.2 L482.0 452.7 L482.2 453.0 L482.5 446.5 L482.8 448.1 L483.0 445.4 L483.2 443.4 L483.5 439.6 L483.6 437.2 L483.8 438.2 L484.0 436.0 L484.2 438.3 L484.5 436.3 L484.8 428.8 L485.0 432.1 L485.2 427.3 L485.5 428.2 L485.8 423.9 L486.0 419.5 L486.2 424.6 L486.5 421.3 L486.8 415.0 L487.0 411.5 L487.2 413.5 L487.5 410.0 L487.6 411.4 L487.8 416.7 L488.0 423.3 L488.2 423.9 L488.5 432.5 L488.8 436.7 L489.0 437.8 L489.2 439.7 L489.5 450.0 L489.6 451.4 L489.8 458.1 L490.0 460.8 L490.2 464.2 L490.5 471.0 L490.8 469.6 L491.0 477.1 L491.2 480.8 L491.5 490.1 L491.8 492.3 L492.0 490.4 L492.2 503.6 L492.5 503.3 L492.8 511.8 L492.8 509.9 L493.0 513.4 L493.2 516.7 L493.5 517.7 L493.8 516.9 L494.0 525.4 L494.2 524.9 L494.5 526.1 L494.8 530.2 L495.0 529.1 L495.2 537.7 L495.5 535.6 L495.8 538.2 L496.0 540.3 L496.2 539.2 L496.5 540.7 L496.8 546.6 L497.0 549.2 L497.2 553.6 L497.2 551.7 L497.5 550.1 L497.8 556.8 L498.0 560.0 L498.2 562.9 L498.5 563.6 L498.8 561.9 L499.0 570.6 L499.2 568.1 L499.5 573.9 L499.8 570.8 L500.0 579.3 L500.2 577.7 L500.5 584.9 L500.8 589.1 L500.8 588.1 L501.0 583.3 L501.2 585.7 L501.5 587.7 L501.8 593.6 L502.0 594.6 L502.2 595.8 L502.5 598.0 L502.8 600.5 L503.0 602.5 L503.2 607.1 L503.5 604.2 L503.8 606.7 L504.0 602.9 L504.2 606.1 L504.3 608.1 L504.5 607.6 L504.8 612.8 L505.0 616.3 L505.2 613.4 L505.5 614.4 L505.8 615.5 L506.0 618.6 L506.2 617.8 L506.5 621.8 L506.8 622.6 L507.0 624.0 L507.2 626.3 L507.5 625.5 L507.8 627.0 L508.0 632.7 L508.2 628.8 L508.5 632.4 L508.8 631.5 L509.0 631.3 L509.2 632.5 L509.3 631.7 L509.5 634.7 L509.8 633.8 L510.0 635.2 L510.2 640.8 L510.5 637.7 L510.8 642.3 L511.0 640.6 L511.2 643.2 L511.5 639.8 L511.8 642.9 L512.0 650.3 L512.2 646.6 L512.5 647.9 L512.8 646.6 L513.0 649.2 L513.2 644.2 L513.5 646.0 L513.8 650.6 L514.0 652.6 L514.2 649.9 L514.5 651.4 L514.8 651.7 L515.0 653.1 L515.2 651.0 L515.5 651.2 L515.8 656.0 L516.0 652.0 L516.2 655.1 L516.5 656.9 L516.8 656.6 L517.0 661.2 L517.2 660.1 L517.5 662.0 L517.8 660.2 L518.0 661.8 L518.2 666.3 L518.5 666.7 L518.8 665.2 L519.0 668.5 L519.2 668.8 L519.3 668.9 L519.5 673.6 L519.8 668.3 L520.0 671.3 L520.2 671.9 L520.5 670.5 L520.8 668.4 L521.0 674.5 L521.2 673.8 L521.5 673.7 L521.8 674.2 L522.0 674.8 L522.2 672.7 L522.5 676.8 L522.8 671.2 L523.0 677.0 L523.2 673.2 L523.5 677.2 L523.8 680.9 L524.0 678.6 L524.2 678.6 L524.5 682.1 L524.8 680.4 L525.0 680.5 L525.2 681.2 L525.5 687.4 L525.8 685.5 L526.0 685.5 L526.2 681.2 L526.5 687.1 L526.8 682.0 L527.0 687.9 L527.2 683.7 L527.5 693.4 L527.8 683.2 L528.0 692.4 L528.2 691.7 L528.5 684.7 L528.8 689.8 L529.0 695.4 L529.2 695.1 L529.5 687.4 L529.8 691.3 L530.0 690.0 L530.2 691.0 L530.5 692.7 L530.8 700.7 L531.0 696.2 L531.2 695.7 L531.5 696.0 L531.8 699.6 L532.0 700.2 L532.2 696.0 L532.5 703.7 L532.8 696.7 L533.0 699.7 L533.2 702.4 L533.5 706.8 L533.8 701.3 L534.0 703.7 L534.2 707.3 L534.5 705.9 L534.8 708.0 L535.0 708.3 L535.2 706.6 L535.5 708.3 L535.8 709.7 L536.0 707.5 L536.2 712.9 L536.5 702.9 L536.8 706.6 L537.0 714.2 L537.2 711.8 L537.5 709.2 L537.8 712.8 L538.0 715.5 L538.2 711.2 L538.5 715.8 L538.8 713.7 L539.0 714.3 L539.2 715.0 L539.5 719.1 L539.7 713.0 L539.8 715.3 L540.0 718.9 L540.2 713.9 L540.5 713.4 L540.8 720.4 L541.0 719.2 L541.2 719.3 L541.5 720.8 L541.8 718.0 L542.0 728.8 L542.2 719.1 L542.5 721.3 L542.6 718.7 L542.8 720.1 L543.0 722.3 L543.2 715.7 L543.5 714.4 L543.8 708.9 L544.0 711.9 L544.2 705.0 L544.5 698.6 L544.8 701.0 L545.0 695.3 L545.2 695.0 L545.4 692.2 L545.5 693.9 L545.8 697.3 L546.0 698.4 L546.2 700.7 L546.5 710.3 L546.8 711.3 L547.0 715.9 L547.2 717.8 L547.5 717.7 L547.8 723.1 L548.0 733.4 L548.2 729.0 L548.5 731.4 L548.8 729.7 L549.0 733.7 L549.2 735.4 L549.5 737.2 L549.8 738.6 L550.0 738.0 L550.2 739.2 L550.5 741.8 L550.8 743.8 L551.0 743.5 L551.2 749.9 L551.5 746.5 L551.8 747.4 L552.0 746.1 L552.2 752.0 L552.5 747.1 L552.8 746.4 L553.0 749.3 L553.2 754.9 L553.5 750.8 L553.8 758.8 L554.0 756.1 L554.2 752.8 L554.5 757.5 L554.8 764.3 L555.0 757.8 L555.2 757.5 L555.5 763.7 L555.8 767.0 L556.0 767.3 L556.2 763.6 L556.5 765.5 L556.8 766.2 L557.0 769.1 L557.2 772.3 L557.5 765.8 L557.8 770.4 L558.0 765.7 L558.2 768.9 L558.5 764.6 L558.8 765.4 L559.0 769.3 L559.2 765.6 L559.5 771.3 L559.8 767.3 L560.0 769.5 L560.2 769.3 L560.5 768.9 L560.8 770.6 L561.0 773.8 L561.2 778.3 L561.5 767.6 L561.8 772.4 L562.0 771.3 L562.2 769.3 L562.5 773.3 L562.8 770.1 L562.8 772.5 L563.0 776.6 L563.2 766.5 L563.5 773.4 L563.8 774.0 L564.0 769.6 L564.2 774.2 L564.5 773.6 L564.8 771.4 L565.0 776.2 L565.2 768.3 L565.5 774.3 L565.8 771.6 L566.0 769.0 L566.2 771.7 L566.5 771.1 L566.8 774.7 L567.0 767.5 L567.2 771.5 L567.5 770.6 L567.8 776.8 L568.0 768.5 L568.2 775.2 L568.5 766.4 L568.8 772.9 L569.0 771.4 L569.2 772.6 L569.5 769.0 L569.8 764.9 L570.0 765.8 L570.2 774.1 L570.5 770.4 L570.8 766.8 L571.0 771.8 L571.2 766.5 L571.5 766.2 L571.8 764.5 L572.0 771.4 L572.2 773.4 L572.5 764.2 L572.8 767.7 L573.0 769.4 L573.2 772.5 L573.5 758.8 L573.8 765.9 L574.0 767.1 L574.2 760.3 L574.5 765.7 L574.7 764.8 L574.8 766.2 L575.0 761.7 L575.2 763.9 L575.5 760.3 L575.8 763.1 L576.0 761.1 L576.2 758.9 L576.5 755.1 L576.8 763.4 L577.0 761.2 L577.2 759.8 L577.5 754.6 L577.8 754.8 L578.0 760.1 L578.2 756.7 L578.5 751.3 L578.8 753.3 L579.0 752.9 L579.2 751.2 L579.5 748.3 L579.8 754.1 L580.0 751.4 L580.2 748.4 L580.5 743.7 L580.8 745.9 L581.0 747.0 L581.2 748.8 L581.5 744.5 L581.6 748.4 L581.8 744.2 L582.0 739.3 L582.2 732.6 L582.5 732.9 L582.8 729.4 L583.0 730.2 L583.2 728.8 L583.5 728.9 L583.8 722.7 L584.0 717.1 L584.2 723.5 L584.5 715.6 L584.8 709.5 L585.0 704.7 L585.2 697.5 L585.5 697.3 L585.8 691.9 L586.0 689.9 L586.2 684.1 L586.5 678.8 L586.8 674.9 L587.0 666.7 L587.2 661.6 L587.5 657.7 L587.8 658.0 L588.0 663.9 L588.2 666.6 L588.5 672.3 L588.8 673.8 L589.0 672.3 L589.2 680.3 L589.5 686.9 L589.8 682.1 L590.0 687.9 L590.2 692.3 L590.5 691.2 L590.8 695.6 L591.0 699.6 L591.2 698.4 L591.5 705.0 L591.8 707.7 L592.0 705.7 L592.2 711.5 L592.3 714.7 L592.5 712.1 L592.8 714.8 L593.0 716.3 L593.2 714.6 L593.5 719.1 L593.8 718.3 L594.0 715.2 L594.2 720.5 L594.5 722.3 L594.8 723.6 L595.0 721.0 L595.2 725.6 L595.5 729.6 L595.8 727.9 L596.0 732.0 L596.2 733.8 L596.5 731.5 L596.8 735.0 L596.8 732.6 L597.0 734.5 L597.2 729.3 L597.5 725.9 L597.8 725.2 L598.0 722.9 L598.2 722.0 L598.5 720.0 L598.6 714.5 L598.8 716.7 L599.0 720.7 L599.2 722.2 L599.5 722.2 L599.8 729.9 L600.0 727.4 L600.2 725.1 L600.4 728.2 L600.5 729.2 L600.8 725.2 L601.0 718.0 L601.2 722.0 L601.5 720.6 L601.8 725.2 L602.0 712.8 L602.2 721.1 L602.4 715.5 L602.5 719.0 L602.8 716.0 L603.0 717.9 L603.2 721.4 L603.5 718.9 L603.8 722.3 L604.0 719.6 L604.2 719.2 L604.3 719.9 L604.5 718.6 L604.8 719.3 L605.0 723.2 L605.2 715.1 L605.5 713.2 L605.8 717.6 L606.0 722.2 L606.2 719.8 L606.5 720.1 L606.8 719.4 L606.8 713.3 L607.0 716.2 L607.2 709.0 L607.5 714.8 L607.8 718.9 L608.0 712.8 L608.2 711.7 L608.5 714.4 L608.8 719.3 L609.0 722.4 L609.2 727.1 L609.5 726.0 L609.8 719.4 L610.0 718.7 L610.2 727.0 L610.5 731.0 L610.8 725.1 L611.0 729.6 L611.2 731.0 L611.5 733.5 L611.8 734.0 L612.0 737.2 L612.2 739.8 L612.5 738.2 L612.8 741.3 L613.0 745.9 L613.2 738.5 L613.5 739.6 L613.8 745.2 L614.0 750.1 L614.2 746.3 L614.2 749.1 L614.5 745.8 L614.8 750.1 L615.0 746.4 L615.2 751.0 L615.5 750.9 L615.8 751.7 L616.0 755.3 L616.2 755.2 L616.5 751.0 L616.8 756.1 L617.0 749.4 L617.2 758.0 L617.5 762.6 L617.8 758.2 L618.0 758.9 L618.2 758.3 L618.5 761.3 L618.8 758.3 L619.0 762.4 L619.2 760.4 L619.5 760.7 L619.8 763.1 L620.0 763.3 L620.2 759.2 L620.5 771.1 L620.8 766.2 L621.0 761.6 L621.2 770.4 L621.5 768.0 L621.8 769.4 L622.0 771.6 L622.2 767.7 L622.5 763.7 L622.7 771.4 L622.8 772.5 L623.0 775.4 L623.2 770.9 L623.5 773.0 L623.8 775.6 L624.0 774.1 L624.2 775.0 L624.5 777.1 L624.8 774.0 L625.0 782.3 L625.2 775.6 L625.5 779.0 L625.8 778.6 L626.0 778.1 L626.2 782.4 L626.5 784.5 L626.8 786.5 L627.0 784.5 L627.2 782.1 L627.5 786.6 L627.8 780.5 L628.0 785.5 L628.2 787.6 L628.5 788.4 L628.8 783.9 L629.0 783.6 L629.2 793.5 L629.5 787.8 L629.8 785.1 L630.0 786.9 L630.2 791.2 L630.5 795.3 L630.8 792.5 L631.0 796.7 L631.2 794.4 L631.3 795.3 L631.5 797.2 L631.8 793.5 L632.0 795.9 L632.2 794.3 L632.5 794.0 L632.8 798.2 L633.0 794.2 L633.2 797.3 L633.5 795.1 L633.8 797.6 L634.0 796.7 L634.2 802.0 L634.5 799.4 L634.8 799.8 L635.0 804.9 L635.2 792.9 L635.5 797.4 L635.8 793.8 L636.0 801.5 L636.2 803.3 L636.5 804.3 L636.8 803.6 L637.0 800.6 L637.2 808.9 L637.5 804.9 L637.8 803.6 L638.0 801.5 L638.2 806.5 L638.5 804.2 L638.8 804.7 L639.0 807.1 L639.2 807.5 L639.5 804.8 L639.8 811.4 L640.0 805.1 L640.2 805.1 L640.5 809.7 L640.8 809.5 L641.0 809.6 L641.2 808.5 L641.5 810.2 L641.8 808.7 L642.0 805.8 L642.2 813.3 L642.5 808.4 L642.8 811.1 L643.0 814.3 L643.2 812.5 L643.5 820.0 L643.8 808.9 L644.0 811.2 L644.2 814.0 L644.5 818.2 L644.8 813.7 L645.0 810.5 L645.2 818.6 L645.5 812.7 L645.8 815.2 L646.0 818.8 L646.2 814.4 L646.5 815.4 L646.8 818.6 L647.0 816.8 L647.2 818.7 L647.5 815.3 L647.8 818.1 L648.0 815.5 L648.2 814.4 L648.4 824.7 L648.5 820.8 L648.8 822.4 L649.0 816.8 L649.2 819.9 L649.5 819.5 L649.8 816.0 L650.0 822.2 L650.2 818.5 L650.5 820.3 L650.8 816.4 L651.0 824.3 L651.2 823.8 L651.5 822.8 L651.8 819.0 L652.0 820.4 L652.2 825.9 L652.5 821.5 L652.8 823.4 L653.0 823.2 L653.2 819.5 L653.5 827.8 L653.8 817.3 L654.0 824.2 L654.2 823.4 L654.5 818.9 L654.8 825.1 L655.0 825.9 L655.2 824.6 L655.5 822.1 L655.8 826.2 L656.0 828.4 L656.2 825.9 L656.5 830.7 L656.8 828.2 L657.0 828.1 L657.2 830.2 L657.5 824.1 L657.8 824.7 L658.0 828.1 L658.2 828.3 L658.5 831.5 L658.8 830.6 L659.0 827.8 L659.2 828.1 L659.5 826.8 L659.8 826.7 L660.0 826.6 L660.2 830.9 L660.5 826.8 L660.8 827.3 L661.0 829.0 L661.2 827.1 L661.5 828.1 L661.8 822.2 L662.0 830.2 L662.2 828.2 L662.5 829.9 L662.8 830.5 L663.0 823.8 L663.2 836.9 L663.5 830.3 L663.8 830.5 L664.0 824.6 L664.2 832.1 L664.5 831.6 L664.8 829.4 L665.0 831.4 L665.2 834.8 L665.5 829.9 L665.8 828.3 L666.0 835.3 L666.2 832.2 L666.5 831.0 L666.8 838.6 L667.0 832.3 L667.2 831.4 L667.5 832.8 L667.8 830.9 L668.0 832.9 L668.2 832.8 L668.5 830.5 L668.8 831.8 L669.0 833.7 L669.2 834.0 L669.5 834.7 L669.8 835.5 L670.0 833.9 L670.2 834.9 L670.5 832.2 L670.8 832.7 L671.0 836.8 L671.2 827.7 L671.5 835.0 L671.8 841.0 L672.0 828.4 L672.2 838.8 L672.5 828.9 L672.8 835.5 L673.0 839.5 L673.2 839.1 L673.5 831.9 L673.8 830.8 L674.0 830.5 L674.1 837.1 L674.2 833.7 L674.5 835.0 L674.8 835.8 L675.0 836.3 L675.2 836.7 L675.5 835.4 L675.8 830.1 L676.0 839.6 L676.2 827.5 L676.5 838.9 L676.8 833.3 L677.0 834.6 L677.2 833.6 L677.5 834.1 L677.8 835.2 L678.0 834.4 L678.2 831.9 L678.5 837.9 L678.8 833.6 L679.0 839.5 L679.2 834.9 L679.5 833.2 L679.8 836.8 L680.0 838.2 L680.2 832.7 L680.5 834.7 L680.8 840.0 L681.0 832.5 L681.2 833.0 L681.5 836.2 L681.8 831.9 L682.0 828.2 L682.2 830.6 L682.5 836.9 L682.8 837.8 L683.0 837.7 L683.2 837.1 L683.5 832.1 L683.8 838.0 L684.0 839.5 L684.2 833.8 L684.5 838.9 L684.8 834.9 L685.0 836.6 L685.2 837.2 L685.5 831.5 L685.8 840.7 L686.0 833.5 L686.2 835.9 L686.5 834.7 L686.8 837.7 L687.0 837.6 L687.2 836.4 L687.5 840.7 L687.8 837.2 L688.0 835.2 L688.2 828.9 L688.5 835.6 L688.8 835.6 L689.0 833.8 L689.2 833.9 L689.5 838.4 L689.8 839.8 L690.0 842.5 L690.2 840.2 L690.5 834.5 L690.8 837.5 L691.0 832.6 L691.2 839.1 L691.5 838.0 L691.8 835.0 L692.0 836.6 L692.2 836.2 L692.5 835.1 L692.8 841.1 L693.0 844.4 L693.2 839.7 L693.5 840.5 L693.8 837.7 L694.0 836.2 L694.2 844.1 L694.5 836.2 L694.8 838.6 L695.0 837.1 L695.2 839.3 L695.5 837.4 L695.8 839.4 L696.0 833.7 L696.2 837.3 L696.5 841.9 L696.8 834.5 L697.0 835.7 L697.2 842.0 L697.5 839.1 L697.8 841.2 L698.0 831.0 L698.2 838.4 L698.5 834.0 L698.8 833.7 L699.0 839.3 L699.2 841.8 L699.5 833.5 L699.8 834.8 L700.0 836.4 L700.2 837.9 L700.5 834.2 L700.8 845.3 L701.0 840.2 L701.2 837.3 L701.5 836.8 L701.8 845.7 L702.0 845.5 L702.2 837.1 L702.5 839.7 L702.8 842.5 L703.0 835.0 L703.2 836.9 L703.5 842.9 L703.8 836.6 L704.0 837.5 L704.2 834.7 L704.5 836.6 L704.8 841.1 L705.0 836.4 L705.2 835.0 L705.5 837.1 L705.8 844.6 L706.0 839.7 L706.2 837.4 L706.5 839.7 L706.8 840.6 L707.0 839.7 L707.2 833.7 L707.5 840.3 L707.8 838.7 L708.0 842.0 L708.2 835.3 L708.5 842.8 L708.8 838.0 L709.0 834.3 L709.2 843.7 L709.5 838.0 L709.8 840.8 L710.0 839.2 L710.2 843.2 L710.5 843.2 L710.8 843.3 L711.0 842.1 L711.2 834.9 L711.5 834.7 L711.8 840.6 L712.0 837.0 L712.2 841.5 L712.5 840.6 L712.8 835.7 L713.0 836.9 L713.2 836.6 L713.5 837.4 L713.8 839.6 L714.0 842.4 L714.2 844.4 L714.5 837.3 L714.8 838.6 L715.0 845.2 L715.2 843.2 L715.5 841.2 L715.8 833.1 L716.0 837.4 L716.2 841.0 L716.5 838.7 L716.8 846.8 L717.0 840.9 L717.2 841.5 L717.5 837.3 L717.8 837.5 L718.0 838.7 L718.2 838.8 L718.5 840.1 L718.8 842.0 L719.0 841.6 L719.2 844.1 L719.5 836.7 L719.8 841.6 L720.0 841.8 L720.2 846.0 L720.5 840.4 L720.8 842.1 L721.0 838.6 L721.2 842.5 L721.5 842.5 L721.8 839.3 L722.0 839.9 L722.2 841.2 L722.5 843.2 L722.8 837.8 L723.0 844.2 L723.2 840.4 L723.5 847.4 L723.8 846.1 L724.0 840.3 L724.2 839.6 L724.5 849.1 L724.8 843.6 L725.0 843.5 L725.2 840.4 L725.5 841.4 L725.8 844.3 L726.0 843.7 L726.2 839.3 L726.5 845.8 L726.8 842.9 L727.0 839.0 L727.2 845.1 L727.5 841.5 L727.8 844.5 L728.0 840.4 L728.2 843.3 L728.5 837.1 L728.8 843.4 L729.0 837.5 L729.2 842.8 L729.5 834.9 L729.8 842.1 L730.0 844.6 L730.2 843.9 L730.5 846.2 L730.8 839.1 L731.0 847.4 L731.2 847.5 L731.5 838.8 L731.8 840.1 L732.0 840.8 L732.2 842.6 L732.5 843.3 L732.8 835.3 L733.0 844.6 L733.2 842.0 L733.5 839.6 L733.8 845.8 L734.0 841.8 L734.2 846.5 L734.5 844.6 L734.8 842.0 L735.0 846.7 L735.2 845.6 L735.5 841.5 L735.8 838.1 L736.0 841.4 L736.2 845.1 L736.5 842.5 L736.8 848.8 L737.0 844.1 L737.2 843.9 L737.5 844.6 L737.8 840.6 L738.0 843.0 L738.2 841.4 L738.5 836.2 L738.8 838.0 L739.0 845.9 L739.2 842.2 L739.5 843.2 L739.8 839.0 L740.0 841.8 L740.2 846.1 L740.5 844.0 L740.8 842.0 L741.0 848.4 L741.2 843.4 L741.5 842.5 L741.8 847.1 L742.0 838.1 L742.2 845.3 L742.5 840.0 L742.8 841.0 L743.0 841.3 L743.2 843.9 L743.5 843.8 L743.8 844.4 L744.0 844.1 L744.2 847.8 L744.5 848.7 L744.8 845.6 L745.0 845.7 L745.2 842.2 L745.5 839.9 L745.8 845.1 L746.0 843.4 L746.2 845.9 L746.5 837.6 L746.8 850.7 L747.0 839.3 L747.2 843.3 L747.5 846.3 L747.8 838.9 L748.0 841.4 L748.2 836.8 L748.5 838.7 L748.8 837.1 L749.0 843.4 L749.2 844.0 L749.5 842.1 L749.8 847.0 L750.0 847.4 L750.2 843.0 L750.5 842.3 L750.8 842.1 L751.0 841.5 L751.2 847.0 L751.5 843.7 L751.8 841.9 L752.0 842.2 L752.2 844.6 L752.5 841.6 L752.8 843.8 L753.0 842.7 L753.2 847.0 L753.5 846.4 L753.8 838.4 L754.0 842.3 L754.2 845.0 L754.5 841.3 L754.8 845.2 L755.0 843.8 L755.2 844.5 L755.5 842.5 L755.8 843.6 L756.0 844.3 L756.2 838.0 L756.5 839.8 L756.8 839.4 L757.0 847.8 L757.2 843.5 L757.5 843.7 L757.8 843.1 L758.0 840.9 L758.2 840.2 L758.5 845.1 L758.8 841.3 L759.0 847.4 L759.2 843.0 L759.5 842.7 L759.8 841.7 L760.0 842.1 L760.2 842.5 L760.5 847.1 L760.8 849.6 L761.0 838.7 L761.2 843.1 L761.5 844.5 L761.8 839.5 L762.0 840.3 L762.2 840.8 L762.5 834.8 L762.8 844.2 L763.0 842.0 L763.2 841.9 L763.5 842.4 L763.8 842.9 L764.0 849.3 L764.2 842.7 L764.5 844.7 L764.8 840.5 L765.0 843.2 L765.2 841.1 L765.5 841.6 L765.8 839.2 L766.0 839.5 L766.2 843.4 L766.5 844.3 L766.8 843.4 L767.0 839.8 L767.2 842.9 L767.5 834.4 L767.8 844.8 L768.0 841.8 L768.2 842.7 L768.5 845.5 L768.8 840.5 L769.0 844.8 L769.2 840.4 L769.5 843.5 L769.8 840.5 L770.0 842.7 L770.2 846.2 L770.5 839.7 L770.8 839.8 L771.0 840.7 L771.2 842.6 L771.5 849.0 L771.8 839.9 L772.0 835.3 L772.2 839.6 L772.5 836.7 L772.8 839.9 L773.0 841.6 L773.2 838.6 L773.5 839.4 L773.8 835.7 L774.0 842.1 L774.2 839.2 L774.5 844.9 L774.8 844.7 L775.0 838.8 L775.2 840.3 L775.5 841.6 L775.8 843.8 L776.0 836.2 L776.2 841.2 L776.5 847.2 L776.8 841.1 L777.0 842.0 L777.2 841.3 L777.5 837.6 L777.8 844.3 L778.0 842.1 L778.2 841.8 L778.5 843.5 L778.8 843.7 L779.0 835.3 L779.2 842.7 L779.5 839.4 L779.8 841.7 L780.0 839.0 L780.2 838.5 L780.5 844.1 L780.8 841.1 L781.0 840.2 L781.2 840.2 L781.5 841.3 L781.8 841.0 L782.0 833.7 L782.2 838.3 L782.5 840.3 L782.8 843.3 L783.0 845.2 L783.2 838.1 L783.5 847.0 L783.8 841.3 L784.0 842.5 L784.2 839.3 L784.5 839.1 L784.8 845.4 L785.0 840.2 L785.2 840.6 L785.5 844.5 L785.8 846.2 L786.0 836.2 L786.2 840.3 L786.5 840.8 L786.8 846.5 L787.0 848.0 L787.2 840.7 L787.5 842.0 L787.8 843.5 L788.0 844.3 L788.2 839.8 L788.5 843.4 L788.8 838.6 L789.0 833.0 L789.2 836.4 L789.5 841.4 L789.8 843.1 L790.0 833.7 L790.2 835.1 L790.5 840.6 L790.8 832.9 L791.0 842.4 L791.2 843.8 L791.5 832.8 L791.8 843.0 L792.0 840.0 L792.2 845.0 L792.5 841.4 L792.8 839.8 L793.0 840.9 L793.2 843.5 L793.5 841.1 L793.8 840.6 L794.0 836.0 L794.2 842.0 L794.5 840.6 L794.8 846.2 L795.0 840.4 L795.2 840.2 L795.5 838.5 L795.8 842.7 L796.0 839.8 L796.2 838.2 L796.5 845.3 L796.8 845.9 L797.0 838.9 L797.2 837.1 L797.5 843.8 L797.8 837.7 L798.0 847.3 L798.2 839.8 L798.5 843.2 L798.8 836.2 L799.0 840.1 L799.2 843.6 L799.5 841.6 L799.8 838.5 L800.0 847.1 L800.2 842.5 L800.5 839.5 L800.8 838.4 L801.0 839.5 L801.2 844.5 L801.5 838.0 L801.8 840.5 L802.0 837.9 L802.2 844.4 L802.5 840.0 L802.8 843.2 L803.0 842.3 L803.2 838.8 L803.5 842.8 L803.8 843.6 L804.0 837.1 L804.2 842.9 L804.5 847.7 L804.8 839.9 L805.0 842.8 L805.2 836.7 L805.5 842.3 L805.8 839.1 L806.0 843.4 L806.2 840.9 L806.5 837.4 L806.8 844.5 L807.0 840.4 L807.2 838.0 L807.5 841.4 L807.8 838.2 L808.0 842.5 L808.2 841.1 L808.5 840.2 L808.8 843.4 L809.0 837.4 L809.2 844.4 L809.5 835.2 L809.8 846.5 L810.0 842.1 L810.2 840.7 L810.5 839.3 L810.8 843.3 L811.0 841.2 L811.2 841.1 L811.5 844.9 L811.8 840.4 L812.0 841.0 L812.2 843.2 L812.5 845.2 L812.8 841.4 L813.0 842.4 L813.2 842.1 L813.5 844.3 L813.8 846.7 L814.0 839.1 L814.2 841.7 L814.5 842.0 L814.8 844.0 L815.0 846.9 L815.2 842.2 L815.5 842.9 L815.8 845.8 L816.0 838.4 L816.2 839.9 L816.5 841.0 L816.8 842.4 L817.0 843.2 L817.2 840.9 L817.5 848.0 L817.8 840.3 L818.0 841.9 L818.2 846.0 L818.5 845.1 L818.8 842.6 L819.0 843.9 L819.2 845.3 L819.5 842.7 L819.8 844.8 L820.0 840.0 L820.2 843.1 L820.5 837.7 L820.8 840.1 L821.0 839.4 L821.2 846.9 L821.5 841.6 L821.8 844.0 L822.0 840.2 L822.2 842.5 L822.5 842.3 L822.8 840.5 L823.0 845.9 L823.2 838.0 L823.5 845.2 L823.8 850.3 L824.0 840.7 L824.2 843.4 L824.5 838.5 L824.8 843.3 L825.0 838.0 L825.2 845.4 L825.5 841.9 L825.8 837.7 L826.0 839.4 L826.2 838.5 L826.5 842.7 L826.8 846.3 L827.0 842.3 L827.2 839.9 L827.5 841.0 L827.8 844.0 L828.0 836.0 L828.2 845.6 L828.5 845.0 L828.8 836.1 L829.0 847.5 L829.2 838.6 L829.5 843.1 L829.8 847.6 L830.0 838.7 L830.2 838.1 L830.5 840.4 L830.8 840.6 L831.0 843.6 L831.2 842.4 L831.5 842.5 L831.8 842.6 L832.0 843.6 L832.2 841.5 L832.5 845.3 L832.8 844.3 L833.0 841.1 L833.2 850.1 L833.5 840.4 L833.8 846.7 L834.0 842.1 L834.2 845.6 L834.5 846.2 L834.8 847.3 L835.0 849.1 L835.2 842.0 L835.5 852.0 L835.8 846.1 L836.0 842.3 L836.2 840.6 L836.5 852.2 L836.8 850.2 L837.0 845.0 L837.2 847.5 L837.5 849.3 L837.8 845.5 L838.0 843.9 L838.2 845.1 L838.5 847.9 L838.8 845.4 L839.0 841.5 L839.2 847.8 L839.5 840.0 L839.8 843.1 L840.0 849.4 L840.2 846.3 L840.5 846.4 L840.8 846.0 L841.0 849.0 L841.2 845.6 L841.5 839.6 L841.8 846.6 L842.0 838.2 L842.2 839.4 L842.5 850.9 L842.8 849.3 L843.0 844.5 L843.2 845.8 L843.5 846.4 L843.8 849.3 L844.0 843.7 L844.2 843.4 L844.5 844.3 L844.8 846.7 L845.0 847.2 L845.2 845.1 L845.5 848.8 L845.8 843.2 L846.0 846.2 L846.2 844.3 L846.5 843.4 L846.8 850.5 L847.0 845.6 L847.2 843.5 L847.5 846.8 L847.8 843.6 L848.0 848.7 L848.2 849.5 L848.5 850.1 L848.8 843.6 L849.0 846.5 L849.2 852.8 L849.5 846.4 L849.8 851.1 L850.0 851.9 L850.2 842.8 L850.5 851.0 L850.8 849.6 L851.0 850.1 L851.2 852.7 L851.5 848.8 L851.8 847.7 L852.0 849.4 L852.2 846.4 L852.5 849.1 L852.8 841.2 L853.0 853.1 L853.2 846.0 L853.5 849.4 L853.8 848.7 L854.0 848.1 L854.2 848.2 L854.5 848.1 L854.8 842.7 L855.0 846.2 L855.2 851.6 L855.5 844.6 L855.8 844.4 L856.0 854.4 L856.2 851.4 L856.5 852.5 L856.8 847.5 L857.0 848.3 L857.2 849.8 L857.5 849.1 L857.8 847.0 L858.0 842.6 L858.2 844.8 L858.5 842.3 L858.8 851.9 L859.0 845.7 L859.2 846.3 L859.5 847.7 L859.8 846.8 L860.0 848.3 L860.2 844.6 L860.5 841.7 L860.8 852.0 L861.0 844.1 L861.2 844.8 L861.5 843.8 L861.8 844.5 L862.0 846.2 L862.2 848.4 L862.5 842.7 L862.8 846.8 L863.0 843.7 L863.2 849.6 L863.5 841.9 L863.8 846.0 L864.0 847.8 L864.2 841.3 L864.5 845.8 L864.8 845.9 L865.0 842.8 L865.2 844.6 L865.5 848.3 L865.8 845.9 L866.0 843.8 L866.2 844.2 L866.5 845.9 L866.8 848.2 L867.0 846.4 L867.2 846.0 L867.5 848.3 L867.8 838.4 L868.0 838.5 L868.2 835.7 L868.5 844.9 L868.8 835.1 L869.0 841.7 L869.2 843.9 L869.5 837.0 L869.8 839.0 L870.0 839.9 L870.2 842.7 L870.5 835.5 L870.8 840.9 L871.0 841.8 L871.2 839.8 L871.5 839.6 L871.8 842.7 L872.0 839.2 L872.2 838.2 L872.5 837.0 L872.8 840.3 L873.0 837.8 L873.2 840.9 L873.5 839.6 L873.8 843.0 L874.0 837.5 L874.2 840.4 L874.5 841.5 L874.8 842.0 L875.0 844.5 L875.2 842.6 L875.5 844.5 L875.8 848.0 L876.0 844.9 L876.2 839.4 L876.5 838.6 L876.8 845.3 L877.0 842.4 L877.2 844.7 L877.5 843.6 L877.8 848.4 L878.0 848.4 L878.2 841.7 L878.5 846.2 L878.8 844.8 L879.0 842.0 L879.2 848.2 L879.5 845.9 L879.8 847.9 L880.0 854.0 L880.2 850.9 L880.5 850.4 L880.8 845.9 L881.0 843.7 L881.2 851.4 L881.5 846.8 L881.8 847.9 L882.0 846.6 L882.2 848.1 L882.5 855.2 L882.8 846.8 L883.0 846.9 L883.2 848.5 L883.5 848.7 L883.8 844.1 L884.0 842.4 L884.2 846.1 L884.5 847.2 L884.8 845.5 L885.0 844.8 L885.2 845.0 L885.5 846.7 L885.8 847.6 L886.0 842.9 L886.2 846.3 L886.5 849.1 L886.8 847.6 L887.0 843.8 L887.2 846.9 L887.5 848.0 L887.8 850.4 L888.0 843.0 L888.2 850.2 L888.5 846.7 L888.8 848.7 L889.0 850.2 L889.2 845.4 L889.5 845.7 L889.8 847.8 L890.0 850.4 L890.2 846.5 L890.5 843.8 L890.8 846.1 L891.0 849.4 L891.2 851.8 L891.5 846.7 L891.8 847.3 L892.0 847.7 L892.2 847.9 L892.5 845.4 L892.8 847.0 L893.0 849.0 L893.2 848.7 L893.5 848.4 L893.8 845.3 L894.0 846.7 L894.2 846.2 L894.5 851.7 L894.8 852.9 L895.0 849.5 L895.2 853.4 L895.5 847.6 L895.8 847.6 L896.0 844.6 L896.2 849.3 L896.5 847.2 L896.8 848.9 L897.0 850.1 L897.2 847.9 L897.5 845.2 L897.8 848.5 L898.0 848.5 L898.2 848.8 L898.5 850.8 L898.8 848.1 L899.0 848.0 L899.2 854.1 L899.5 852.1 L899.8 848.6 L900.0 846.0 L900.2 847.5 L900.5 850.1 L900.8 851.5 L901.0 856.3 L901.2 848.2 L901.5 849.5 L901.8 847.9 L902.0 849.3 L902.2 847.9 L902.5 845.8 L902.8 852.2 L903.0 849.5 L903.2 853.1 L903.5 847.6 L903.8 850.0 L904.0 851.2 L904.2 843.5 L904.5 845.2 L904.8 851.6 L905.0 849.6 L905.2 843.7 L905.5 847.1 L905.8 846.1 L906.0 847.9 L906.2 854.1 L906.5 847.7 L906.8 855.6 L907.0 848.7 L907.2 847.2 L907.5 854.3 L907.8 852.4 L908.0 853.8 L908.2 855.5 L908.5 852.8 L908.8 853.3 L909.0 844.4 L909.2 847.1 L909.5 851.0 L909.8 850.3 L910.0 851.9 L910.2 848.3 L910.5 853.2 L910.8 856.0 L911.0 851.6 L911.2 852.3 L911.5 851.2 L911.8 852.4 L912.0 850.2 L912.2 847.9 L912.5 850.0 L912.8 849.7 L913.0 844.6 L913.2 849.9 L913.5 849.2 L913.8 849.7 L914.0 847.3 L914.2 850.4 L914.5 850.7 L914.8 846.6 L915.0 849.7 L915.2 851.0 L915.5 850.8 L915.8 845.7 L916.0 845.3 L916.2 848.4 L916.5 845.1 L916.8 855.5 L917.0 845.6 L917.2 845.6 L917.5 849.9 L917.8 846.4 L918.0 840.6 L918.2 847.2 L918.5 844.6 L918.8 845.9 L919.0 842.5 L919.2 844.6 L919.5 846.7 L919.8 846.9 L920.0 843.7 L920.2 844.8 L920.5 844.3 L920.8 847.2 L921.0 846.3 L921.2 842.8 L921.5 848.5 L921.8 844.4 L922.0 847.6 L922.2 843.5 L922.5 847.2 L922.8 845.8 L923.0 846.3 L923.2 847.6 L923.5 847.3 L923.8 846.4 L924.0 846.3 L924.2 841.9 L924.5 845.5 L924.8 838.9 L925.0 838.7 L925.2 844.5 L925.5 844.7 L925.8 849.9 L926.0 847.3 L926.2 848.5 L926.5 844.2 L926.8 846.4 L927.0 848.5 L927.2 846.5 L927.5 845.9 L927.8 845.1 L928.0 841.9 L928.2 841.9 L928.5 840.2 L928.8 845.7 L929.0 843.6 L929.2 842.3 L929.5 845.4 L929.8 842.5 L930.0 847.4 L930.2 849.9 L930.5 845.4 L930.8 841.9 L931.0 839.4 L931.2 850.0 L931.5 845.1 L931.8 840.1 L932.0 846.9 L932.2 838.5 L932.5 842.1 L932.8 842.7 L933.0 842.2 L933.2 839.8 L933.5 850.5 L933.8 841.9 L934.0 844.2 L934.2 843.1 L934.5 838.0 L934.8 841.2 L935.0 843.4 L935.2 845.6 L935.5 841.6 L935.8 843.7 L936.0 841.5 L936.2 844.2 L936.5 835.0 L936.8 844.1 L937.0 840.3 L937.2 840.4 L937.5 834.7 L937.8 838.8 L938.0 843.8 L938.2 848.9 L938.5 839.7 L938.8 839.7 L939.0 843.2 L939.2 842.5 L939.5 839.8 L939.8 841.0 L940.0 840.3 L940.2 843.3 L940.5 843.8 L940.8 846.7 L941.0 844.1 L941.2 843.3 L941.5 841.7 L941.8 844.0 L942.0 838.1 L942.2 847.7 L942.5 841.8 L942.8 845.3 L943.0 838.4 L943.2 844.0 L943.5 842.0 L943.8 840.2 L944.0 838.6 L944.2 837.9 L944.5 846.1 L944.8 844.3 L945.0 840.9 L945.2 841.0 L945.5 838.2 L945.8 834.7 L946.0 834.8 L946.2 838.4 L946.5 839.7 L946.8 836.5 L947.0 842.6 L947.2 841.6 L947.5 840.5 L947.8 834.5 L948.0 839.2 L948.2 839.8 L948.5 835.9 L948.8 833.0 L949.0 845.6 L949.2 841.6 L949.5 838.4 L949.8 844.5 L950.0 842.9 L950.2 840.8 L950.5 840.1 L950.8 841.8 L951.0 843.8 L951.2 839.5 L951.5 838.5 L951.8 840.9 L952.0 831.7 L952.2 839.3 L952.5 837.7 L952.8 838.9 L953.0 838.3 L953.2 839.9 L953.5 839.1 L953.8 839.0 L954.0 838.3 L954.2 840.1 L954.5 837.0 L954.8 841.6 L955.0 833.3 L955.2 839.1 L955.5 839.8 L955.8 834.4 L956.0 837.0 L956.2 842.3 L956.5 837.8 L956.8 835.4 L957.0 830.7 L957.2 839.1 L957.5 838.3 L957.8 839.8 L958.0 844.2 L958.2 837.8 L958.5 838.2 L958.8 835.6 L959.0 837.5 L959.2 837.4 L959.5 839.5 L959.8 838.6 L960.0 834.4 L960.2 835.0 L960.5 840.4 L960.8 833.0 L961.0 838.0 L961.2 840.4 L961.5 837.2 L961.8 835.7 L962.0 838.9 L962.2 835.6 L962.5 834.2 L962.8 833.4 L963.0 837.2 L963.2 835.6 L963.5 837.9 L963.8 832.0 L964.0 831.8 L964.2 831.2 L964.5 833.1 L964.8 829.9 L965.0 834.6 L965.2 832.5 L965.5 828.3 L965.8 823.7 L966.0 825.2 L966.2 834.9 L966.5 830.1 L966.8 830.5 L967.0 828.5 L967.2 830.7 L967.5 823.4 L967.8 823.0 L968.0 823.8 L968.2 828.7 L968.5 830.4 L968.8 829.5 L969.0 827.4 L969.2 823.7 L969.5 829.8 L969.8 826.4 L970.0 827.0 L970.2 826.6 L970.5 825.2 L970.8 824.3 L971.0 824.5 L971.2 822.2 L971.5 826.7 L971.8 825.2 L972.0 828.6 L972.2 819.8 L972.5 828.7 L972.8 824.8 L973.0 824.3 L973.2 822.1 L973.5 821.9 L973.8 819.7 L974.0 826.8 L974.2 823.2 L974.5 825.9 L974.8 826.0 L975.0 821.8 L975.2 822.4 L975.5 821.9 L975.8 825.9 L976.0 822.9 L976.2 822.9 L976.5 824.4 L976.8 821.7 L977.0 828.0 L977.2 818.8 L977.5 825.2 L977.8 825.5 L978.0 817.6 L978.2 823.5 L978.5 821.5 L978.8 823.1 L979.0 816.6 L979.2 820.9 L979.5 816.9 L979.8 818.7 L980.0 823.9 L980.2 819.0 L980.5 812.3 L980.8 814.7 L981.0 815.3 L981.2 821.7 L981.5 816.3 L981.8 813.5 L982.0 821.5 L982.2 818.6 L982.5 818.7 L982.8 815.0 L983.0 821.7 L983.2 816.7 L983.5 810.9 L983.8 813.3 L984.0 814.0 L984.2 815.9 L984.5 818.5 L984.8 813.8 L985.0 814.0 L985.2 822.2 L985.5 815.4 L985.8 813.3 L986.0 814.7 L986.2 810.5 L986.5 815.6 L986.8 816.6 L987.0 811.6 L987.2 816.1 L987.5 811.9 L987.8 813.3 L988.0 809.9 L988.2 809.4 L988.5 807.0 L988.8 811.9 L989.0 810.0 L989.2 809.8 L989.5 806.9 L989.8 806.4 L990.0 807.8 L990.2 810.8 L990.5 810.0 L990.8 806.7 L991.0 809.3 L991.2 813.5 L991.5 808.2 L991.8 813.6 L992.0 808.5 L992.2 810.9 L992.5 805.0 L992.8 809.9 L993.0 802.4 L993.2 806.5 L993.5 804.6 L993.8 799.3 L994.0 801.0 L994.2 808.5 L994.5 806.3 L994.8 808.5 L995.0 805.0 L995.2 796.9 L995.5 804.8 L995.8 802.1 L996.0 802.1 L996.2 802.0 L996.5 800.9 L996.8 800.1 L997.0 806.6 L997.2 804.0 L997.5 800.4 L997.8 800.9 L998.0 805.0 L998.2 803.3 L998.5 802.9 L998.8 798.7 L999.0 801.3 L999.2 799.3 L999.5 797.1 L999.8 805.9 L1000.0 802.3 L1000.2 802.2 L1000.5 800.7 L1000.8 806.1 L1001.0 810.4 L1001.2 805.9 L1001.5 807.2 L1001.8 800.7 L1002.0 805.2 L1002.2 805.5 L1002.5 809.5 L1002.8 805.2 L1003.0 802.4 L1003.2 805.3 L1003.5 804.3 L1003.8 810.2 L1004.0 808.0 L1004.2 807.2 L1004.5 806.8 L1004.8 809.0 L1005.0 805.1 L1005.2 803.9 L1005.5 801.1 L1005.8 810.7 L1006.0 808.7 L1006.2 809.3 L1006.5 807.6 L1006.8 812.7 L1007.0 804.8 L1007.2 811.6 L1007.5 805.5 L1007.8 806.8 L1008.0 804.6 L1008.2 808.8 L1008.5 807.8 L1008.8 810.1 L1009.0 807.2 L1009.2 804.8 L1009.5 811.0 L1009.8 813.3 L1010.0 811.8 L1010.2 809.5 L1010.5 811.1 L1010.8 804.8 L1011.0 809.1 L1011.2 813.8 L1011.5 811.8 L1011.8 808.0 L1012.0 813.4 L1012.2 810.5 L1012.5 813.3 L1012.8 806.9 L1013.0 809.7 L1013.2 812.5 L1013.5 812.6 L1013.8 813.5 L1014.0 811.9 L1014.2 811.5 L1014.5 813.7 L1014.8 815.0 L1015.0 807.9 L1015.2 811.7 L1015.5 812.2 L1015.8 813.5 L1016.0 816.2 L1016.2 809.2 L1016.5 815.1 L1016.8 808.3 L1017.0 811.4 L1017.2 812.4 L1017.5 813.4 L1017.8 812.6 L1018.0 813.1 L1018.2 813.9 L1018.5 814.3 L1018.8 809.7 L1019.0 811.3 L1019.2 814.5 L1019.5 817.6 L1019.8 819.3 L1020.0 823.9 L1020.2 817.1 L1020.5 814.6 L1020.8 817.7 L1021.0 819.5 L1021.2 818.1 L1021.5 814.7 L1021.8 817.8 L1022.0 818.2 L1022.2 814.3 L1022.5 815.2 L1022.8 822.7 L1023.0 812.5 L1023.2 820.0 L1023.5 818.9 L1023.8 824.2 L1024.0 822.0 L1024.2 817.8 L1024.5 824.5 L1024.8 819.2 L1025.0 827.2 L1025.2 826.4 L1025.5 821.3 L1025.8 824.2 L1026.0 822.6 L1026.2 819.6 L1026.5 825.7 L1026.8 824.0 L1027.0 825.6 L1027.2 826.5 L1027.5 827.7 L1027.8 826.8 L1028.0 823.6 L1028.2 824.4 L1028.5 825.6 L1028.8 824.3 L1029.0 824.1 L1029.2 830.7 L1029.5 826.8 L1029.8 831.3 L1030.0 823.4 L1030.2 825.8 L1030.5 824.7 L1030.8 825.0 L1031.0 825.4 L1031.2 826.0 L1031.5 825.2 L1031.8 832.1 L1032.0 828.8 L1032.2 824.6 L1032.5 825.4 L1032.8 829.4 L1033.0 828.9 L1033.2 825.5 L1033.5 830.3 L1033.8 823.3 L1034.0 826.3 L1034.2 833.1 L1034.5 820.7 L1034.8 827.5 L1035.0 831.3 L1035.2 828.0 L1035.5 826.1 L1035.8 825.9 L1036.0 822.4 L1036.2 824.9 L1036.5 829.2 L1036.8 827.4 L1037.0 829.2 L1037.2 828.9 L1037.5 830.4 L1037.8 824.6 L1038.0 828.8 L1038.2 828.8 L1038.5 829.1 L1038.8 827.4 L1039.0 823.6 L1039.2 832.3 L1039.5 833.0 L1039.8 837.8 L1040.0 833.0 L1040.2 835.9 L1040.5 832.8 L1040.8 830.0 L1041.0 832.7 L1041.2 827.8 L1041.5 832.2 L1041.8 831.3 L1042.0 828.5 L1042.2 835.6 L1042.5 835.4 L1042.8 833.5 L1043.0 834.7 L1043.2 837.4 L1043.5 832.1 L1043.8 828.5 L1044.0 829.8 L1044.2 835.0 L1044.5 833.7 L1044.8 828.6 L1045.0 837.2 L1045.2 834.0 L1045.5 838.4 L1045.8 837.0 L1046.0 832.4 L1046.2 834.2 L1046.5 831.8 L1046.8 831.6 L1047.0 833.3 L1047.2 835.9 L1047.5 838.7 L1047.8 831.9 L1048.0 836.9 L1048.2 835.0 L1048.5 834.3 L1048.8 838.6 L1049.0 834.2 L1049.2 839.6 L1049.5 834.5 L1049.8 832.8 L1050.0 838.1 L1050.2 831.4 L1050.5 832.3 L1050.8 835.5 L1051.0 836.1 L1051.2 835.4 L1051.5 830.3 L1051.8 832.3 L1052.0 838.1 L1052.2 838.2 L1052.5 833.6 L1052.8 837.6 L1053.0 837.5 L1053.2 840.1 L1053.5 834.8 L1053.8 841.6 L1054.0 836.3 L1054.2 841.7 L1054.5 840.2 L1054.8 834.4 L1055.0 836.6 L1055.2 838.6 L1055.5 840.9 L1055.8 833.6 L1056.0 836.4 L1056.2 839.9 L1056.5 839.6 L1056.8 835.0 L1057.0 835.6 L1057.2 839.7 L1057.5 835.3 L1057.8 839.3 L1058.0 841.5 L1058.2 838.8 L1058.5 831.3 L1058.8 842.5 L1059.0 842.5 L1059.2 843.4 L1059.5 841.8 L1059.8 834.1 L1060.0 843.7 L1060.2 840.5 L1060.5 842.4 L1060.8 839.2 L1061.0 839.0 L1061.2 839.1 L1061.5 844.8 L1061.8 840.8 L1062.0 839.5 L1062.2 836.3 L1062.5 841.7 L1062.8 840.4 L1063.0 840.9 L1063.2 843.6 L1063.5 842.8 L1063.8 840.7 L1064.0 841.5 L1064.2 841.2 L1064.5 843.2 L1064.8 843.2 L1065.0 841.6 L1065.2 838.6 L1065.5 843.9 L1065.8 844.2 L1066.0 838.2 L1066.2 842.8 L1066.5 840.5 L1066.8 835.1 L1067.0 841.7 L1067.2 844.9 L1067.5 839.8 L1067.8 840.0 L1068.0 845.3 L1068.2 838.9 L1068.5 839.5 L1068.8 841.5 L1069.0 844.5 L1069.2 844.6 L1069.5 841.1 L1069.8 841.9 L1070.0 843.2 L1070.2 841.8 L1070.5 840.4 L1070.8 839.8 L1071.0 845.5 L1071.2 842.7 L1071.5 850.8 L1071.8 845.5 L1072.0 841.3 L1072.2 843.7 L1072.5 844.9 L1072.8 845.1 L1073.0 845.4 L1073.2 845.5 L1073.5 843.7 L1073.8 846.2 L1074.0 851.0 L1074.2 843.1 L1074.5 843.3 L1074.8 846.8 L1075.0 848.5 L1075.2 847.3 L1075.5 848.6 L1075.8 844.8 L1076.0 844.3 L1076.2 847.1 L1076.5 847.3 L1076.8 850.4 L1077.0 850.2 L1077.2 839.9 L1077.5 848.0 L1077.8 843.6 L1078.0 839.3 L1078.2 846.9 L1078.5 845.1 L1078.8 844.5 L1079.0 841.6 L1079.2 842.3 L1079.5 844.7 L1079.8 840.7 L1080.0 844.9 L1080.2 845.5 L1080.5 844.7 L1080.8 846.0 L1081.0 844.8 L1081.2 841.4 L1081.5 841.7 L1081.8 845.2 L1082.0 847.7 L1082.2 845.1 L1082.5 843.1 L1082.8 845.1 L1083.0 838.9 L1083.2 841.4 L1083.5 843.2 L1083.8 844.1 L1084.0 843.2 L1084.2 843.3 L1084.5 840.5 L1084.8 842.3 L1085.0 844.7 L1085.2 838.3 L1085.5 840.2 L1085.8 842.7 L1086.0 848.3 L1086.2 845.7 L1086.5 848.4 L1086.8 847.7 L1087.0 842.1 L1087.2 843.2 L1087.5 839.7 L1087.8 846.9 L1088.0 845.5 L1088.2 845.0 L1088.5 845.1 L1088.8 844.5 L1089.0 843.6 L1089.2 843.8 L1089.5 846.6 L1089.8 840.4 L1090.0 839.5 L1090.2 842.7 L1090.5 846.2 L1090.8 843.3 L1091.0 841.9 L1091.2 845.0 L1091.5 842.7 L1091.8 836.5 L1092.0 839.2 L1092.2 835.8 L1092.5 841.5 L1092.8 840.7 L1093.0 843.3 L1093.2 848.1 L1093.5 839.7 L1093.8 841.2 L1094.0 839.8 L1094.2 833.4 L1094.5 838.1 L1094.8 837.9 L1095.0 840.7 L1095.2 837.0 L1095.5 835.4 L1095.8 840.8 L1096.0 838.6 L1096.2 835.8 L1096.5 835.9 L1096.8 837.0 L1097.0 840.1 L1097.2 841.7 L1097.5 833.2 L1097.8 840.4 L1098.0 836.8 L1098.2 837.4 L1098.5 839.0 L1098.8 832.9 L1098.8 838.3 L1099.0 832.1 L1099.2 835.0 L1099.5 834.2 L1099.8 842.1 L1100.0 842.3 L1100.2 840.0 L1100.5 839.7 L1100.8 836.9 L1101.0 844.0 L1101.2 843.4 L1101.5 842.2 L1101.8 839.5 L1102.0 839.2 L1102.2 840.3 L1102.5 844.9 L1102.8 838.5 L1103.0 842.0 L1103.2 846.9 L1103.5 845.0 L1103.8 847.9 L1104.0 844.3 L1104.2 844.5 L1104.5 847.5 L1104.8 845.3 L1105.0 844.4 L1105.2 841.9 L1105.5 839.0 L1105.8 848.1 L1106.0 842.4 L1106.2 841.4 L1106.5 846.4 L1106.8 841.1 L1107.0 839.8 L1107.2 842.3 L1107.5 843.9 L1107.8 845.0 L1108.0 845.8 L1108.2 847.2 L1108.5 844.0 L1108.8 845.5 L1109.0 844.1 L1109.2 842.6 L1109.5 845.9 L1109.8 845.8 L1110.0 850.4 L1110.2 846.7 L1110.5 842.8 L1110.8 846.8 L1111.0 844.3 L1111.2 849.9 L1111.5 840.0 L1111.8 843.2 L1112.0 843.3 L1112.2 845.7 L1112.5 845.1 L1112.8 840.7 L1113.0 839.9 L1113.2 846.2 L1113.5 850.2 L1113.8 850.2 L1114.0 844.6 L1114.2 847.2 L1114.5 843.2 L1114.8 841.4 L1115.0 849.5 L1115.2 847.8 L1115.5 844.7 L1115.8 844.6 L1116.0 848.5 L1116.2 846.7 L1116.5 844.6 L1116.8 846.5 L1117.0 845.6 L1117.2 844.4 L1117.5 843.4 L1117.8 848.4 L1118.0 844.1 L1118.2 841.9 L1118.5 851.0 L1118.8 849.3 L1119.0 847.1 L1119.2 845.2 L1119.5 846.0 L1119.8 841.0 L1120.0 845.3 L1120.2 846.2 L1120.5 844.7 L1120.8 846.6 L1121.0 842.9 L1121.2 845.8 L1121.5 840.5 L1121.8 845.1 L1122.0 843.3 L1122.2 841.1 L1122.5 843.9 L1122.8 845.2 L1123.0 843.3 L1123.2 847.9 L1123.5 842.9 L1123.8 847.9 L1124.0 847.2 L1124.2 843.1 L1124.5 849.3 L1124.8 840.8 L1125.0 846.5 L1125.2 845.1 L1125.5 847.2 L1125.8 840.1 L1126.0 841.2 L1126.2 842.3 L1126.5 844.8 L1126.8 845.0 L1127.0 844.7 L1127.2 843.9 L1127.5 842.5 L1127.8 840.5 L1128.0 843.3 L1128.2 846.2 L1128.5 847.6 L1128.8 843.0 L1129.0 847.8 L1129.2 840.4 L1129.5 846.8 L1129.8 841.1 L1130.0 845.1 L1130.2 841.5 L1130.5 841.4 L1130.8 842.7 L1131.0 848.6 L1131.2 842.3 L1131.5 846.2 L1131.8 844.7 L1132.0 845.2 L1132.2 845.2 L1132.5 846.1 L1132.8 840.5 L1133.0 844.3 L1133.2 845.2 L1133.5 842.3 L1133.8 845.2 L1134.0 841.0 L1134.2 846.2 L1134.5 841.9 L1134.8 843.2 L1135.0 846.4 L1135.2 847.2 L1135.5 842.2 L1135.8 842.0 L1136.0 846.9 L1136.2 836.4 L1136.5 847.9 L1136.8 847.8 L1137.0 840.6 L1137.2 847.4 L1137.5 844.9 L1137.8 845.1 L1138.0 836.7 L1138.2 842.2 L1138.5 843.1 L1138.8 842.4 L1139.0 842.5 L1139.2 842.8 L1139.5 836.1 L1139.8 843.0 L1140.0 841.5 L1140.2 843.3 L1140.5 842.0 L1140.8 843.5 L1141.0 844.3 L1141.2 848.8 L1141.5 840.9 L1141.8 848.5 L1142.0 842.7 L1142.2 840.7 L1142.5 839.0 L1142.8 845.9 L1143.0 838.7 L1143.2 846.0 L1143.5 844.3 L1143.8 841.5 L1144.0 841.2 L1144.2 844.7 L1144.5 843.6 L1144.8 845.4 L1145.0 843.1 L1145.2 841.6 L1145.5 844.7 L1145.8 839.4 L1146.0 845.6 L1146.2 843.2 L1146.5 839.6 L1146.8 839.9 L1147.0 842.0 L1147.2 837.4 L1147.5 847.1 L1147.8 845.8 L1148.0 839.5 L1148.2 842.5 L1148.5 848.0 L1148.8 844.0 L1149.0 839.7 L1149.2 836.2 L1149.5 837.8 L1149.8 846.3 L1150.0 843.7 L1150.2 838.7 L1150.5 844.8 L1150.8 841.6 L1151.0 840.6 L1151.2 841.1 L1151.5 841.2 L1151.8 847.8 L1152.0 839.8 L1152.2 841.4 L1152.5 846.7 L1152.8 847.2 L1153.0 839.6 L1153.2 848.9 L1153.5 846.0 L1153.8 838.1 L1154.0 848.1 L1154.2 838.1 L1154.5 844.7 L1154.8 839.1 L1155.0 837.1 L1155.2 845.2 L1155.5 843.9 L1155.8 842.3 L1156.0 843.1 L1156.2 842.2 L1156.5 841.7 L1156.8 839.3 L1157.0 844.3 L1157.2 842.6 L1157.5 841.8 L1157.8 840.8 L1158.0 841.6 L1158.2 837.8 L1158.5 841.5 L1158.8 839.5 L1159.0 846.4 L1159.2 839.5 L1159.5 841.1 L1159.8 842.5 L1160.0 844.9 L1160.2 843.9 L1160.5 842.5 L1160.8 849.1 L1161.0 842.4 L1161.2 843.4 L1161.5 849.8 L1161.8 839.7 L1162.0 845.4 L1162.2 843.8 L1162.5 838.3 L1162.8 840.5 L1163.0 844.9 L1163.2 837.9 L1163.5 841.8 L1163.8 845.2 L1164.0 841.6 L1164.2 843.2 L1164.5 840.3 L1164.8 840.4 L1165.0 840.4 L1165.2 841.2 L1165.5 844.3 L1165.8 842.5 L1166.0 848.4 L1166.2 844.0 L1166.5 843.1 L1166.8 849.2 L1167.0 841.9 L1167.2 839.8 L1167.5 842.7 L1167.8 838.9 L1168.0 843.8 L1168.2 846.4 L1168.5 844.2 L1168.8 841.0 L1169.0 841.8 L1169.2 843.7 L1169.5 845.8 L1169.8 841.0 L1170.0 840.9 L1170.2 845.5 L1170.5 842.9 L1170.8 843.2 L1171.0 843.7 L1171.2 839.8 L1171.5 841.7 L1171.8 845.4 L1172.0 841.7 L1172.2 841.5 L1172.5 843.1 L1172.8 843.3 L1173.0 849.6 L1173.2 839.6 L1173.5 842.6 L1173.8 848.3 L1174.0 842.2 L1174.2 843.3 L1174.5 837.6 L1174.8 845.1 L1175.0 844.8 L1175.2 844.6 L1175.5 841.5 L1175.8 843.2 L1176.0 841.9 L1176.2 844.7 L1176.5 842.0 L1176.8 844.5 L1177.0 837.9 L1177.2 841.0 L1177.5 834.6 L1177.8 841.6 L1178.0 844.4 L1178.2 841.2 L1178.5 849.2 L1178.8 838.9 L1179.0 841.0 L1179.2 839.1 L1179.5 840.4 L1179.8 840.5 L1180.0 837.4 L1180.2 839.0 L1180.5 848.2 L1180.8 841.1 L1181.0 844.8 L1181.2 838.0 L1181.5 841.6 L1181.8 843.6 L1182.0 841.4 L1182.2 840.3 L1182.5 841.3 L1182.8 842.0 L1183.0 844.5 L1183.2 845.6 L1183.5 837.8 L1183.8 835.5 L1184.0 841.3 L1184.2 841.9 L1184.5 844.1 L1184.8 845.1 L1185.0 839.8 L1185.2 848.2 L1185.5 842.6 L1185.8 836.4 L1186.0 844.8 L1186.2 842.7 L1186.5 842.7 L1186.8 836.9 L1187.0 840.8 L1187.2 842.3 L1187.5 841.3 L1187.8 843.9 L1188.0 845.6 L1188.2 846.4 L1188.5 845.6 L1188.8 841.3 L1189.0 847.0 L1189.2 842.5 L1189.5 844.4 L1189.8 841.0 L1190.0 837.4 L1190.2 834.7 L1190.5 842.2 L1190.8 839.6 L1191.0 841.6 L1191.2 844.4 L1191.5 836.9 L1191.8 836.1 L1192.0 842.3 L1192.2 842.6 L1192.5 840.7 L1192.8 839.9 L1193.0 836.6 L1193.2 841.2 L1193.5 839.1 L1193.8 842.7 L1194.0 844.3 L1194.2 839.6 L1194.5 842.6 L1194.8 841.9 L1195.0 843.4 L1195.2 846.0 L1195.5 843.3 L1195.8 843.4 L1196.0 843.6 L1196.2 839.9 L1196.5 841.1 L1196.8 842.2 L1197.0 844.9 L1197.2 845.1 L1197.5 848.1 L1197.8 837.7 L1198.0 840.9 L1198.2 835.7 L1198.5 839.3 L1198.8 835.9 L1199.0 844.5 L1199.2 843.2 L1199.5 837.6 L1199.8 841.9 L1200.0 843.1 L1200.2 846.2 L1200.5 843.4 L1200.8 841.2 L1201.0 840.5 L1201.2 842.7 L1201.5 841.7 L1201.8 839.2 L1202.0 836.9 L1202.2 843.9 L1202.5 838.4 L1202.8 839.8 L1203.0 843.1 L1203.2 840.4 L1203.5 844.0 L1203.8 837.1 L1204.0 842.9 L1204.2 836.4 L1204.5 835.9 L1204.8 837.2 L1205.0 840.8 L1205.2 838.3 L1205.5 836.1 L1205.8 844.1 L1206.0 837.4 L1206.2 840.0 L1206.5 841.1 L1206.8 838.8 L1207.0 841.4 L1207.2 842.1 L1207.5 839.9 L1207.8 843.4 L1208.0 838.4 L1208.2 836.9 L1208.5 840.8 L1208.8 837.1 L1209.0 841.3 L1209.2 839.8 L1209.5 838.6 L1209.8 841.8 L1210.0 841.7 L1210.2 832.5 L1210.5 839.0 L1210.8 840.4 L1211.0 841.4 L1211.2 838.2 L1211.5 836.3 L1211.8 840.2 L1212.0 841.9 L1212.2 833.5 L1212.5 835.2 L1212.8 838.0 L1213.0 832.3 L1213.2 837.9 L1213.5 842.2 L1213.8 836.3 L1214.0 839.7 L1214.2 836.4 L1214.5 840.1 L1214.8 840.6 L1215.0 842.3 L1215.2 838.4 L1215.5 841.1 L1215.8 838.9 L1216.0 836.1 L1216.2 841.8 L1216.5 835.3 L1216.8 837.4 L1217.0 844.0 L1217.2 839.1 L1217.5 833.7 L1217.8 836.9 L1218.0 834.1 L1218.2 835.1 L1218.5 830.8 L1218.8 835.8 L1219.0 830.2 L1219.2 835.8 L1219.5 835.6 L1219.8 836.8 L1220.0 840.8 L1220.2 828.8 L1220.5 829.9 L1220.8 830.3 L1221.0 831.4 L1221.2 835.6 L1221.5 831.7 L1221.8 830.7 L1222.0 828.8 L1222.2 830.1 L1222.5 830.5 L1222.8 831.3 L1223.0 827.0 L1223.2 830.9 L1223.5 832.7 L1223.8 831.8 L1224.0 826.7 L1224.2 832.8 L1224.5 832.5 L1224.8 830.8 L1225.0 825.9 L1225.2 824.9 L1225.5 829.3 L1225.8 825.9 L1226.0 824.7 L1226.2 831.3 L1226.5 831.1 L1226.8 830.1 L1227.0 831.9 L1227.2 830.4 L1227.5 823.9 L1227.8 830.7 L1228.0 827.4 L1228.2 828.1 L1228.5 831.3 L1228.8 827.7 L1229.0 830.9 L1229.2 826.1 L1229.4 824.6 L1229.5 823.6 L1229.8 825.2 L1230.0 820.3 L1230.2 825.1 L1230.5 824.7 L1230.8 823.3 L1231.0 818.0 L1231.2 818.1 L1231.5 826.6 L1231.8 821.4 L1232.0 828.4 L1232.2 821.8 L1232.5 825.0 L1232.8 819.3 L1233.0 821.6 L1233.2 822.7 L1233.5 825.0 L1233.8 828.2 L1234.0 825.9 L1234.2 818.3 L1234.5 822.6 L1234.8 821.9 L1235.0 820.3 L1235.2 823.9 L1235.5 826.8 L1235.8 820.4 L1236.0 825.1 L1236.2 825.8 L1236.5 818.1 L1236.8 826.6 L1237.0 826.2 L1237.2 821.8 L1237.5 826.0 L1237.8 821.4 L1238.0 824.0 L1238.2 822.3 L1238.5 817.5 L1238.8 820.8 L1239.0 819.3 L1239.2 818.1 L1239.5 816.0 L1239.8 816.9 L1240.0 815.4 L1240.2 822.5 L1240.5 812.9 L1240.8 818.9 L1241.0 816.7 L1241.2 814.6 L1241.5 820.5 L1241.8 815.6 L1242.0 821.6 L1242.2 817.2 L1242.5 818.6 L1242.8 817.1 L1243.0 819.3 L1243.2 820.0 L1243.5 815.6 L1243.8 816.8 L1244.0 822.1 L1244.2 814.8 L1244.5 821.9 L1244.8 815.0 L1245.0 814.3 L1245.2 810.7 L1245.4 813.2 L1245.5 810.4 L1245.8 813.9 L1246.0 817.7 L1246.2 815.2 L1246.5 813.5 L1246.8 812.1 L1247.0 813.0 L1247.2 810.5 L1247.5 811.0 L1247.8 820.8 L1248.0 815.4 L1248.2 811.8 L1248.5 816.5 L1248.8 819.0 L1249.0 812.3 L1249.2 813.8 L1249.5 810.2 L1249.8 809.0 L1250.0 818.1 L1250.2 821.1 L1250.5 811.3 L1250.8 808.5 L1251.0 817.8 L1251.2 816.5 L1251.5 814.6 L1251.8 817.6 L1252.0 811.9 L1252.2 813.7 L1252.5 815.2 L1252.8 811.7 L1253.0 814.0 L1253.2 811.7 L1253.5 813.7 L1253.8 812.7 L1254.0 806.0 L1254.2 812.3 L1254.5 807.5 L1254.8 809.2 L1255.0 806.6 L1255.2 814.1 L1255.5 810.5 L1255.8 810.2 L1256.0 815.1 L1256.2 813.3 L1256.5 810.4 L1256.8 804.5 L1257.0 812.8 L1257.2 809.9 L1257.5 809.5 L1257.8 812.8 L1258.0 808.5 L1258.2 810.0 L1258.5 812.9 L1258.8 811.8 L1259.0 808.1 L1259.2 814.3 L1259.4 813.3 L1259.5 815.3 L1259.8 809.0 L1260.0 809.3 L1260.2 811.4 L1260.5 809.1 L1260.8 807.7 L1261.0 806.5 L1261.2 805.4 L1261.5 803.9 L1261.8 803.5 L1262.0 806.2 L1262.2 803.6 L1262.5 799.9 L1262.8 803.0 L1263.0 806.5 L1263.2 804.5 L1263.5 793.8 L1263.8 796.0 L1264.0 799.5 L1264.2 796.4 L1264.5 795.3 L1264.8 793.6 L1265.0 793.0 L1265.2 788.8 L1265.3 795.0 L1265.5 789.4 L1265.8 793.0 L1266.0 798.9 L1266.2 798.7 L1266.5 796.6 L1266.8 797.7 L1267.0 797.1 L1267.2 798.4 L1267.5 800.2 L1267.8 805.8 L1268.0 801.8 L1268.2 805.1 L1268.5 805.1 L1268.8 805.4 L1269.0 803.8 L1269.2 807.2 L1269.5 805.9 L1269.8 806.1 L1270.0 804.8 L1270.2 800.2 L1270.5 809.3 L1270.8 809.5 L1271.0 805.8 L1271.2 807.0 L1271.5 808.5 L1271.8 804.8 L1272.0 810.1 L1272.2 810.3 L1272.5 810.8 L1272.8 811.2 L1273.0 802.7 L1273.2 810.3 L1273.5 807.5 L1273.8 812.4 L1274.0 812.3 L1274.2 811.8 L1274.5 809.2 L1274.8 816.8 L1275.0 809.5 L1275.2 806.7 L1275.3 812.8 L1275.5 805.6 L1275.8 816.0 L1276.0 813.4 L1276.2 814.5 L1276.5 813.8 L1276.8 812.0 L1277.0 806.9 L1277.2 809.2 L1277.5 812.9 L1277.8 810.7 L1278.0 812.6 L1278.2 809.5 L1278.5 809.4 L1278.8 812.8 L1279.0 814.3 L1279.2 812.2 L1279.5 809.4 L1279.8 807.4 L1280.0 818.8 L1280.2 809.3 L1280.5 810.2 L1280.8 810.8 L1281.0 815.9 L1281.2 811.0 L1281.5 815.1 L1281.8 814.5 L1282.0 810.3 L1282.2 814.3 L1282.5 810.3 L1282.8 813.7 L1283.0 816.5 L1283.2 813.7 L1283.5 811.8 L1283.8 813.4 L1284.0 814.3 L1284.2 816.0 L1284.5 808.1 L1284.8 809.6 L1285.0 816.9 L1285.2 815.2 L1285.5 815.7 L1285.8 816.4 L1286.0 815.4 L1286.2 814.7 L1286.5 816.5 L1286.8 818.4 L1287.0 817.5 L1287.2 816.7 L1287.5 813.6 L1287.8 817.6 L1288.0 813.5 L1288.2 815.1 L1288.5 817.8 L1288.8 817.8 L1289.0 820.9 L1289.2 820.4 L1289.3 819.3 L1289.5 816.8 L1289.8 817.8 L1290.0 817.1 L1290.2 823.2 L1290.5 819.3 L1290.8 815.9 L1291.0 815.4 L1291.2 821.8 L1291.5 815.4 L1291.8 819.2 L1292.0 818.6 L1292.2 821.3 L1292.5 815.4 L1292.8 819.6 L1293.0 818.8 L1293.2 820.6 L1293.5 822.4 L1293.8 818.6 L1294.0 817.6 L1294.2 821.0 L1294.5 814.0 L1294.8 818.9 L1295.0 815.4 L1295.2 814.7 L1295.5 813.6 L1295.8 813.4 L1296.0 821.0 L1296.2 821.2 L1296.5 818.9 L1296.8 821.7 L1297.0 818.7 L1297.2 817.1 L1297.5 815.4 L1297.8 821.0 L1298.0 821.2 L1298.2 822.6 L1298.5 816.3 L1298.8 817.9 L1299.0 814.7 L1299.2 822.3 L1299.5 821.0 L1299.8 820.5 L1300.0 818.9 L1300.2 818.5 L1300.5 817.9 L1300.8 822.3 L1301.0 817.1 L1301.2 821.8 L1301.5 820.0 L1301.8 816.0 L1302.0 814.7 L1302.2 816.8 L1302.5 819.1 L1302.8 815.3 L1303.0 821.2 L1303.2 822.8 L1303.5 821.0 L1303.8 814.2 L1304.0 812.2 L1304.2 822.0 L1304.5 824.0 L1304.8 818.2 L1305.0 821.1 L1305.2 818.7 L1305.5 817.6 L1305.8 822.6 L1306.0 817.9 L1306.2 822.2 L1306.5 824.9 L1306.8 819.3 L1307.0 825.4 L1307.2 815.7 L1307.5 822.5 L1307.8 819.8 L1308.0 827.1 L1308.2 819.9 L1308.5 817.4 L1308.8 824.8 L1309.0 815.2 L1309.2 821.3 L1309.5 817.6 L1309.8 824.2 L1310.0 819.7 L1310.2 822.7 L1310.5 820.0 L1310.8 816.8 L1311.0 813.7 L1311.2 825.8 L1311.5 821.1 L1311.8 816.9 L1312.0 819.5 L1312.2 823.5 L1312.5 816.0 L1312.8 827.6 L1313.0 819.9 L1313.2 819.6 L1313.5 824.7 L1313.8 821.4 L1314.0 817.8 L1314.2 823.7 L1314.5 822.3 L1314.8 824.5 L1315.0 818.2 L1315.2 817.6 L1315.5 823.1 L1315.8 819.8 L1316.0 814.6 L1316.2 819.5 L1316.5 823.3 L1316.8 819.1 L1317.0 825.4 L1317.2 819.9 L1317.5 821.2 L1317.8 816.6 L1318.0 819.2 L1318.2 821.1 L1318.5 823.5 L1318.8 822.3 L1319.0 825.1 L1319.2 815.2 L1319.5 822.0 L1319.8 821.5 L1320.0 818.8 L1320.2 821.9 L1320.5 819.8 L1320.8 823.5 L1321.0 821.1 L1321.2 823.8 L1321.5 819.5 L1321.8 826.3 L1322.0 823.6 L1322.2 827.9 L1322.5 822.1 L1322.8 821.0 L1323.0 823.0 L1323.2 821.2 L1323.5 819.5 L1323.8 822.8 L1324.0 822.6 L1324.2 820.8 L1324.5 821.7 L1324.8 819.9 L1325.0 823.4 L1325.2 818.9 L1325.5 828.3 L1325.8 823.2 L1326.0 826.1 L1326.2 819.5 L1326.5 824.4 L1326.8 822.9 L1327.0 826.4 L1327.2 826.1 L1327.5 818.4 L1327.8 827.1 L1328.0 819.0 L1328.2 827.8 L1328.5 823.5 L1328.8 820.0 L1329.0 826.0 L1329.2 823.9 L1329.5 820.8 L1329.8 821.6 L1330.0 825.4 L1330.2 819.7 L1330.5 821.3 L1330.8 829.7 L1331.0 821.6 L1331.2 825.2 L1331.5 825.4 L1331.8 827.1 L1332.0 826.8 L1332.2 816.7 L1332.5 822.6 L1332.8 827.9 L1333.0 821.7 L1333.2 829.9 L1333.5 825.0 L1333.8 820.5 L1334.0 826.1 L1334.2 830.4 L1334.5 822.3 L1334.8 826.1 L1335.0 821.7 L1335.2 822.6 L1335.5 824.8 L1335.8 826.1 L1336.0 825.6 L1336.2 825.2 L1336.5 832.0 L1336.8 821.2 L1337.0 818.8 L1337.2 826.4 L1337.5 825.2 L1337.8 820.2 L1338.0 830.1 L1338.2 822.6 L1338.5 820.4 L1338.8 826.1 L1339.0 826.8 L1339.2 832.2 L1339.5 820.1 L1339.8 820.9 L1340.0 824.1 L1340.2 823.6 L1340.5 824.7 L1340.8 822.8 L1341.0 820.2 L1341.2 823.6 L1341.5 827.3 L1341.8 827.6 L1342.0 823.1 L1342.2 826.8 L1342.5 826.5 L1342.8 823.7 L1343.0 824.1 L1343.2 825.4 L1343.5 832.7 L1343.8 825.8 L1344.0 822.5 L1344.2 824.8 L1344.5 823.6 L1344.8 829.0 L1345.0 818.7 L1345.2 822.0 L1345.5 828.1 L1345.8 826.8 L1346.0 825.6 L1346.2 827.8 L1346.5 821.4 L1346.8 826.7 L1347.0 822.1 L1347.2 821.6 L1347.5 827.2 L1347.8 823.2 L1348.0 824.6 L1348.2 827.7 L1348.5 822.5 L1348.8 827.7 L1349.0 832.8 L1349.2 825.3 L1349.5 829.0 L1349.8 828.5 L1350.0 822.3 L1350.2 822.1 L1350.5 826.4 L1350.8 819.9 L1351.0 826.8 L1351.2 827.5 L1351.5 828.3 L1351.8 828.3 L1352.0 831.2 L1352.2 826.1 L1352.5 831.4 L1352.8 829.0 L1353.0 829.1 L1353.2 827.1 L1353.5 830.6 L1353.8 825.4 L1354.0 830.1 L1354.2 831.4 L1354.5 826.0 L1354.8 825.2 L1355.0 825.9 L1355.2 828.2 L1355.5 829.6 L1355.8 831.3 L1356.0 834.5 L1356.2 833.8 L1356.5 829.7 L1356.8 827.7 L1357.0 825.3 L1357.2 831.7 L1357.5 830.8 L1357.8 828.5 L1358.0 828.9 L1358.2 829.2 L1358.5 822.2 L1358.8 829.5 L1359.0 830.8 L1359.2 829.5 L1359.5 826.7 L1359.8 830.3 L1360.0 831.7 L1360.2 835.9 L1360.5 833.7 L1360.8 832.4 L1361.0 830.5 L1361.2 826.5 L1361.5 829.3 L1361.8 826.7 L1362.0 830.7 L1362.2 834.4 L1362.5 834.5 L1362.8 834.1 L1363.0 831.5 L1363.2 834.6 L1363.5 830.8 L1363.8 825.6 L1364.0 832.2 L1364.2 832.0 L1364.5 826.6 L1364.8 830.4 L1365.0 824.7 L1365.2 830.8 L1365.5 836.2 L1365.8 830.5 L1366.0 836.7 L1366.2 833.4 L1366.5 830.5 L1366.8 827.4 L1367.0 835.3 L1367.2 835.2 L1367.5 828.5 L1367.8 832.0 L1368.0 836.8 L1368.2 831.1 L1368.5 834.8 L1368.8 827.6 L1369.0 830.9 L1369.2 836.0 L1369.5 830.1 L1369.8 829.2 L1370.0 829.4 L1370.2 832.6 L1370.5 828.8 L1370.8 833.4 L1371.0 835.5 L1371.2 838.6 L1371.5 832.5 L1371.8 838.8 L1372.0 835.5 L1372.2 833.1 L1372.5 835.4 L1372.8 838.5 L1373.0 838.5 L1373.2 836.1 L1373.5 833.5 L1373.8 836.4 L1374.0 834.4 L1374.2 834.3 L1374.5 834.6 L1374.8 839.5 L1375.0 830.0 L1375.2 833.5 L1375.5 830.3 L1375.8 836.5 L1376.0 837.3 L1376.2 838.0 L1376.5 832.7 L1376.8 833.9 L1377.0 836.2 L1377.2 834.4 L1377.5 834.7 L1377.8 834.4 L1378.0 834.6 L1378.2 833.4 L1378.5 835.2 L1378.8 829.2 L1379.0 832.5 L1379.2 829.6 L1379.5 833.5 L1379.8 831.5 L1380.0 835.5 L1380.2 837.7 L1380.5 829.9 L1380.8 831.3 L1381.0 834.8 L1381.2 838.3 L1381.5 836.2 L1381.8 835.2 L1382.0 833.6 L1382.2 832.4 L1382.5 835.0 L1382.8 835.4 L1383.0 834.3 L1383.2 832.0 L1383.5 828.8 L1383.8 831.1 L1384.0 832.6 L1384.2 830.1 L1384.5 834.8 L1384.8 829.3 L1385.0 832.8 L1385.2 834.9 L1385.5 836.3 L1385.8 834.5 L1386.0 837.5 L1386.2 831.7 L1386.5 831.0 L1386.8 836.5 L1387.0 830.3 L1387.2 832.3 L1387.5 827.2 L1387.8 835.8 L1388.0 834.3 L1388.2 829.6 L1388.5 826.3 L1388.8 832.3 L1389.0 832.2 L1389.2 834.7 L1389.5 836.6 L1389.8 831.4 L1390.0 829.8 L1390.2 829.6 L1390.5 829.2 L1390.8 825.1 L1391.0 825.5 L1391.2 826.8 L1391.5 821.3 L1391.8 821.3 L1392.0 827.6 L1392.2 821.2 L1392.5 824.4 L1392.8 824.3 L1393.0 820.2 L1393.2 821.6 L1393.5 817.6 L1393.8 814.6 L1393.9 816.2 L1394.0 817.3 L1394.2 818.6 L1394.5 819.7 L1394.8 819.6 L1395.0 824.9 L1395.2 822.6 L1395.5 823.2 L1395.8 828.2 L1396.0 823.9 L1396.2 828.0 L1396.5 833.4 L1396.8 830.6 L1397.0 835.7 L1397.2 832.1 L1397.5 832.6 L1397.8 834.0 L1398.0 833.1 L1398.2 834.1 L1398.5 834.2 L1398.8 838.3 L1399.0 837.4 L1399.2 835.9 L1399.5 834.6 L1399.8 844.4 L1400.0 837.0 L1400.2 842.2 L1400.5 834.7 L1400.8 836.4 L1401.0 842.7 L1401.2 836.0 L1401.5 836.4 L1401.8 839.8 L1402.0 838.1 L1402.2 839.8 L1402.5 841.5 L1402.8 844.0 L1403.0 842.3 L1403.2 843.0 L1403.5 846.4 L1403.8 847.1 L1404.0 842.0 L1404.2 837.3 L1404.5 839.9 L1404.8 846.4 L1405.0 841.5 L1405.2 840.8 L1405.5 841.5 L1405.8 847.9 L1406.0 843.1 L1406.2 841.7 L1406.5 840.6 L1406.8 839.4 L1407.0 850.0 L1407.2 842.6 L1407.5 843.2 L1407.8 841.7 L1408.0 846.0 L1408.2 839.5 L1408.5 836.6 L1408.8 840.8 L1409.0 843.6 L1409.2 849.5 L1409.5 842.2 L1409.8 839.7 L1410.0 841.7 L1410.2 839.9 L1410.5 839.9 L1410.8 842.6 L1411.0 843.2 L1411.2 840.2 L1411.5 845.6 L1411.8 841.9 L1412.0 842.5 L1412.2 840.5 L1412.5 843.1 L1412.8 843.2 L1413.0 843.9 L1413.2 839.3 L1413.5 843.7 L1413.8 839.9 L1414.0 841.9 L1414.2 843.8 L1414.5 846.1 L1414.8 840.0 L1415.0 837.9 L1415.2 841.7 L1415.5 844.9 L1415.8 840.1 L1416.0 848.2 L1416.2 835.1 L1416.5 845.5 L1416.8 844.4 L1417.0 844.2 L1417.2 838.1 L1417.5 844.8 L1417.8 844.1 L1418.0 844.3 L1418.2 839.7 L1418.5 839.6 L1418.8 844.3 L1419.0 841.2 L1419.2 839.0 L1419.5 837.4 L1419.8 840.8 L1420.0 835.7 L1420.2 841.8 L1420.5 840.7 L1420.8 835.7 L1421.0 842.0 L1421.2 844.5 L1421.5 841.8 L1421.8 837.1 L1422.0 839.5 L1422.2 844.2 L1422.5 837.8 L1422.8 840.8 L1423.0 845.7 L1423.2 841.5 L1423.5 840.7 L1423.8 845.2 L1424.0 847.8 L1424.2 844.3 L1424.5 839.2 L1424.8 838.5 L1425.0 842.9 L1425.2 838.3 L1425.5 843.8 L1425.8 847.0 L1426.0 836.9 L1426.2 844.0 L1426.5 845.8 L1426.8 843.3 L1427.0 846.4 L1427.2 846.9 L1427.5 848.8 L1427.8 852.9 L1428.0 846.9 L1428.2 843.3 L1428.5 843.1 L1428.8 842.6 L1429.0 848.8 L1429.2 847.9 L1429.5 848.4 L1429.8 847.8 L1430.0 852.3 L1430.2 850.9 L1430.5 850.9 L1430.8 845.8 L1431.0 847.1 L1431.2 844.3 L1431.5 846.5 L1431.8 849.0 L1432.0 845.1 L1432.2 847.1 L1432.5 855.5 L1432.8 848.9 L1433.0 845.0 L1433.2 846.0 L1433.5 849.7 L1433.8 852.8 L1434.0 850.1 L1434.2 853.2 L1434.5 851.7 L1434.8 847.5 L1435.0 854.3 L1435.2 849.9 L1435.5 857.3 L1435.8 849.8 L1436.0 851.4 L1436.2 850.2 L1436.5 851.1 L1436.8 853.5 L1437.0 851.5 L1437.2 855.9 L1437.5 853.6 L1437.8 857.2 L1438.0 852.6 L1438.2 856.4 L1438.5 856.2 L1438.8 852.1 L1439.0 859.9 L1439.2 857.4 L1439.5 854.5 L1439.8 852.2 L1440.0 852.6 L1440.2 852.4 L1440.5 853.9 L1440.8 849.6 L1441.0 853.3 L1441.2 851.3 L1441.5 858.5 L1441.8 855.7 L1442.0 858.6 L1442.2 860.7 L1442.5 855.0 L1442.8 859.9 L1443.0 854.8 L1443.2 855.7 L1443.5 850.9 L1443.8 854.1 L1444.0 858.4 L1444.2 855.5 L1444.5 852.9 L1444.8 854.1 L1445.0 851.9 L1445.2 852.2 L1445.5 849.9 L1445.8 857.8 L1446.0 857.8 L1446.2 854.2 L1446.5 850.4 L1446.8 853.9 L1447.0 860.9 L1447.2 850.6 L1447.5 853.3 L1447.8 853.4 L1448.0 857.4 L1448.2 851.1 L1448.5 855.9 L1448.8 852.6 L1449.0 854.1 L1449.2 851.5 L1449.5 857.0 L1449.8 853.9 L1450.0 853.6 L1450.2 858.9 L1450.5 856.7 L1450.8 862.8 L1451.0 857.0 L1451.2 856.0 L1451.5 856.2 L1451.8 863.0 L1452.0 859.8 L1452.2 855.1 L1452.5 857.1 L1452.8 854.5 L1453.0 858.3 L1453.2 854.7 L1453.5 854.6 L1453.8 857.8 L1454.0 860.7 L1454.2 859.2 L1454.5 858.9 L1454.8 856.8 L1455.0 849.2 L1455.2 856.3 L1455.5 856.2 L1455.8 858.6 L1456.0 862.4 L1456.2 859.4 L1456.5 851.7 L1456.8 857.2 L1457.0 856.5 L1457.2 859.5 L1457.5 857.1 L1457.8 851.4 L1458.0 854.6 L1458.2 856.5 L1458.5 851.2 L1458.8 857.2 L1459.0 856.8 L1459.2 861.1 L1459.5 857.4 L1459.8 855.9 L1460.0 857.5 L1460.2 858.0 L1460.5 861.0 L1460.8 855.1 L1461.0 851.1 L1461.2 865.4 L1461.5 860.5 L1461.8 858.3 L1462.0 865.5 L1462.2 854.8 L1462.5 855.9 L1462.8 857.0 L1463.0 860.0 L1463.2 857.1 L1463.5 861.0 L1463.8 857.5 L1464.0 862.7 L1464.2 860.2 L1464.5 853.6 L1464.8 858.7 L1465.0 855.3 L1465.2 858.5 L1465.5 858.9 L1465.8 866.0 L1466.0 858.3 L1466.2 854.0 L1466.5 859.5 L1466.8 855.5 L1467.0 864.9 L1467.2 861.5 L1467.5 864.2 L1467.8 858.1 L1468.0 856.1 L1468.2 860.4 L1468.5 855.2 L1468.8 856.5 L1469.0 857.2 L1469.2 859.2 L1469.5 854.9 L1469.8 853.3 L1470.0 864.3 L1470.2 858.1 L1470.5 859.3 L1470.8 861.8 L1471.0 861.4 L1471.2 858.0 L1471.5 858.7 L1471.8 865.2 L1472.0 864.2 L1472.2 862.6 L1472.5 865.5 L1472.8 854.5 L1473.0 860.8 L1473.2 859.6 L1473.5 854.5 L1473.8 861.7 L1474.0 862.7 L1474.2 861.5 L1474.5 855.1 L1474.8 860.1 L1475.0 861.5 L1475.2 860.2 L1475.5 861.8 L1475.8 862.6 L1476.0 865.5 L1476.2 861.9 L1476.5 868.4 L1476.8 861.9 L1477.0 862.2 L1477.2 863.8 L1477.5 861.2 L1477.8 860.4 L1478.0 865.4 L1478.2 854.8 L1478.5 856.0 L1478.8 868.2 L1479.0 864.0 L1479.2 863.5 L1479.5 862.8 L1479.8 862.8 L1480.0 858.9 L1480.2 861.0 L1480.5 858.7 L1480.8 865.6 L1481.0 863.9 L1481.2 862.7 L1481.5 863.2 L1481.8 861.5 L1482.0 858.3 L1482.2 867.3 L1482.5 864.0 L1482.8 861.4 L1483.0 863.8 L1483.2 866.0 L1483.5 865.7 L1483.8 864.0 L1484.0 864.6 L1484.2 861.2 L1484.5 866.2 L1484.8 865.0 L1485.0 865.0 L1485.2 857.8 L1485.5 864.0 L1485.8 864.1 L1486.0 864.5 L1486.2 854.3 L1486.5 856.0 L1486.8 862.8 L1487.0 858.9 L1487.2 863.1 L1487.5 861.6 L1487.8 864.6 L1488.0 860.1 L1488.2 858.5 L1488.5 863.5 L1488.8 861.0 L1489.0 858.2 L1489.2 855.6 L1489.5 869.1 L1489.8 860.7 L1490.0 861.1 L1490.2 855.6 L1490.5 858.6 L1490.8 861.3 L1491.0 862.9 L1491.2 864.3 L1491.5 859.5 L1491.8 863.4 L1492.0 865.5 L1492.2 860.2 L1492.5 861.6 L1492.8 856.1 L1493.0 859.2 L1493.2 857.4 L1493.5 864.0 L1493.8 861.3 L1494.0 866.9 L1494.2 862.4 L1494.5 864.4 L1494.8 863.5 L1495.0 862.5 L1495.2 858.4 L1495.5 867.1 L1495.8 861.5 L1496.0 856.0 L1496.2 860.0 L1496.5 858.3 L1496.8 865.6 L1497.0 865.2 L1497.2 866.7 L1497.5 868.8 L1497.8 859.8 L1498.0 855.8 L1498.2 858.8 L1498.5 863.1 L1498.8 854.3 L1499.0 859.9 L1499.2 864.5 L1499.5 859.1 L1499.8 861.5 L1500.0 858.9 L1500.2 867.4 L1500.5 868.1 L1500.8 858.6 L1501.0 859.1 L1501.2 862.3 L1501.5 864.1 L1501.8 863.3 L1502.0 864.0 L1502.2 865.1 L1502.5 865.9 L1502.8 868.1 L1503.0 862.6 L1503.2 860.6 L1503.5 861.9 L1503.8 869.1 L1504.0 864.9 L1504.2 864.5 L1504.5 866.5 L1504.8 866.2 L1505.0 869.1 L1505.2 859.6 L1505.5 862.9 L1505.8 864.6 L1506.0 864.9 L1506.2 861.0 L1506.5 857.0 L1506.8 861.3 L1507.0 860.0 L1507.2 861.8 L1507.5 865.7 L1507.8 864.4 L1508.0 858.5 L1508.2 859.7 L1508.5 862.8 L1508.8 865.8 L1509.0 861.9 L1509.2 862.8 L1509.5 857.2 L1509.8 860.5 L1510.0 859.5 L1510.2 862.6 L1510.5 861.0 L1510.8 859.0 L1511.0 858.3 L1511.2 862.3 L1511.5 859.5 L1511.8 865.1 L1512.0 861.9 L1512.2 860.5 L1512.5 864.2 L1512.8 857.4 L1513.0 864.0 L1513.2 858.7 L1513.5 863.3 L1513.8 858.7 L1514.0 857.8 L1514.2 854.8 L1514.5 860.8 L1514.8 862.1 L1515.0 856.0 L1515.2 866.1 L1515.5 860.3 L1515.8 856.7 L1516.0 866.5 L1516.2 858.8 L1516.5 864.8 L1516.8 852.5 L1517.0 866.8 L1517.2 860.5 L1517.5 859.8 L1517.8 860.8 L1518.0 856.0 L1518.2 862.5 L1518.5 860.9 L1518.8 860.5 L1519.0 857.6 L1519.2 855.6 L1519.5 860.4 L1519.8 861.8 L1520.0 859.5 L1520.2 858.3 L1520.5 857.2 L1520.8 861.0 L1521.0 863.2 L1521.2 857.9 L1521.5 855.6 L1521.8 865.4 L1522.0 853.1 L1522.2 858.7 L1522.5 857.4 L1522.8 861.8 L1523.0 857.0 L1523.2 852.1 L1523.5 853.6 L1523.8 857.4 L1524.0 856.9 L1524.2 854.7 L1524.5 854.9 L1524.8 851.6 L1525.0 851.7 L1525.2 854.3 L1525.5 854.0 L1525.6 855.6 L1525.8 852.5 L1526.0 861.3 L1526.2 851.0 L1526.5 859.5 L1526.8 858.7 L1527.0 862.1 L1527.2 861.7 L1527.5 853.4 L1527.8 858.8 L1528.0 860.3 L1528.2 861.1 L1528.5 859.9 L1528.8 856.7 L1529.0 862.8 L1529.2 858.5 L1529.5 857.5 L1529.8 859.8 L1530.0 858.0 L1530.2 857.5 L1530.5 860.2 L1530.8 867.1 L1531.0 861.2 L1531.2 860.5 L1531.5 858.9 L1531.8 861.5 L1532.0 856.7 L1532.2 862.0 L1532.5 861.4 L1532.8 860.8 L1533.0 862.1 L1533.2 860.0 L1533.5 862.8 L1533.8 862.4 L1534.0 862.6 L1534.2 860.8 L1534.5 863.7 L1534.8 860.4 L1535.0 865.1 L1535.2 860.7 L1535.5 865.1 L1535.8 861.9 L1536.0 861.1 L1536.2 858.0 L1536.5 863.3 L1536.8 862.5 L1537.0 861.5 L1537.2 862.7 L1537.5 861.9 L1537.8 858.6 L1538.0 857.8 L1538.2 863.6 L1538.5 862.2 L1538.8 866.5 L1539.0 868.1 L1539.2 864.4 L1539.5 863.9 L1539.8 863.7 L1540.0 862.3 L1540.2 859.9 L1540.5 854.3 L1540.8 864.4 L1541.0 863.9 L1541.2 862.1 L1541.5 862.5 L1541.8 865.1 L1542.0 865.0 L1542.2 862.7 L1542.5 861.3 L1542.8 864.0 L1543.0 864.7 L1543.2 869.2 L1543.5 859.3 L1543.8 863.8 L1544.0 859.4 L1544.2 860.8 L1544.5 869.4 L1544.8 860.9 L1545.0 861.9 L1545.2 860.5 L1545.5 865.0 L1545.8 861.0 L1546.0 857.0 L1546.2 862.8 L1546.5 865.0 L1546.8 862.3 L1547.0 862.9 L1547.2 860.2 L1547.5 859.4 L1547.8 862.5 L1548.0 858.8 L1548.2 861.1 L1548.5 859.3 L1548.8 861.7 L1549.0 865.0 L1549.2 862.4 L1549.5 866.1 L1549.8 863.7 L1550.0 862.1 L1550.2 859.7 L1550.5 862.9 L1550.8 858.9 L1551.0 865.0 L1551.2 858.3 L1551.5 858.2 L1551.8 859.9 L1552.0 857.3 L1552.2 863.0 L1552.5 860.2 L1552.8 861.2 L1553.0 864.7 L1553.2 855.7 L1553.5 861.9 L1553.8 863.9 L1554.0 866.0 L1554.2 863.2 L1554.5 860.7 L1554.8 865.8 L1555.0 865.8 L1555.2 869.9 L1555.5 869.7 L1555.8 862.2 L1556.0 867.3 L1556.2 863.6 L1556.5 859.7 L1556.8 865.2 L1557.0 867.1 L1557.2 855.5 L1557.5 867.2 L1557.8 860.4 L1558.0 868.2 L1558.2 863.8 L1558.5 863.6 L1558.8 867.5 L1559.0 862.0 L1559.2 869.8 L1559.5 860.1 L1559.8 861.2 L1560.0 859.7 L1560.2 864.9 L1560.5 863.0 L1560.8 865.7 L1561.0 866.7 L1561.2 865.8 L1561.5 866.7 L1561.8 866.7 L1562.0 863.0 L1562.2 860.9 L1562.5 860.2 L1562.8 865.7 L1563.0 861.6 L1563.2 860.2 L1563.5 860.7 L1563.8 862.6 L1564.0 864.1 L1564.2 862.5 L1564.5 860.1 L1564.8 865.1 L1565.0 856.3 L1565.2 862.4 L1565.5 866.7 L1565.8 864.2 L1566.0 867.2 L1566.2 863.7 L1566.5 865.3 L1566.8 863.6 L1567.0 862.1 L1567.2 864.7 L1567.5 866.5 L1567.8 857.2 L1568.0 860.9 L1568.2 856.8 L1568.5 860.5 L1568.8 859.4 L1569.0 862.0 L1569.2 862.5 L1569.5 866.5 L1569.8 867.4 L1570.0 861.0 L1570.2 861.9 L1570.5 865.5 L1570.8 861.4 L1571.0 862.2 L1571.2 857.6 L1571.5 865.8 L1571.8 864.3 L1572.0 860.4 L1572.2 859.2 L1572.5 860.0 L1572.8 864.8 L1573.0 861.9 L1573.2 859.5 L1573.5 862.4 L1573.8 866.1 L1574.0 867.4 L1574.2 867.6 L1574.5 863.8 L1574.8 864.2 L1575.0 864.4 L1575.2 865.6 L1575.5 865.3 L1575.8 860.4 L1576.0 861.1 L1576.2 862.2 L1576.5 865.7 L1576.8 861.8 L1577.0 861.0 L1577.2 866.6 L1577.5 868.0 L1577.8 860.5 L1578.0 863.0 L1578.2 867.0 L1578.5 862.1 L1578.8 866.3 L1579.0 858.9 L1579.2 862.7 L1579.5 865.4 L1579.8 868.2 L1580.0 866.3 L1580.2 858.2 L1580.5 858.5 L1580.8 860.6 L1581.0 865.9 L1581.2 865.6 L1581.5 866.7 L1581.8 865.5 L1582.0 861.5 L1582.2 862.1 L1582.5 860.5 L1582.8 865.9 L1583.0 859.3 L1583.2 863.4 L1583.5 864.0 L1583.8 867.1 L1584.0 860.8 L1584.2 864.5 L1584.5 860.0 L1584.8 866.4 L1585.0 862.1 L1585.2 862.2 L1585.5 860.2 L1585.8 861.3 L1586.0 861.1 L1586.2 861.2 L1586.5 866.8 L1586.8 860.0 L1587.0 863.9 L1587.2 865.8 L1587.5 859.6 L1587.8 856.3 L1588.0 864.6 L1588.2 857.9 L1588.5 860.7 L1588.8 862.8 L1589.0 864.0 L1589.2 862.2 L1589.5 860.9 L1589.8 866.2 L1590.0 863.8 L1590.2 869.1 L1590.5 860.2 L1590.8 862.8 L1591.0 862.9 L1591.2 864.7 L1591.5 863.8 L1591.8 863.1 L1592.0 869.2 L1592.2 862.5 L1592.5 864.4 L1592.8 863.6 L1593.0 861.1 L1593.2 865.3 L1593.5 857.1 L1593.8 866.6 L1594.0 858.1 L1594.2 862.0 L1594.5 863.3 L1594.8 861.4 L1595.0 861.3 L1595.2 866.7 L1595.5 870.5 L1595.8 866.2 L1596.0 863.4 L1596.2 861.0 L1596.5 860.5 L1596.8 866.7 L1597.0 865.7 L1597.2 867.1 L1597.5 866.1 L1597.8 867.1 L1598.0 861.0 L1598.2 860.4 L1598.5 859.7 L1598.8 862.8 L1599.0 862.3 L1599.2 863.2 L1599.5 859.1 L1599.8 863.4 L1600.0 865.4 L1600.2 863.1 L1600.5 855.5 L1600.8 862.7 L1601.0 861.7 L1601.2 865.7 L1601.5 862.3 L1601.8 864.8 L1602.0 861.6 L1602.2 863.8 L1602.5 865.8 L1602.8 861.9 L1603.0 863.7 L1603.2 863.2 L1603.5 864.7 L1603.8 862.4 L1604.0 864.2 L1604.2 857.0 L1604.5 862.0 L1604.8 865.3 L1605.0 864.8 L1605.2 859.7 L1605.5 860.2 L1605.8 863.9 L1606.0 863.8 L1606.2 864.1 L1606.5 862.9 L1606.8 863.0 L1607.0 865.9 L1607.2 859.7 L1607.5 858.3 L1607.8 865.8 L1608.0 860.2 L1608.2 864.7 L1608.5 860.5 L1608.8 859.2 L1609.0 867.4 L1609.2 862.3 L1609.5 858.1 L1609.8 861.8 L1610.0 861.9 L1610.2 861.7 L1610.5 862.9 L1610.8 858.7 L1611.0 861.4 L1611.2 863.6 L1611.5 864.1 L1611.8 862.4 L1612.0 859.6 L1612.2 855.9 L1612.5 866.6 L1612.8 858.5 L1613.0 860.5 L1613.2 862.0 L1613.5 863.3 L1613.8 861.8 L1614.0 859.3 L1614.2 861.6 L1614.5 868.2 L1614.8 869.3 L1615.0 861.0 L1615.2 863.6 L1615.5 856.2 L1615.8 862.2 L1616.0 863.7 L1616.2 860.5 L1616.5 867.1 L1616.8 864.1 L1617.0 863.3 L1617.2 854.0 L1617.5 859.4 L1617.8 863.5 L1618.0 859.7 L1618.2 855.7 L1618.5 859.4 L1618.8 865.8 L1619.0 863.2 L1619.2 863.7 L1619.5 861.6 L1619.8 866.0 L1620.0 853.6 L1620.2 857.2 L1620.5 866.8 L1620.8 864.1 L1621.0 861.6 L1621.2 859.7 L1621.5 855.1 L1621.8 859.4 L1622.0 860.2 L1622.2 857.8 L1622.5 864.8 L1622.8 863.7 L1623.0 859.6 L1623.2 863.3 L1623.5 860.3 L1623.8 861.2 L1624.0 858.9 L1624.2 867.8 L1624.5 855.6 L1624.8 859.8 L1625.0 863.4 L1625.2 863.4 L1625.5 855.1 L1625.8 857.2 L1626.0 859.8 L1626.2 857.6 L1626.5 857.9 L1626.8 859.2 L1627.0 859.4 L1627.2 863.3 L1627.5 854.6 L1627.8 863.1 L1628.0 859.1 L1628.2 861.6 L1628.5 858.6 L1628.8 867.0 L1629.0 854.0 L1629.2 863.3 L1629.5 858.3 L1629.8 859.0 L1630.0 864.2 L1630.2 859.2 L1630.5 862.7 L1630.8 864.4 L1631.0 858.1 L1631.2 866.3 L1631.5 863.9 L1631.8 859.4 L1632.0 860.8 L1632.2 857.9 L1632.5 861.1 L1632.8 862.9 L1633.0 863.4 L1633.2 861.0 L1633.5 858.7 L1633.8 858.4 L1634.0 857.5 L1634.2 859.6 L1634.5 862.4 L1634.8 858.7 L1635.0 858.5 L1635.2 857.3 L1635.5 862.4 L1635.8 859.9 L1636.0 855.7 L1636.2 864.2 L1636.5 864.1 L1636.8 860.9 L1637.0 859.8 L1637.2 860.8 L1637.5 858.1 L1637.8 864.1 L1638.0 865.3 L1638.2 864.2 L1638.5 861.8 L1638.8 861.9 L1639.0 862.8 L1639.2 866.5 L1639.5 858.8 L1639.8 861.2 L1640.0 859.2 L1640.2 857.6 L1640.5 862.4 L1640.8 864.9 L1641.0 858.2 L1641.2 864.6 L1641.5 863.6 L1641.8 863.0 L1642.0 865.8 L1642.2 859.6 L1642.5 866.7 L1642.8 860.6 L1643.0 863.4 L1643.2 857.0 L1643.5 864.9 L1643.8 862.0 L1644.0 860.2 L1644.2 858.8 L1644.5 862.6 L1644.8 866.1 L1645.0 863.7 L1645.2 861.0 L1645.5 859.8 L1645.8 858.9 L1646.0 861.2 L1646.2 857.3 L1646.5 861.1 L1646.8 865.7 L1647.0 862.2 L1647.2 861.9 L1647.5 860.6 L1647.8 864.7 L1648.0 864.4 L1648.2 866.9 L1648.5 860.4 L1648.8 859.1 L1649.0 860.7 L1649.2 858.8 L1649.5 862.5 L1649.8 861.3 L1650.0 860.0 L1650.2 862.5 L1650.5 865.8 L1650.8 864.9 L1651.0 860.7 L1651.2 862.8 L1651.5 863.6 L1651.8 864.7 L1652.0 861.6 L1652.2 858.7 L1652.5 863.7 L1652.8 859.7 L1653.0 861.5 L1653.2 861.9 L1653.5 865.6 L1653.8 861.2 L1654.0 863.2 L1654.2 862.0 L1654.5 861.0 L1654.8 865.4 L1655.0 861.3 L1655.2 864.2 L1655.5 863.6 L1655.8 857.0 L1656.0 857.6 L1656.2 855.4 L1656.5 863.7 L1656.8 863.6 L1657.0 861.2 L1657.2 861.2 L1657.5 861.8 L1657.8 860.8 L1658.0 862.7 L1658.2 862.7 L1658.5 860.1 L1658.8 867.2 L1659.0 866.0 L1659.2 861.6 L1659.5 869.6 L1659.8 870.4 L1660.0 866.7 L1660.2 866.6 L1660.5 861.1 L1660.8 861.9 L1661.0 858.0 L1661.2 861.6 L1661.5 865.9 L1661.8 861.7 L1662.0 857.7 L1662.2 867.9 L1662.5 869.0 L1662.8 867.6 L1663.0 858.2 L1663.2 865.5 L1663.5 860.4 L1663.8 862.6 L1664.0 865.2 L1664.2 867.7 L1664.5 861.1 L1664.8 861.9 L1665.0 859.1 L1665.2 863.0 L1665.5 860.0 L1665.8 861.5 L1666.0 865.4 L1666.2 863.0 L1666.5 863.4 L1666.8 863.9 L1667.0 865.6 L1667.2 867.4 L1667.5 859.5 L1667.8 858.1 L1668.0 864.7 L1668.2 865.3 L1668.5 867.4 L1668.8 865.6 L1669.0 868.5 L1669.2 864.7 L1669.5 861.2 L1669.8 866.3 L1670.0 860.4 L1670.2 861.0 L1670.5 864.4 L1670.8 862.4 L1671.0 866.1 L1671.2 862.0 L1671.5 868.9 L1671.8 860.0 L1672.0 865.4 L1672.2 861.8 L1672.5 867.6 L1672.8 861.4 L1673.0 865.6 L1673.2 855.9 L1673.5 861.0 L1673.8 868.4 L1674.0 863.9 L1674.2 863.5 L1674.5 866.1 L1674.8 870.8 L1675.0 859.9 L1675.2 863.1 L1675.5 861.9 L1675.8 865.5 L1676.0 861.1 L1676.2 858.5 L1676.5 858.6 L1676.8 865.4 L1677.0 864.0 L1677.2 866.1 L1677.5 858.4 L1677.8 860.6 L1678.0 861.7 L1678.2 866.1 L1678.5 864.8 L1678.8 862.9 L1679.0 860.3 L1679.2 864.0 L1679.5 862.0 L1679.8 866.2 L1680.0 868.9 L1680.2 863.8 L1680.5 860.0 L1680.8 870.9 L1681.0 865.5 L1681.2 865.2 L1681.5 863.9 L1681.8 864.1 L1682.0 863.8 L1682.2 864.3 L1682.5 858.9 L1682.8 861.3 L1683.0 863.3 L1683.2 864.0 L1683.5 864.2 L1683.8 864.9 L1684.0 857.9 L1684.2 860.6 L1684.5 861.5 L1684.8 864.0 L1685.0 863.0 L1685.2 869.8 L1685.5 862.4 L1685.8 862.9 L1686.0 858.8 L1686.2 869.3 L1686.5 863.9 L1686.8 863.3 L1687.0 861.7 L1687.2 863.9 L1687.5 862.6 L1687.8 867.5 L1688.0 861.2 L1688.2 862.3 L1688.5 862.4 L1688.8 864.8 L1689.0 864.1 L1689.2 864.3 L1689.5 863.7" fill="none" stroke="#0403ee" stroke-width="7.8" stroke-linejoin="round" stroke-linecap="butt"/>
<g stroke="#000" stroke-linecap="round" fill="none">
<line x1="135.3" y1="60.9" x2="1690.6" y2="60.9" stroke-width="4.4" stroke-linecap="butt"/>
<line x1="135.3" y1="1512.1" x2="1690.6" y2="1512.1" stroke-width="5" stroke-linecap="butt"/>
<line x1="135.3" y1="42" x2="135.3" y2="1531.5" stroke-width="5"/>
<line x1="1690.6" y1="42" x2="1690.6" y2="1531.5" stroke-width="5"/>
<line x1="246.4" y1="52" x2="246.4" y2="59.9" stroke-width="5"/>
<line x1="246.4" y1="1512.6" x2="246.4" y2="1521.5" stroke-width="5"/>
<line x1="357.5" y1="42" x2="357.5" y2="59.9" stroke-width="5"/>
<line x1="357.5" y1="1512.6" x2="357.5" y2="1531.5" stroke-width="5"/>
<line x1="468.6" y1="52" x2="468.6" y2="59.9" stroke-width="5"/>
<line x1="468.6" y1="1512.6" x2="468.6" y2="1521.5" stroke-width="5"/>
<line x1="579.7" y1="42" x2="579.7" y2="59.9" stroke-width="5"/>
<line x1="579.7" y1="1512.6" x2="579.7" y2="1531.5" stroke-width="5"/>
<line x1="690.8" y1="52" x2="690.8" y2="59.9" stroke-width="5"/>
<line x1="690.8" y1="1512.6" x2="690.8" y2="1521.5" stroke-width="5"/>
<line x1="801.9" y1="42" x2="801.9" y2="59.9" stroke-width="5"/>
<line x1="801.9" y1="1512.6" x2="801.9" y2="1531.5" stroke-width="5"/>
<line x1="913.0" y1="52" x2="913.0" y2="59.9" stroke-width="5"/>
<line x1="913.0" y1="1512.6" x2="913.0" y2="1521.5" stroke-width="5"/>
<line x1="1024.0" y1="42" x2="1024.0" y2="59.9" stroke-width="5"/>
<line x1="1024.0" y1="1512.6" x2="1024.0" y2="1531.5" stroke-width="5"/>
<line x1="1135.1" y1="52" x2="1135.1" y2="59.9" stroke-width="5"/>
<line x1="1135.1" y1="1512.6" x2="1135.1" y2="1521.5" stroke-width="5"/>
<line x1="1246.2" y1="42" x2="1246.2" y2="59.9" stroke-width="5"/>
<line x1="1246.2" y1="1512.6" x2="1246.2" y2="1531.5" stroke-width="5"/>
<line x1="1357.3" y1="52" x2="1357.3" y2="59.9" stroke-width="5"/>
<line x1="1357.3" y1="1512.6" x2="1357.3" y2="1521.5" stroke-width="5"/>
<line x1="1468.4" y1="42" x2="1468.4" y2="59.9" stroke-width="5"/>
<line x1="1468.4" y1="1512.6" x2="1468.4" y2="1531.5" stroke-width="5"/>
<line x1="1579.5" y1="52" x2="1579.5" y2="59.9" stroke-width="5"/>
<line x1="1579.5" y1="1512.6" x2="1579.5" y2="1521.5" stroke-width="5"/>
</g>
<polygon points="461.1,1486.1 462.7,1485.3 466.7,1485.3 466.7,1512.4 464.5,1514.4 461.1,1512.4" fill="#0a8282"/>
<polygon points="489.7,1484.7 491.3,1483.9 495.3,1483.9 495.3,1512.4 493.1,1514.4 489.7,1512.4" fill="#0a8282"/>
<polygon points="541.2,1485.6 542.8,1484.8 546.8,1484.8 546.8,1512.4 544.6,1514.4 541.2,1512.4" fill="#0a8282"/>
<polygon points="604.8,1486.0 606.4,1485.2 610.4,1485.2 610.4,1512.4 608.2,1514.4 604.8,1512.4" fill="#0a8282"/>
<polygon points="1019.2,1484.6 1020.8,1483.8 1024.8,1483.8 1024.8,1512.4 1022.6,1514.4 1019.2,1512.4" fill="#0a8282"/>
<polygon points="1064.1,1484.9 1065.7,1484.1 1069.7,1484.1 1069.7,1512.4 1067.5,1514.4 1064.1,1512.4" fill="#0a8282"/>
<polygon points="1283.5,1484.9 1285.1,1484.1 1289.1,1484.1 1289.1,1512.4 1286.9,1514.4 1283.5,1512.4" fill="#0a8282"/>
<polygon points="1523.5,1485.1 1525.1,1484.3 1529.1,1484.3 1529.1,1512.4 1526.9,1514.4 1523.5,1512.4" fill="#0a8282"/>
<g font-family="'Liberation Serif', serif" font-weight="bold" font-size="55.2" text-anchor="middle" fill="#000">
<text x="134.8" y="1587.5">20</text>
<text x="357.0" y="1587.5">30</text>
<text x="579.2" y="1587.5">40</text>
<text x="801.4" y="1587.5">50</text>
<text x="1023.5" y="1587.5">60</text>
<text x="1245.7" y="1587.5">70</text>
<text x="1467.9" y="1587.5">80</text>
<text x="1690.1" y="1587.5">90</text>
</g>
<g font-family="'Liberation Serif', serif" style="font-kerning:none">
<text transform="translate(99.0 1001.7) rotate(-90)" font-size="78" font-weight="bold" fill="#000" textLength="505.3" lengthAdjust="spacing">Intensity (a. u.)</text>
<text transform="translate(670.8 1698.8)" font-size="83" font-weight="bold" fill="#000" textLength="448.4" lengthAdjust="spacing">2 theta (deg)</text>
<text transform="translate(152.5 639.4)" font-size="48" font-weight="bold" fill="#000" textLength="268.5" lengthAdjust="spacing">Hier-TaN/Ta</text>
<text transform="translate(156.6 1272.5)" font-size="48" font-weight="bold" fill="#000" textLength="177.0" lengthAdjust="spacing">Ti6Al4V</text>
<text transform="translate(472.1 328.3) rotate(-90)" font-size="40" font-weight="bold" fill="#000" textLength="88.0" lengthAdjust="spacing">(110)</text>
<text transform="translate(514.3 357.9) rotate(-90)" font-size="40" font-weight="bold" fill="#000" textLength="89.1" lengthAdjust="spacing">(111)</text>
<text transform="translate(568.5 599.2) rotate(-90)" font-size="40" font-weight="bold" fill="#000" textLength="88.5" lengthAdjust="spacing">(110)</text>
<text transform="translate(622.8 643.0) rotate(-90)" font-size="40" font-weight="bold" fill="#000" textLength="88.5" lengthAdjust="spacing">(200)</text>
<text transform="translate(1036.2 743.8) rotate(-90)" font-size="40" font-weight="bold" fill="#000" textLength="89.1" lengthAdjust="spacing">(220)</text>
<text transform="translate(1083.6 769.5) rotate(-90)" font-size="40" font-weight="bold" fill="#000" textLength="88.6" lengthAdjust="spacing">(300)</text>
<text transform="translate(1299.6 738.5) rotate(-90)" font-size="40" font-weight="bold" fill="#000" textLength="89.2" lengthAdjust="spacing">(311)</text>
<text transform="translate(1537.7 788.3) rotate(-90)" font-size="40" font-weight="bold" fill="#000" textLength="89.1" lengthAdjust="spacing">(220)</text>
<text transform="translate(189.1 965.1)" font-size="38" font-weight="normal" fill="#7a1fd0" textLength="157.1" lengthAdjust="spacing">Ti-6Al-4V</text>
<text transform="translate(188.1 1013.3)" font-size="38" font-weight="normal" fill="#7a1fd0" textLength="274.6" lengthAdjust="spacing">overlapping peaks</text>
</g>
<line x1="374.4" y1="961" x2="524.6" y2="739.0" stroke="#8d3ae0" stroke-width="1.3"/>
<polygon points="537.2,720.4 529.6,742.4 519.6,735.7" fill="#8412ee"/>
<line x1="376" y1="961" x2="569.1" y2="715.3" stroke="#8d3ae0" stroke-width="1.3"/>
<polygon points="583.0,697.6 573.8,719.0 564.4,711.6" fill="#8412ee"/>
<rect x="444.6" y="345.2" width="26.3" height="30.7" fill="#028181" stroke="#0a2e2e" stroke-width="1.7"/>
<ellipse cx="493.7" cy="382.8" rx="14.0" ry="16.9" fill="#028181" stroke="#0a2e2e" stroke-width="1.7"/>
<polygon points="549.6,618.0 569.0,639 549.6,660.0 530.2,639" fill="#028181" stroke="#0a2e2e" stroke-width="1.7"/>
<ellipse cx="610.4" cy="684.8" rx="14.0" ry="16.9" fill="#028181" stroke="#0a2e2e" stroke-width="1.7"/>
<ellipse cx="1022.6" cy="769.9" rx="14.0" ry="16.9" fill="#028181" stroke="#0a2e2e" stroke-width="1.7"/>
<rect x="1055.5" y="780.1" width="26.3" height="30.7" fill="#028181" stroke="#0a2e2e" stroke-width="1.7"/>
<ellipse cx="1286.2" cy="764.3" rx="14.0" ry="16.9" fill="#028181" stroke="#0a2e2e" stroke-width="1.7"/>
<polygon points="1527.7,794.9 1547.1000000000001,815.9 1527.7,836.9 1508.3,815.9" fill="#028181" stroke="#0a2e2e" stroke-width="1.7"/>
<rect x="1372.7" y="137.4" width="30.8" height="35.3" fill="#028181" stroke="#0a2e2e" stroke-width="1.7"/>
<ellipse cx="1387" cy="247" rx="14.1" ry="17.099999999999998" fill="#028181" stroke="#0a2e2e" stroke-width="1.7"/>
<polygon points="1393,332.40000000000003 1412.6,353.3 1393,374.2 1373.4,353.3" fill="#028181" stroke="#0a2e2e" stroke-width="1.7"/>
<g font-family="'Liberation Serif', serif" style="font-kerning:none">
<text transform="translate(1496.1 187.4)" font-size="90" font-weight="bold" fill="#028181" textLength="166.5" lengthAdjust="spacing">TaN</text>
<text transform="translate(1498.1 286.1)" font-size="90" font-weight="bold" fill="#028181" textLength="167.5" lengthAdjust="spacing">TaN</text>
<text transform="translate(1436.9 377.5)" font-size="90" font-weight="bold" fill="#028181" textLength="102.9" lengthAdjust="spacing">Ta</text>
<text transform="translate(1413.0 187.4) scale(1.08 1)" font-size="77" font-weight="bold" fill="#028181">ε</text>
<text transform="translate(1409.0 286.1)" font-size="80" font-weight="bold" fill="#028181">δ</text>
<rect x="1470.4" y="174" width="23.9" height="3.8" fill="#028181"/>
<rect x="1472.6" y="272.4" width="24.5" height="3.8" fill="#028181"/>
</g>
</svg>
</body></html>
